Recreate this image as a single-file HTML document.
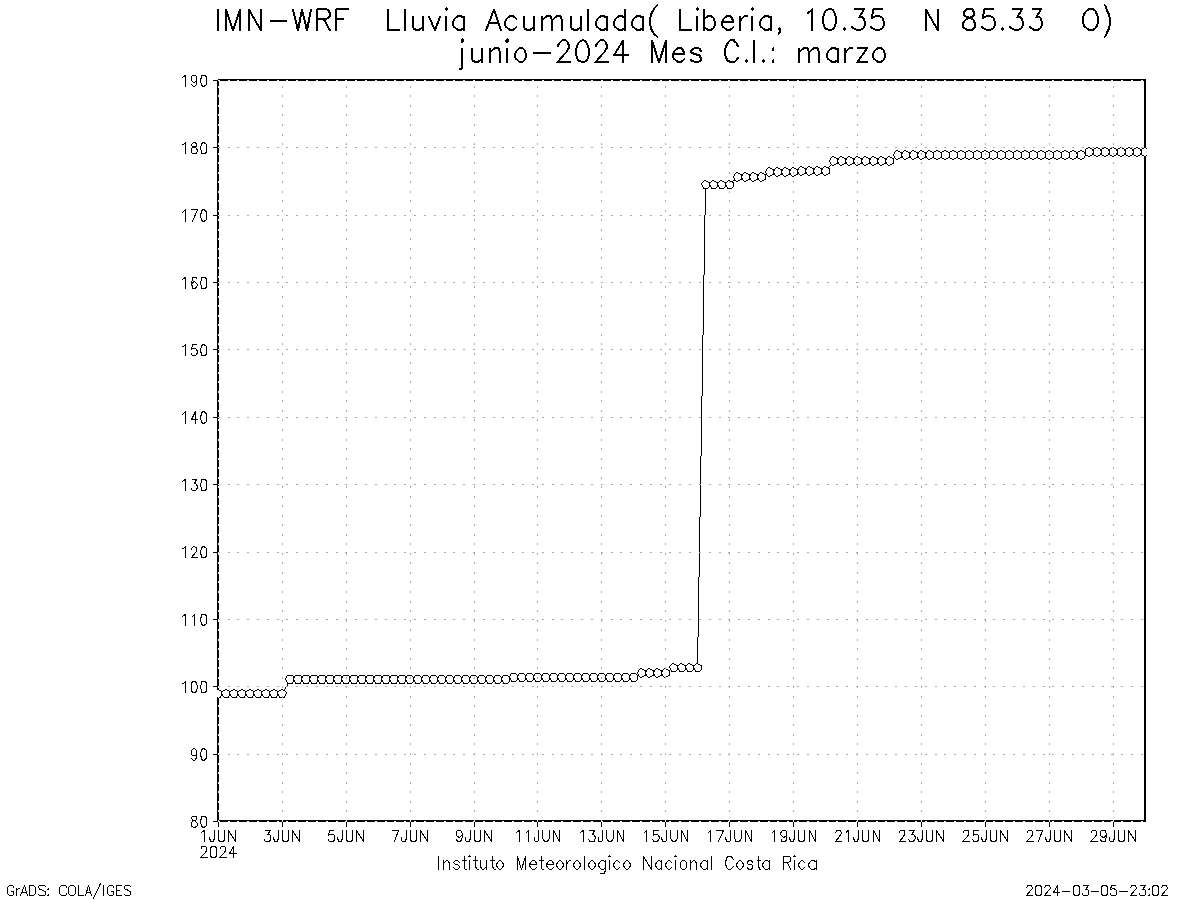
<!DOCTYPE html>
<html><head><meta charset="utf-8"><title>IMN-WRF Lluvia Acumulada Liberia</title>
<style>html,body{margin:0;padding:0;background:#fff;width:1200px;height:900px;overflow:hidden;font-family:"Liberation Sans",sans-serif}svg{display:block}</style>
</head><body>
<svg width="1200" height="900" viewBox="0 0 1200 900">
<rect width="1200" height="900" fill="#fff"/>
<path d="M217 80h2v742h-2zM218 79h928v2h-928zM1144 79h2v743h-2zM217 820h929v2h-929zM213 821h4v1h-4zM213 754h4v1h-4zM213 686h4v1h-4zM213 619h4v1h-4zM213 552h4v1h-4zM213 484h4v1h-4zM213 417h4v1h-4zM213 349h4v1h-4zM213 282h4v1h-4zM213 215h4v1h-4zM213 147h4v1h-4zM213 80h4v1h-4zM218 822h1v5h-1zM282 822h1v5h-1zM346 822h1v5h-1zM410 822h1v5h-1zM474 822h1v5h-1zM537 822h1v5h-1zM601 822h1v5h-1zM665 822h1v5h-1zM729 822h1v5h-1zM793 822h1v5h-1zM857 822h1v5h-1zM921 822h1v5h-1zM985 822h1v5h-1zM1049 822h1v5h-1zM1113 822h1v5h-1z" fill="#000" shape-rendering="crispEdges"/>
<path d="M1144 148h2v1h-2zM1144 149h3v1h-3zM1144 150h3v1h-3zM1144 151h3v1h-3zM1144 152h3v1h-3zM1144 153h3v1h-3zM1144 154h3v1h-3zM1144 155h2v1h-2zM217 690h2v1h-2zM217 691h2v1h-2zM217 692h2v1h-2zM217 693h2v1h-2zM217 694h2v1h-2zM217 695h2v1h-2zM217 696h2v1h-2z" fill="#fff" shape-rendering="crispEdges"/>
<path d="M1088 147h2v1h-2zM1096 147h2v1h-2zM1104 147h2v1h-2zM1112 147h2v1h-2zM1120 147h2v1h-2zM1128 147h2v1h-2zM1136 147h2v1h-2zM1144 147h2v1h-2zM1086 148h2v1h-2zM1090 148h2v1h-2zM1094 148h2v1h-2zM1098 148h2v1h-2zM1102 148h2v1h-2zM1106 148h2v1h-2zM1110 148h2v1h-2zM1114 148h2v1h-2zM1118 148h2v1h-2zM1122 148h2v1h-2zM1126 148h2v1h-2zM1130 148h2v1h-2zM1134 148h2v1h-2zM1138 148h2v1h-2zM1142 148h2v1h-2zM1146 148h1v1h-1zM1085 149h1v1h-1zM1092 149h2v1h-2zM1100 149h2v1h-2zM1108 149h2v1h-2zM1116 149h2v1h-2zM1124 149h2v1h-2zM1132 149h2v1h-2zM1140 149h2v1h-2zM896 150h2v1h-2zM904 150h2v1h-2zM912 150h2v1h-2zM920 150h2v1h-2zM928 150h2v1h-2zM936 150h2v1h-2zM944 150h2v1h-2zM952 150h2v1h-2zM960 150h2v1h-2zM968 150h2v1h-2zM976 150h2v1h-2zM984 150h2v1h-2zM992 150h2v1h-2zM1000 150h2v1h-2zM1008 150h2v1h-2zM1016 150h2v1h-2zM1024 150h2v1h-2zM1032 150h2v1h-2zM1040 150h2v1h-2zM1048 150h2v1h-2zM1056 150h2v1h-2zM1064 150h2v1h-2zM1072 150h2v1h-2zM1080 150h2v1h-2zM1085 150h1v1h-1zM1092 150h2v1h-2zM1100 150h2v1h-2zM1108 150h2v1h-2zM1116 150h2v1h-2zM1124 150h2v1h-2zM1132 150h2v1h-2zM1140 150h2v1h-2zM895 151h1v1h-1zM898 151h2v1h-2zM903 151h1v1h-1zM906 151h2v1h-2zM911 151h1v1h-1zM914 151h2v1h-2zM919 151h1v1h-1zM922 151h2v1h-2zM927 151h1v1h-1zM930 151h2v1h-2zM934 151h2v1h-2zM938 151h2v1h-2zM942 151h2v1h-2zM946 151h2v1h-2zM950 151h2v1h-2zM954 151h2v1h-2zM958 151h2v1h-2zM962 151h2v1h-2zM966 151h2v1h-2zM970 151h2v1h-2zM974 151h2v1h-2zM978 151h2v1h-2zM982 151h2v1h-2zM986 151h2v1h-2zM990 151h2v1h-2zM994 151h2v1h-2zM998 151h2v1h-2zM1002 151h2v1h-2zM1006 151h2v1h-2zM1010 151h2v1h-2zM1014 151h2v1h-2zM1018 151h2v1h-2zM1022 151h2v1h-2zM1026 151h2v1h-2zM1030 151h2v1h-2zM1034 151h2v1h-2zM1038 151h2v1h-2zM1042 151h2v1h-2zM1046 151h2v1h-2zM1050 151h2v1h-2zM1054 151h2v1h-2zM1058 151h2v1h-2zM1062 151h2v1h-2zM1066 151h2v1h-2zM1070 151h2v1h-2zM1074 151h2v1h-2zM1078 151h2v1h-2zM1082 151h2v1h-2zM1085 151h1v1h-1zM1093 151h1v1h-1zM1101 151h1v1h-1zM1109 151h1v1h-1zM1117 151h1v1h-1zM1125 151h1v1h-1zM1133 151h1v1h-1zM1141 151h1v1h-1zM894 152h1v1h-1zM900 152h3v1h-3zM908 152h3v1h-3zM916 152h3v1h-3zM924 152h3v1h-3zM932 152h2v1h-2zM940 152h2v1h-2zM948 152h2v1h-2zM956 152h2v1h-2zM964 152h2v1h-2zM972 152h2v1h-2zM980 152h2v1h-2zM988 152h2v1h-2zM996 152h2v1h-2zM1004 152h2v1h-2zM1012 152h2v1h-2zM1020 152h2v1h-2zM1028 152h2v1h-2zM1036 152h2v1h-2zM1044 152h2v1h-2zM1052 152h2v1h-2zM1060 152h2v1h-2zM1068 152h2v1h-2zM1076 152h2v1h-2zM1084 152h2v1h-2zM1093 152h1v1h-1zM1101 152h1v1h-1zM1109 152h1v1h-1zM1117 152h1v1h-1zM1125 152h1v1h-1zM1133 152h1v1h-1zM1141 152h1v1h-1zM894 153h1v1h-1zM901 153h2v1h-2zM909 153h2v1h-2zM917 153h2v1h-2zM925 153h2v1h-2zM933 153h1v1h-1zM941 153h1v1h-1zM949 153h1v1h-1zM957 153h1v1h-1zM965 153h1v1h-1zM973 153h1v1h-1zM981 153h1v1h-1zM989 153h1v1h-1zM997 153h1v1h-1zM1005 153h1v1h-1zM1013 153h1v1h-1zM1021 153h1v1h-1zM1029 153h1v1h-1zM1037 153h1v1h-1zM1045 153h1v1h-1zM1053 153h1v1h-1zM1061 153h1v1h-1zM1069 153h1v1h-1zM1076 153h2v1h-2zM1084 153h2v1h-2zM1092 153h2v1h-2zM1100 153h2v1h-2zM1108 153h2v1h-2zM1116 153h2v1h-2zM1124 153h2v1h-2zM1132 153h2v1h-2zM1140 153h2v1h-2zM893 154h1v1h-1zM901 154h1v1h-1zM909 154h1v1h-1zM917 154h1v1h-1zM925 154h1v1h-1zM933 154h1v1h-1zM941 154h1v1h-1zM949 154h1v1h-1zM957 154h1v1h-1zM965 154h1v1h-1zM973 154h1v1h-1zM981 154h1v1h-1zM989 154h1v1h-1zM997 154h1v1h-1zM1005 154h1v1h-1zM1013 154h1v1h-1zM1021 154h1v1h-1zM1029 154h1v1h-1zM1037 154h1v1h-1zM1045 154h1v1h-1zM1053 154h1v1h-1zM1061 154h1v1h-1zM1069 154h1v1h-1zM1077 154h1v1h-1zM1085 154h1v1h-1zM1092 154h2v1h-2zM1100 154h2v1h-2zM1108 154h2v1h-2zM1116 154h2v1h-2zM1124 154h2v1h-2zM1132 154h2v1h-2zM1140 154h2v1h-2zM893 155h1v1h-1zM901 155h1v1h-1zM909 155h1v1h-1zM917 155h1v1h-1zM925 155h1v1h-1zM933 155h1v1h-1zM941 155h1v1h-1zM949 155h1v1h-1zM957 155h1v1h-1zM965 155h1v1h-1zM973 155h1v1h-1zM981 155h1v1h-1zM989 155h1v1h-1zM997 155h1v1h-1zM1005 155h1v1h-1zM1013 155h1v1h-1zM1021 155h1v1h-1zM1029 155h1v1h-1zM1037 155h1v1h-1zM1045 155h1v1h-1zM1053 155h1v1h-1zM1061 155h1v1h-1zM1069 155h1v1h-1zM1077 155h1v1h-1zM1085 155h3v1h-3zM1090 155h2v1h-2zM1094 155h2v1h-2zM1098 155h2v1h-2zM1102 155h2v1h-2zM1106 155h2v1h-2zM1110 155h2v1h-2zM1114 155h2v1h-2zM1118 155h2v1h-2zM1122 155h2v1h-2zM1126 155h2v1h-2zM1130 155h2v1h-2zM1134 155h2v1h-2zM1138 155h2v1h-2zM1142 155h2v1h-2zM1146 155h1v1h-1zM832 156h2v1h-2zM840 156h2v1h-2zM848 156h2v1h-2zM856 156h2v1h-2zM864 156h2v1h-2zM872 156h2v1h-2zM880 156h2v1h-2zM888 156h2v1h-2zM894 156h1v1h-1zM901 156h2v1h-2zM909 156h2v1h-2zM917 156h2v1h-2zM925 156h2v1h-2zM933 156h1v1h-1zM941 156h1v1h-1zM949 156h1v1h-1zM957 156h1v1h-1zM965 156h1v1h-1zM973 156h1v1h-1zM981 156h1v1h-1zM989 156h1v1h-1zM997 156h1v1h-1zM1005 156h1v1h-1zM1013 156h1v1h-1zM1021 156h1v1h-1zM1029 156h1v1h-1zM1037 156h1v1h-1zM1045 156h1v1h-1zM1053 156h1v1h-1zM1061 156h1v1h-1zM1069 156h1v1h-1zM1076 156h2v1h-2zM1084 156h1v1h-1zM1088 156h2v1h-2zM1096 156h2v1h-2zM1104 156h2v1h-2zM1112 156h2v1h-2zM1120 156h2v1h-2zM1128 156h2v1h-2zM1136 156h2v1h-2zM1144 156h2v1h-2zM831 157h1v1h-1zM834 157h2v1h-2zM839 157h1v1h-1zM842 157h2v1h-2zM847 157h1v1h-1zM850 157h2v1h-2zM855 157h1v1h-1zM858 157h2v1h-2zM863 157h1v1h-1zM866 157h2v1h-2zM871 157h1v1h-1zM874 157h2v1h-2zM879 157h1v1h-1zM882 157h2v1h-2zM887 157h1v1h-1zM890 157h2v1h-2zM894 157h1v1h-1zM900 157h3v1h-3zM908 157h3v1h-3zM916 157h3v1h-3zM924 157h3v1h-3zM932 157h2v1h-2zM940 157h2v1h-2zM948 157h2v1h-2zM956 157h2v1h-2zM964 157h2v1h-2zM972 157h2v1h-2zM980 157h2v1h-2zM988 157h2v1h-2zM996 157h2v1h-2zM1004 157h2v1h-2zM1012 157h2v1h-2zM1020 157h2v1h-2zM1028 157h2v1h-2zM1036 157h2v1h-2zM1044 157h2v1h-2zM1052 157h2v1h-2zM1060 157h2v1h-2zM1068 157h2v1h-2zM1076 157h2v1h-2zM1084 157h1v1h-1zM830 158h1v1h-1zM836 158h3v1h-3zM844 158h3v1h-3zM852 158h3v1h-3zM860 158h3v1h-3zM868 158h3v1h-3zM876 158h3v1h-3zM884 158h3v1h-3zM892 158h2v1h-2zM895 158h1v1h-1zM898 158h2v1h-2zM903 158h1v1h-1zM906 158h2v1h-2zM911 158h1v1h-1zM914 158h2v1h-2zM919 158h1v1h-1zM922 158h2v1h-2zM927 158h1v1h-1zM930 158h2v1h-2zM934 158h2v1h-2zM938 158h2v1h-2zM942 158h2v1h-2zM946 158h2v1h-2zM950 158h2v1h-2zM954 158h2v1h-2zM958 158h2v1h-2zM962 158h2v1h-2zM966 158h2v1h-2zM970 158h2v1h-2zM974 158h2v1h-2zM978 158h2v1h-2zM982 158h2v1h-2zM986 158h2v1h-2zM990 158h2v1h-2zM994 158h2v1h-2zM998 158h2v1h-2zM1002 158h2v1h-2zM1006 158h2v1h-2zM1010 158h2v1h-2zM1014 158h2v1h-2zM1018 158h2v1h-2zM1022 158h2v1h-2zM1026 158h2v1h-2zM1030 158h2v1h-2zM1034 158h2v1h-2zM1038 158h2v1h-2zM1042 158h2v1h-2zM1046 158h2v1h-2zM1050 158h2v1h-2zM1054 158h2v1h-2zM1058 158h2v1h-2zM1062 158h2v1h-2zM1066 158h2v1h-2zM1070 158h2v1h-2zM1074 158h2v1h-2zM1078 158h2v1h-2zM1082 158h2v1h-2zM830 159h1v1h-1zM837 159h2v1h-2zM845 159h2v1h-2zM853 159h2v1h-2zM861 159h2v1h-2zM869 159h2v1h-2zM877 159h2v1h-2zM885 159h2v1h-2zM893 159h1v1h-1zM896 159h2v1h-2zM904 159h2v1h-2zM912 159h2v1h-2zM920 159h2v1h-2zM928 159h2v1h-2zM936 159h2v1h-2zM944 159h2v1h-2zM952 159h2v1h-2zM960 159h2v1h-2zM968 159h2v1h-2zM976 159h2v1h-2zM984 159h2v1h-2zM992 159h2v1h-2zM1000 159h2v1h-2zM1008 159h2v1h-2zM1016 159h2v1h-2zM1024 159h2v1h-2zM1032 159h2v1h-2zM1040 159h2v1h-2zM1048 159h2v1h-2zM1056 159h2v1h-2zM1064 159h2v1h-2zM1072 159h2v1h-2zM1080 159h2v1h-2zM829 160h1v1h-1zM837 160h1v1h-1zM845 160h1v1h-1zM853 160h1v1h-1zM861 160h1v1h-1zM869 160h1v1h-1zM877 160h1v1h-1zM885 160h1v1h-1zM893 160h1v1h-1zM829 161h1v1h-1zM837 161h1v1h-1zM845 161h1v1h-1zM853 161h1v1h-1zM861 161h1v1h-1zM869 161h1v1h-1zM877 161h1v1h-1zM885 161h1v1h-1zM893 161h1v1h-1zM830 162h1v1h-1zM837 162h2v1h-2zM845 162h2v1h-2zM853 162h2v1h-2zM861 162h2v1h-2zM869 162h2v1h-2zM877 162h2v1h-2zM885 162h2v1h-2zM893 162h1v1h-1zM830 163h1v1h-1zM836 163h3v1h-3zM844 163h3v1h-3zM852 163h3v1h-3zM860 163h3v1h-3zM868 163h3v1h-3zM876 163h3v1h-3zM884 163h3v1h-3zM892 163h2v1h-2zM831 164h1v1h-1zM834 164h2v1h-2zM839 164h1v1h-1zM842 164h2v1h-2zM847 164h1v1h-1zM850 164h2v1h-2zM855 164h1v1h-1zM858 164h2v1h-2zM863 164h1v1h-1zM866 164h2v1h-2zM871 164h1v1h-1zM874 164h2v1h-2zM879 164h1v1h-1zM882 164h2v1h-2zM887 164h1v1h-1zM890 164h2v1h-2zM830 165h1v1h-1zM832 165h2v1h-2zM840 165h2v1h-2zM848 165h2v1h-2zM856 165h2v1h-2zM864 165h2v1h-2zM872 165h2v1h-2zM880 165h2v1h-2zM888 165h2v1h-2zM800 166h2v1h-2zM808 166h2v1h-2zM816 166h2v1h-2zM824 166h2v1h-2zM829 166h1v1h-1zM768 167h2v1h-2zM776 167h2v1h-2zM784 167h2v1h-2zM792 167h2v1h-2zM799 167h1v1h-1zM802 167h2v1h-2zM807 167h1v1h-1zM810 167h2v1h-2zM815 167h1v1h-1zM818 167h2v1h-2zM823 167h1v1h-1zM826 167h3v1h-3zM767 168h1v1h-1zM770 168h2v1h-2zM775 168h1v1h-1zM778 168h2v1h-2zM783 168h1v1h-1zM786 168h2v1h-2zM791 168h1v1h-1zM794 168h2v1h-2zM798 168h1v1h-1zM804 168h3v1h-3zM812 168h3v1h-3zM820 168h3v1h-3zM828 168h2v1h-2zM766 169h1v1h-1zM772 169h3v1h-3zM780 169h3v1h-3zM788 169h3v1h-3zM796 169h3v1h-3zM805 169h2v1h-2zM813 169h2v1h-2zM821 169h2v1h-2zM829 169h1v1h-1zM766 170h1v1h-1zM773 170h2v1h-2zM781 170h2v1h-2zM789 170h2v1h-2zM797 170h1v1h-1zM805 170h1v1h-1zM813 170h1v1h-1zM821 170h1v1h-1zM829 170h1v1h-1zM765 171h1v1h-1zM773 171h1v1h-1zM781 171h1v1h-1zM789 171h1v1h-1zM797 171h1v1h-1zM805 171h1v1h-1zM813 171h1v1h-1zM821 171h1v1h-1zM829 171h1v1h-1zM736 172h2v1h-2zM744 172h2v1h-2zM752 172h2v1h-2zM760 172h2v1h-2zM765 172h1v1h-1zM773 172h1v1h-1zM781 172h1v1h-1zM789 172h1v1h-1zM797 172h2v1h-2zM805 172h2v1h-2zM813 172h2v1h-2zM821 172h2v1h-2zM829 172h1v1h-1zM735 173h1v1h-1zM738 173h2v1h-2zM743 173h1v1h-1zM746 173h2v1h-2zM751 173h1v1h-1zM754 173h2v1h-2zM759 173h1v1h-1zM762 173h2v1h-2zM766 173h1v1h-1zM773 173h2v1h-2zM781 173h2v1h-2zM789 173h2v1h-2zM797 173h2v1h-2zM804 173h3v1h-3zM812 173h3v1h-3zM820 173h3v1h-3zM828 173h2v1h-2zM734 174h1v1h-1zM740 174h3v1h-3zM748 174h3v1h-3zM756 174h3v1h-3zM764 174h3v1h-3zM772 174h3v1h-3zM780 174h3v1h-3zM788 174h3v1h-3zM796 174h2v1h-2zM799 174h1v1h-1zM802 174h2v1h-2zM807 174h1v1h-1zM810 174h2v1h-2zM815 174h1v1h-1zM818 174h2v1h-2zM823 174h1v1h-1zM826 174h2v1h-2zM734 175h1v1h-1zM741 175h2v1h-2zM749 175h2v1h-2zM757 175h2v1h-2zM765 175h1v1h-1zM767 175h1v1h-1zM770 175h2v1h-2zM775 175h1v1h-1zM778 175h2v1h-2zM783 175h1v1h-1zM786 175h2v1h-2zM791 175h1v1h-1zM794 175h2v1h-2zM800 175h2v1h-2zM808 175h2v1h-2zM816 175h2v1h-2zM824 175h2v1h-2zM733 176h1v1h-1zM741 176h1v1h-1zM749 176h1v1h-1zM757 176h1v1h-1zM765 176h1v1h-1zM768 176h2v1h-2zM776 176h2v1h-2zM784 176h2v1h-2zM792 176h2v1h-2zM733 177h1v1h-1zM741 177h1v1h-1zM749 177h1v1h-1zM757 177h1v1h-1zM765 177h1v1h-1zM734 178h1v1h-1zM741 178h2v1h-2zM749 178h2v1h-2zM757 178h2v1h-2zM765 178h1v1h-1zM734 179h1v1h-1zM740 179h3v1h-3zM748 179h3v1h-3zM756 179h3v1h-3zM764 179h2v1h-2zM704 180h2v1h-2zM712 180h2v1h-2zM720 180h2v1h-2zM728 180h2v1h-2zM733 180h3v1h-3zM738 180h2v1h-2zM743 180h1v1h-1zM746 180h2v1h-2zM751 180h1v1h-1zM754 180h2v1h-2zM759 180h1v1h-1zM762 180h2v1h-2zM703 181h1v1h-1zM706 181h2v1h-2zM711 181h1v1h-1zM714 181h2v1h-2zM719 181h1v1h-1zM722 181h2v1h-2zM727 181h1v1h-1zM730 181h3v1h-3zM736 181h2v1h-2zM744 181h2v1h-2zM752 181h2v1h-2zM760 181h2v1h-2zM702 182h1v1h-1zM708 182h3v1h-3zM716 182h3v1h-3zM724 182h3v1h-3zM732 182h2v1h-2zM701 183h1v1h-1zM709 183h1v1h-1zM717 183h1v1h-1zM725 183h1v1h-1zM733 183h1v1h-1zM701 184h1v1h-1zM709 184h1v1h-1zM717 184h1v1h-1zM725 184h1v1h-1zM733 184h1v1h-1zM702 185h1v1h-1zM709 185h2v1h-2zM717 185h2v1h-2zM725 185h2v1h-2zM733 185h1v1h-1zM702 186h1v1h-1zM709 186h2v1h-2zM717 186h2v1h-2zM725 186h2v1h-2zM733 186h1v1h-1zM703 187h1v1h-1zM708 187h1v1h-1zM711 187h1v1h-1zM716 187h1v1h-1zM719 187h1v1h-1zM724 187h1v1h-1zM727 187h1v1h-1zM732 187h1v1h-1zM703 188h5v1h-5zM711 188h5v1h-5zM719 188h5v1h-5zM727 188h5v1h-5zM705 189h1v1h-1zM705 190h1v1h-1zM705 191h1v1h-1zM705 192h1v1h-1zM705 193h1v1h-1zM705 194h1v1h-1zM705 195h1v1h-1zM705 196h1v1h-1zM705 197h1v1h-1zM705 198h1v1h-1zM705 199h1v1h-1zM705 200h1v1h-1zM705 201h1v1h-1zM705 202h1v1h-1zM705 203h1v1h-1zM705 204h1v1h-1zM705 205h1v1h-1zM705 206h1v1h-1zM705 207h1v1h-1zM705 208h1v1h-1zM705 209h1v1h-1zM705 210h1v1h-1zM705 211h1v1h-1zM705 212h1v1h-1zM705 213h1v1h-1zM705 214h1v1h-1zM704 215h1v1h-1zM704 216h1v1h-1zM704 217h1v1h-1zM704 218h1v1h-1zM704 219h1v1h-1zM704 220h1v1h-1zM704 221h1v1h-1zM704 222h1v1h-1zM704 223h1v1h-1zM704 224h1v1h-1zM704 225h1v1h-1zM704 226h1v1h-1zM704 227h1v1h-1zM704 228h1v1h-1zM704 229h1v1h-1zM704 230h1v1h-1zM704 231h1v1h-1zM704 232h1v1h-1zM704 233h1v1h-1zM704 234h1v1h-1zM704 235h1v1h-1zM704 236h1v1h-1zM704 237h1v1h-1zM704 238h1v1h-1zM704 239h1v1h-1zM704 240h1v1h-1zM704 241h1v1h-1zM704 242h1v1h-1zM704 243h1v1h-1zM704 244h1v1h-1zM704 245h1v1h-1zM704 246h1v1h-1zM704 247h1v1h-1zM704 248h1v1h-1zM704 249h1v1h-1zM704 250h1v1h-1zM704 251h1v1h-1zM704 252h1v1h-1zM704 253h1v1h-1zM704 254h1v1h-1zM704 255h1v1h-1zM704 256h1v1h-1zM704 257h1v1h-1zM704 258h1v1h-1zM704 259h1v1h-1zM704 260h1v1h-1zM704 261h1v1h-1zM704 262h1v1h-1zM704 263h1v1h-1zM704 264h1v1h-1zM704 265h1v1h-1zM704 266h1v1h-1zM704 267h1v1h-1zM704 268h1v1h-1zM704 269h1v1h-1zM704 270h1v1h-1zM704 271h1v1h-1zM704 272h1v1h-1zM704 273h1v1h-1zM704 274h1v1h-1zM703 275h1v1h-1zM703 276h1v1h-1zM703 277h1v1h-1zM703 278h1v1h-1zM703 279h1v1h-1zM703 280h1v1h-1zM703 281h1v1h-1zM703 282h1v1h-1zM703 283h1v1h-1zM703 284h1v1h-1zM703 285h1v1h-1zM703 286h1v1h-1zM703 287h1v1h-1zM703 288h1v1h-1zM703 289h1v1h-1zM703 290h1v1h-1zM703 291h1v1h-1zM703 292h1v1h-1zM703 293h1v1h-1zM703 294h1v1h-1zM703 295h1v1h-1zM703 296h1v1h-1zM703 297h1v1h-1zM703 298h1v1h-1zM703 299h1v1h-1zM703 300h1v1h-1zM703 301h1v1h-1zM703 302h1v1h-1zM703 303h1v1h-1zM703 304h1v1h-1zM703 305h1v1h-1zM703 306h1v1h-1zM703 307h1v1h-1zM703 308h1v1h-1zM703 309h1v1h-1zM703 310h1v1h-1zM703 311h1v1h-1zM703 312h1v1h-1zM703 313h1v1h-1zM703 314h1v1h-1zM703 315h1v1h-1zM703 316h1v1h-1zM703 317h1v1h-1zM703 318h1v1h-1zM703 319h1v1h-1zM703 320h1v1h-1zM703 321h1v1h-1zM703 322h1v1h-1zM703 323h1v1h-1zM703 324h1v1h-1zM703 325h1v1h-1zM703 326h1v1h-1zM703 327h1v1h-1zM703 328h1v1h-1zM703 329h1v1h-1zM703 330h1v1h-1zM703 331h1v1h-1zM703 332h1v1h-1zM703 333h1v1h-1zM703 334h1v1h-1zM702 335h1v1h-1zM702 336h1v1h-1zM702 337h1v1h-1zM702 338h1v1h-1zM702 339h1v1h-1zM702 340h1v1h-1zM702 341h1v1h-1zM702 342h1v1h-1zM702 343h1v1h-1zM702 344h1v1h-1zM702 345h1v1h-1zM702 346h1v1h-1zM702 347h1v1h-1zM702 348h1v1h-1zM702 349h1v1h-1zM702 350h1v1h-1zM702 351h1v1h-1zM702 352h1v1h-1zM702 353h1v1h-1zM702 354h1v1h-1zM702 355h1v1h-1zM702 356h1v1h-1zM702 357h1v1h-1zM702 358h1v1h-1zM702 359h1v1h-1zM702 360h1v1h-1zM702 361h1v1h-1zM702 362h1v1h-1zM702 363h1v1h-1zM702 364h1v1h-1zM702 365h1v1h-1zM702 366h1v1h-1zM702 367h1v1h-1zM702 368h1v1h-1zM702 369h1v1h-1zM702 370h1v1h-1zM702 371h1v1h-1zM702 372h1v1h-1zM702 373h1v1h-1zM702 374h1v1h-1zM702 375h1v1h-1zM702 376h1v1h-1zM702 377h1v1h-1zM702 378h1v1h-1zM702 379h1v1h-1zM702 380h1v1h-1zM702 381h1v1h-1zM702 382h1v1h-1zM702 383h1v1h-1zM702 384h1v1h-1zM702 385h1v1h-1zM702 386h1v1h-1zM702 387h1v1h-1zM702 388h1v1h-1zM702 389h1v1h-1zM702 390h1v1h-1zM702 391h1v1h-1zM702 392h1v1h-1zM702 393h1v1h-1zM702 394h1v1h-1zM702 395h1v1h-1zM701 396h1v1h-1zM701 397h1v1h-1zM701 398h1v1h-1zM701 399h1v1h-1zM701 400h1v1h-1zM701 401h1v1h-1zM701 402h1v1h-1zM701 403h1v1h-1zM701 404h1v1h-1zM701 405h1v1h-1zM701 406h1v1h-1zM701 407h1v1h-1zM701 408h1v1h-1zM701 409h1v1h-1zM701 410h1v1h-1zM701 411h1v1h-1zM701 412h1v1h-1zM701 413h1v1h-1zM701 414h1v1h-1zM701 415h1v1h-1zM701 416h1v1h-1zM701 417h1v1h-1zM701 418h1v1h-1zM701 419h1v1h-1zM701 420h1v1h-1zM701 421h1v1h-1zM701 422h1v1h-1zM701 423h1v1h-1zM701 424h1v1h-1zM701 425h1v1h-1zM701 426h1v1h-1zM701 427h1v1h-1zM701 428h1v1h-1zM701 429h1v1h-1zM701 430h1v1h-1zM701 431h1v1h-1zM701 432h1v1h-1zM701 433h1v1h-1zM701 434h1v1h-1zM701 435h1v1h-1zM701 436h1v1h-1zM701 437h1v1h-1zM701 438h1v1h-1zM701 439h1v1h-1zM701 440h1v1h-1zM701 441h1v1h-1zM701 442h1v1h-1zM701 443h1v1h-1zM701 444h1v1h-1zM701 445h1v1h-1zM701 446h1v1h-1zM701 447h1v1h-1zM701 448h1v1h-1zM701 449h1v1h-1zM701 450h1v1h-1zM701 451h1v1h-1zM701 452h1v1h-1zM701 453h1v1h-1zM701 454h1v1h-1zM701 455h1v1h-1zM700 456h1v1h-1zM700 457h1v1h-1zM700 458h1v1h-1zM700 459h1v1h-1zM700 460h1v1h-1zM700 461h1v1h-1zM700 462h1v1h-1zM700 463h1v1h-1zM700 464h1v1h-1zM700 465h1v1h-1zM700 466h1v1h-1zM700 467h1v1h-1zM700 468h1v1h-1zM700 469h1v1h-1zM700 470h1v1h-1zM700 471h1v1h-1zM700 472h1v1h-1zM700 473h1v1h-1zM700 474h1v1h-1zM700 475h1v1h-1zM700 476h1v1h-1zM700 477h1v1h-1zM700 478h1v1h-1zM700 479h1v1h-1zM700 480h1v1h-1zM700 481h1v1h-1zM700 482h1v1h-1zM700 483h1v1h-1zM700 484h1v1h-1zM700 485h1v1h-1zM700 486h1v1h-1zM700 487h1v1h-1zM700 488h1v1h-1zM700 489h1v1h-1zM700 490h1v1h-1zM700 491h1v1h-1zM700 492h1v1h-1zM700 493h1v1h-1zM700 494h1v1h-1zM700 495h1v1h-1zM700 496h1v1h-1zM700 497h1v1h-1zM700 498h1v1h-1zM700 499h1v1h-1zM700 500h1v1h-1zM700 501h1v1h-1zM700 502h1v1h-1zM700 503h1v1h-1zM700 504h1v1h-1zM700 505h1v1h-1zM700 506h1v1h-1zM700 507h1v1h-1zM700 508h1v1h-1zM700 509h1v1h-1zM700 510h1v1h-1zM700 511h1v1h-1zM700 512h1v1h-1zM700 513h1v1h-1zM700 514h1v1h-1zM700 515h1v1h-1zM700 516h1v1h-1zM699 517h1v1h-1zM699 518h1v1h-1zM699 519h1v1h-1zM699 520h1v1h-1zM699 521h1v1h-1zM699 522h1v1h-1zM699 523h1v1h-1zM699 524h1v1h-1zM699 525h1v1h-1zM699 526h1v1h-1zM699 527h1v1h-1zM699 528h1v1h-1zM699 529h1v1h-1zM699 530h1v1h-1zM699 531h1v1h-1zM699 532h1v1h-1zM699 533h1v1h-1zM699 534h1v1h-1zM699 535h1v1h-1zM699 536h1v1h-1zM699 537h1v1h-1zM699 538h1v1h-1zM699 539h1v1h-1zM699 540h1v1h-1zM699 541h1v1h-1zM699 542h1v1h-1zM699 543h1v1h-1zM699 544h1v1h-1zM699 545h1v1h-1zM699 546h1v1h-1zM699 547h1v1h-1zM699 548h1v1h-1zM699 549h1v1h-1zM699 550h1v1h-1zM699 551h1v1h-1zM699 552h1v1h-1zM699 553h1v1h-1zM699 554h1v1h-1zM699 555h1v1h-1zM699 556h1v1h-1zM699 557h1v1h-1zM699 558h1v1h-1zM699 559h1v1h-1zM699 560h1v1h-1zM699 561h1v1h-1zM699 562h1v1h-1zM699 563h1v1h-1zM699 564h1v1h-1zM699 565h1v1h-1zM699 566h1v1h-1zM699 567h1v1h-1zM699 568h1v1h-1zM699 569h1v1h-1zM699 570h1v1h-1zM699 571h1v1h-1zM699 572h1v1h-1zM699 573h1v1h-1zM699 574h1v1h-1zM699 575h1v1h-1zM699 576h1v1h-1zM698 577h1v1h-1zM698 578h1v1h-1zM698 579h1v1h-1zM698 580h1v1h-1zM698 581h1v1h-1zM698 582h1v1h-1zM698 583h1v1h-1zM698 584h1v1h-1zM698 585h1v1h-1zM698 586h1v1h-1zM698 587h1v1h-1zM698 588h1v1h-1zM698 589h1v1h-1zM698 590h1v1h-1zM698 591h1v1h-1zM698 592h1v1h-1zM698 593h1v1h-1zM698 594h1v1h-1zM698 595h1v1h-1zM698 596h1v1h-1zM698 597h1v1h-1zM698 598h1v1h-1zM698 599h1v1h-1zM698 600h1v1h-1zM698 601h1v1h-1zM698 602h1v1h-1zM698 603h1v1h-1zM698 604h1v1h-1zM698 605h1v1h-1zM698 606h1v1h-1zM698 607h1v1h-1zM698 608h1v1h-1zM698 609h1v1h-1zM698 610h1v1h-1zM698 611h1v1h-1zM698 612h1v1h-1zM698 613h1v1h-1zM698 614h1v1h-1zM698 615h1v1h-1zM698 616h1v1h-1zM698 617h1v1h-1zM698 618h1v1h-1zM698 619h1v1h-1zM698 620h1v1h-1zM698 621h1v1h-1zM698 622h1v1h-1zM698 623h1v1h-1zM698 624h1v1h-1zM698 625h1v1h-1zM698 626h1v1h-1zM698 627h1v1h-1zM698 628h1v1h-1zM698 629h1v1h-1zM698 630h1v1h-1zM698 631h1v1h-1zM698 632h1v1h-1zM698 633h1v1h-1zM698 634h1v1h-1zM698 635h1v1h-1zM698 636h1v1h-1zM697 637h1v1h-1zM697 638h1v1h-1zM697 639h1v1h-1zM697 640h1v1h-1zM697 641h1v1h-1zM697 642h1v1h-1zM697 643h1v1h-1zM697 644h1v1h-1zM697 645h1v1h-1zM697 646h1v1h-1zM697 647h1v1h-1zM697 648h1v1h-1zM697 649h1v1h-1zM697 650h1v1h-1zM697 651h1v1h-1zM697 652h1v1h-1zM697 653h1v1h-1zM697 654h1v1h-1zM697 655h1v1h-1zM697 656h1v1h-1zM697 657h1v1h-1zM697 658h1v1h-1zM697 659h1v1h-1zM697 660h1v1h-1zM697 661h1v1h-1zM697 662h1v1h-1zM672 663h2v1h-2zM680 663h2v1h-2zM688 663h2v1h-2zM696 663h2v1h-2zM671 664h1v1h-1zM674 664h2v1h-2zM679 664h1v1h-1zM682 664h2v1h-2zM687 664h1v1h-1zM690 664h2v1h-2zM695 664h1v1h-1zM698 664h2v1h-2zM670 665h1v1h-1zM676 665h3v1h-3zM684 665h3v1h-3zM692 665h3v1h-3zM700 665h2v1h-2zM669 666h1v1h-1zM677 666h1v1h-1zM685 666h1v1h-1zM693 666h1v1h-1zM701 666h1v1h-1zM669 667h1v1h-1zM677 667h1v1h-1zM685 667h1v1h-1zM693 667h1v1h-1zM701 667h1v1h-1zM640 668h2v1h-2zM648 668h2v1h-2zM656 668h2v1h-2zM664 668h2v1h-2zM670 668h1v1h-1zM677 668h2v1h-2zM685 668h2v1h-2zM693 668h2v1h-2zM701 668h1v1h-1zM639 669h1v1h-1zM642 669h2v1h-2zM647 669h1v1h-1zM650 669h2v1h-2zM655 669h1v1h-1zM658 669h2v1h-2zM663 669h1v1h-1zM666 669h2v1h-2zM670 669h1v1h-1zM677 669h2v1h-2zM685 669h2v1h-2zM693 669h2v1h-2zM701 669h1v1h-1zM638 670h1v1h-1zM644 670h3v1h-3zM652 670h3v1h-3zM660 670h3v1h-3zM668 670h2v1h-2zM671 670h1v1h-1zM676 670h1v1h-1zM679 670h1v1h-1zM684 670h1v1h-1zM687 670h1v1h-1zM692 670h1v1h-1zM695 670h1v1h-1zM700 670h1v1h-1zM638 671h1v1h-1zM645 671h2v1h-2zM653 671h2v1h-2zM661 671h2v1h-2zM669 671h1v1h-1zM671 671h5v1h-5zM679 671h5v1h-5zM687 671h5v1h-5zM695 671h5v1h-5zM637 672h1v1h-1zM645 672h1v1h-1zM653 672h1v1h-1zM661 672h1v1h-1zM669 672h1v1h-1zM511 673h5v1h-5zM519 673h5v1h-5zM527 673h5v1h-5zM535 673h5v1h-5zM543 673h5v1h-5zM551 673h5v1h-5zM559 673h5v1h-5zM567 673h5v1h-5zM575 673h5v1h-5zM583 673h5v1h-5zM591 673h5v1h-5zM599 673h5v1h-5zM607 673h5v1h-5zM615 673h5v1h-5zM623 673h5v1h-5zM631 673h5v1h-5zM637 673h1v1h-1zM645 673h1v1h-1zM653 673h1v1h-1zM661 673h1v1h-1zM669 673h1v1h-1zM510 674h1v1h-1zM516 674h1v1h-1zM518 674h1v1h-1zM524 674h1v1h-1zM526 674h1v1h-1zM532 674h1v1h-1zM534 674h1v1h-1zM540 674h1v1h-1zM542 674h1v1h-1zM548 674h1v1h-1zM550 674h1v1h-1zM556 674h1v1h-1zM558 674h1v1h-1zM564 674h1v1h-1zM566 674h1v1h-1zM572 674h1v1h-1zM574 674h1v1h-1zM580 674h1v1h-1zM582 674h1v1h-1zM588 674h1v1h-1zM590 674h1v1h-1zM596 674h1v1h-1zM598 674h1v1h-1zM604 674h1v1h-1zM606 674h1v1h-1zM612 674h1v1h-1zM614 674h1v1h-1zM620 674h1v1h-1zM622 674h1v1h-1zM628 674h1v1h-1zM630 674h1v1h-1zM636 674h1v1h-1zM638 674h1v1h-1zM645 674h2v1h-2zM653 674h2v1h-2zM661 674h2v1h-2zM669 674h1v1h-1zM287 675h6v1h-6zM295 675h6v1h-6zM303 675h6v1h-6zM311 675h6v1h-6zM319 675h6v1h-6zM327 675h6v1h-6zM335 675h6v1h-6zM343 675h6v1h-6zM351 675h6v1h-6zM359 675h6v1h-6zM367 675h6v1h-6zM375 675h6v1h-6zM383 675h6v1h-6zM391 675h6v1h-6zM399 675h6v1h-6zM407 675h5v1h-5zM415 675h5v1h-5zM423 675h5v1h-5zM431 675h5v1h-5zM439 675h5v1h-5zM447 675h5v1h-5zM455 675h5v1h-5zM463 675h5v1h-5zM471 675h5v1h-5zM479 675h5v1h-5zM487 675h5v1h-5zM495 675h5v1h-5zM503 675h5v1h-5zM510 675h1v1h-1zM517 675h2v1h-2zM525 675h2v1h-2zM533 675h2v1h-2zM541 675h2v1h-2zM549 675h2v1h-2zM557 675h2v1h-2zM565 675h2v1h-2zM573 675h2v1h-2zM581 675h2v1h-2zM589 675h2v1h-2zM597 675h2v1h-2zM605 675h2v1h-2zM613 675h2v1h-2zM621 675h2v1h-2zM629 675h2v1h-2zM637 675h2v1h-2zM644 675h3v1h-3zM652 675h3v1h-3zM660 675h3v1h-3zM668 675h2v1h-2zM286 676h1v1h-1zM293 676h2v1h-2zM301 676h2v1h-2zM309 676h2v1h-2zM317 676h2v1h-2zM325 676h2v1h-2zM333 676h2v1h-2zM341 676h2v1h-2zM349 676h2v1h-2zM357 676h2v1h-2zM365 676h2v1h-2zM373 676h2v1h-2zM381 676h2v1h-2zM389 676h2v1h-2zM397 676h2v1h-2zM405 676h2v1h-2zM412 676h1v1h-1zM414 676h1v1h-1zM420 676h1v1h-1zM422 676h1v1h-1zM428 676h1v1h-1zM430 676h1v1h-1zM436 676h1v1h-1zM438 676h1v1h-1zM444 676h1v1h-1zM446 676h1v1h-1zM452 676h1v1h-1zM454 676h1v1h-1zM460 676h1v1h-1zM462 676h1v1h-1zM468 676h1v1h-1zM470 676h1v1h-1zM476 676h1v1h-1zM478 676h1v1h-1zM484 676h1v1h-1zM486 676h1v1h-1zM492 676h1v1h-1zM494 676h1v1h-1zM500 676h1v1h-1zM502 676h1v1h-1zM508 676h2v1h-2zM517 676h1v1h-1zM525 676h1v1h-1zM533 676h1v1h-1zM541 676h1v1h-1zM549 676h1v1h-1zM557 676h1v1h-1zM565 676h1v1h-1zM573 676h1v1h-1zM581 676h1v1h-1zM589 676h1v1h-1zM597 676h1v1h-1zM605 676h1v1h-1zM613 676h1v1h-1zM621 676h1v1h-1zM629 676h1v1h-1zM637 676h1v1h-1zM639 676h1v1h-1zM642 676h2v1h-2zM647 676h1v1h-1zM650 676h2v1h-2zM655 676h1v1h-1zM658 676h2v1h-2zM663 676h1v1h-1zM666 676h2v1h-2zM286 677h1v1h-1zM293 677h2v1h-2zM301 677h2v1h-2zM309 677h2v1h-2zM317 677h2v1h-2zM325 677h2v1h-2zM333 677h2v1h-2zM341 677h2v1h-2zM349 677h2v1h-2zM357 677h2v1h-2zM365 677h2v1h-2zM373 677h2v1h-2zM381 677h2v1h-2zM389 677h2v1h-2zM397 677h2v1h-2zM405 677h2v1h-2zM413 677h2v1h-2zM421 677h2v1h-2zM429 677h2v1h-2zM437 677h2v1h-2zM445 677h2v1h-2zM453 677h2v1h-2zM461 677h2v1h-2zM469 677h2v1h-2zM477 677h2v1h-2zM485 677h2v1h-2zM493 677h2v1h-2zM501 677h2v1h-2zM509 677h1v1h-1zM517 677h1v1h-1zM525 677h1v1h-1zM533 677h1v1h-1zM541 677h1v1h-1zM549 677h1v1h-1zM557 677h1v1h-1zM565 677h1v1h-1zM573 677h1v1h-1zM581 677h1v1h-1zM589 677h1v1h-1zM597 677h1v1h-1zM605 677h1v1h-1zM613 677h1v1h-1zM621 677h1v1h-1zM629 677h1v1h-1zM637 677h1v1h-1zM640 677h2v1h-2zM648 677h2v1h-2zM656 677h2v1h-2zM664 677h2v1h-2zM285 678h1v1h-1zM293 678h1v1h-1zM301 678h1v1h-1zM309 678h1v1h-1zM317 678h1v1h-1zM325 678h1v1h-1zM333 678h1v1h-1zM341 678h1v1h-1zM349 678h1v1h-1zM357 678h1v1h-1zM365 678h1v1h-1zM373 678h1v1h-1zM381 678h1v1h-1zM389 678h1v1h-1zM397 678h1v1h-1zM405 678h1v1h-1zM413 678h1v1h-1zM421 678h1v1h-1zM429 678h1v1h-1zM437 678h1v1h-1zM445 678h1v1h-1zM453 678h1v1h-1zM461 678h1v1h-1zM469 678h1v1h-1zM477 678h1v1h-1zM485 678h1v1h-1zM493 678h1v1h-1zM501 678h1v1h-1zM509 678h2v1h-2zM517 678h2v1h-2zM525 678h2v1h-2zM533 678h2v1h-2zM541 678h2v1h-2zM549 678h2v1h-2zM557 678h2v1h-2zM565 678h2v1h-2zM573 678h2v1h-2zM581 678h2v1h-2zM589 678h2v1h-2zM597 678h2v1h-2zM605 678h2v1h-2zM613 678h2v1h-2zM621 678h2v1h-2zM629 678h2v1h-2zM637 678h1v1h-1zM285 679h1v1h-1zM293 679h1v1h-1zM301 679h1v1h-1zM309 679h1v1h-1zM317 679h1v1h-1zM325 679h1v1h-1zM333 679h1v1h-1zM341 679h1v1h-1zM349 679h1v1h-1zM357 679h1v1h-1zM365 679h1v1h-1zM373 679h1v1h-1zM381 679h1v1h-1zM389 679h1v1h-1zM397 679h1v1h-1zM405 679h1v1h-1zM413 679h1v1h-1zM421 679h1v1h-1zM429 679h1v1h-1zM437 679h1v1h-1zM445 679h1v1h-1zM453 679h1v1h-1zM461 679h1v1h-1zM469 679h1v1h-1zM477 679h1v1h-1zM485 679h1v1h-1zM493 679h1v1h-1zM501 679h1v1h-1zM509 679h2v1h-2zM517 679h2v1h-2zM525 679h2v1h-2zM533 679h2v1h-2zM541 679h2v1h-2zM549 679h2v1h-2zM557 679h2v1h-2zM565 679h2v1h-2zM573 679h2v1h-2zM581 679h2v1h-2zM589 679h2v1h-2zM597 679h2v1h-2zM605 679h2v1h-2zM613 679h2v1h-2zM621 679h2v1h-2zM629 679h2v1h-2zM637 679h1v1h-1zM286 680h1v1h-1zM293 680h2v1h-2zM301 680h2v1h-2zM309 680h2v1h-2zM317 680h2v1h-2zM325 680h2v1h-2zM333 680h2v1h-2zM341 680h2v1h-2zM349 680h2v1h-2zM357 680h2v1h-2zM365 680h2v1h-2zM373 680h2v1h-2zM381 680h2v1h-2zM389 680h2v1h-2zM397 680h2v1h-2zM405 680h2v1h-2zM413 680h2v1h-2zM421 680h2v1h-2zM429 680h2v1h-2zM437 680h2v1h-2zM445 680h2v1h-2zM453 680h2v1h-2zM461 680h2v1h-2zM469 680h2v1h-2zM477 680h2v1h-2zM485 680h2v1h-2zM493 680h2v1h-2zM501 680h2v1h-2zM509 680h1v1h-1zM511 680h1v1h-1zM516 680h1v1h-1zM519 680h1v1h-1zM524 680h1v1h-1zM527 680h1v1h-1zM532 680h1v1h-1zM535 680h1v1h-1zM540 680h1v1h-1zM543 680h1v1h-1zM548 680h1v1h-1zM551 680h1v1h-1zM556 680h1v1h-1zM559 680h1v1h-1zM564 680h1v1h-1zM567 680h1v1h-1zM572 680h1v1h-1zM575 680h1v1h-1zM580 680h1v1h-1zM583 680h1v1h-1zM588 680h1v1h-1zM591 680h1v1h-1zM596 680h1v1h-1zM599 680h1v1h-1zM604 680h1v1h-1zM607 680h1v1h-1zM612 680h1v1h-1zM615 680h1v1h-1zM620 680h1v1h-1zM623 680h1v1h-1zM628 680h1v1h-1zM631 680h1v1h-1zM636 680h1v1h-1zM286 681h1v1h-1zM293 681h2v1h-2zM301 681h2v1h-2zM309 681h2v1h-2zM317 681h2v1h-2zM325 681h2v1h-2zM333 681h2v1h-2zM341 681h2v1h-2zM349 681h2v1h-2zM357 681h2v1h-2zM365 681h2v1h-2zM373 681h2v1h-2zM381 681h2v1h-2zM389 681h2v1h-2zM397 681h2v1h-2zM405 681h2v1h-2zM413 681h2v1h-2zM421 681h2v1h-2zM429 681h2v1h-2zM437 681h2v1h-2zM445 681h2v1h-2zM453 681h2v1h-2zM461 681h2v1h-2zM469 681h2v1h-2zM477 681h2v1h-2zM485 681h2v1h-2zM493 681h2v1h-2zM501 681h2v1h-2zM509 681h1v1h-1zM511 681h5v1h-5zM519 681h5v1h-5zM527 681h5v1h-5zM535 681h5v1h-5zM543 681h5v1h-5zM551 681h5v1h-5zM559 681h5v1h-5zM567 681h5v1h-5zM575 681h5v1h-5zM583 681h5v1h-5zM591 681h5v1h-5zM599 681h5v1h-5zM607 681h5v1h-5zM615 681h5v1h-5zM623 681h5v1h-5zM631 681h5v1h-5zM287 682h1v1h-1zM292 682h1v1h-1zM295 682h1v1h-1zM300 682h1v1h-1zM303 682h1v1h-1zM308 682h1v1h-1zM311 682h1v1h-1zM316 682h1v1h-1zM319 682h1v1h-1zM324 682h1v1h-1zM327 682h1v1h-1zM332 682h1v1h-1zM335 682h1v1h-1zM340 682h1v1h-1zM343 682h1v1h-1zM348 682h1v1h-1zM351 682h1v1h-1zM356 682h1v1h-1zM359 682h1v1h-1zM364 682h1v1h-1zM367 682h1v1h-1zM372 682h1v1h-1zM375 682h1v1h-1zM380 682h1v1h-1zM383 682h1v1h-1zM388 682h1v1h-1zM391 682h1v1h-1zM396 682h1v1h-1zM399 682h1v1h-1zM404 682h1v1h-1zM407 682h1v1h-1zM412 682h1v1h-1zM415 682h1v1h-1zM420 682h1v1h-1zM423 682h1v1h-1zM428 682h1v1h-1zM431 682h1v1h-1zM436 682h1v1h-1zM439 682h1v1h-1zM444 682h1v1h-1zM447 682h1v1h-1zM452 682h1v1h-1zM455 682h1v1h-1zM460 682h1v1h-1zM463 682h1v1h-1zM468 682h1v1h-1zM471 682h1v1h-1zM476 682h1v1h-1zM479 682h1v1h-1zM484 682h1v1h-1zM487 682h1v1h-1zM492 682h1v1h-1zM495 682h1v1h-1zM500 682h1v1h-1zM503 682h1v1h-1zM508 682h1v1h-1zM287 683h6v1h-6zM295 683h6v1h-6zM303 683h6v1h-6zM311 683h6v1h-6zM319 683h6v1h-6zM327 683h6v1h-6zM335 683h6v1h-6zM343 683h6v1h-6zM351 683h6v1h-6zM359 683h6v1h-6zM367 683h6v1h-6zM375 683h6v1h-6zM383 683h6v1h-6zM391 683h6v1h-6zM399 683h6v1h-6zM407 683h5v1h-5zM415 683h5v1h-5zM423 683h5v1h-5zM431 683h5v1h-5zM439 683h5v1h-5zM447 683h5v1h-5zM455 683h5v1h-5zM463 683h5v1h-5zM471 683h5v1h-5zM479 683h5v1h-5zM487 683h5v1h-5zM495 683h5v1h-5zM503 683h5v1h-5zM287 684h1v1h-1zM287 685h1v1h-1zM286 686h1v1h-1zM285 687h1v1h-1zM285 688h1v1h-1zM217 689h2v1h-2zM225 689h2v1h-2zM233 689h2v1h-2zM241 689h2v1h-2zM249 689h2v1h-2zM257 689h2v1h-2zM265 689h2v1h-2zM273 689h2v1h-2zM281 689h2v1h-2zM284 689h1v1h-1zM219 690h2v1h-2zM223 690h2v1h-2zM227 690h2v1h-2zM231 690h2v1h-2zM235 690h2v1h-2zM239 690h2v1h-2zM243 690h2v1h-2zM247 690h2v1h-2zM251 690h2v1h-2zM255 690h2v1h-2zM259 690h2v1h-2zM263 690h2v1h-2zM267 690h2v1h-2zM271 690h2v1h-2zM275 690h2v1h-2zM279 690h2v1h-2zM283 690h2v1h-2zM221 691h2v1h-2zM229 691h2v1h-2zM237 691h2v1h-2zM245 691h2v1h-2zM253 691h2v1h-2zM261 691h2v1h-2zM269 691h2v1h-2zM277 691h2v1h-2zM285 691h1v1h-1zM221 692h1v1h-1zM229 692h1v1h-1zM237 692h1v1h-1zM245 692h1v1h-1zM253 692h1v1h-1zM261 692h1v1h-1zM269 692h1v1h-1zM277 692h1v1h-1zM286 692h1v1h-1zM221 693h1v1h-1zM229 693h1v1h-1zM237 693h1v1h-1zM245 693h1v1h-1zM253 693h1v1h-1zM261 693h1v1h-1zM269 693h1v1h-1zM277 693h1v1h-1zM286 693h1v1h-1zM221 694h2v1h-2zM229 694h2v1h-2zM237 694h2v1h-2zM245 694h2v1h-2zM253 694h2v1h-2zM261 694h2v1h-2zM269 694h2v1h-2zM277 694h2v1h-2zM285 694h1v1h-1zM221 695h2v1h-2zM229 695h2v1h-2zM237 695h2v1h-2zM245 695h2v1h-2zM253 695h2v1h-2zM261 695h2v1h-2zM269 695h2v1h-2zM277 695h2v1h-2zM285 695h1v1h-1zM220 696h1v1h-1zM223 696h1v1h-1zM228 696h1v1h-1zM231 696h1v1h-1zM236 696h1v1h-1zM239 696h1v1h-1zM244 696h1v1h-1zM247 696h1v1h-1zM252 696h1v1h-1zM255 696h1v1h-1zM260 696h1v1h-1zM263 696h1v1h-1zM268 696h1v1h-1zM271 696h1v1h-1zM276 696h1v1h-1zM279 696h1v1h-1zM284 696h1v1h-1zM217 697h4v1h-4zM224 697h5v1h-5zM232 697h5v1h-5zM240 697h5v1h-5zM248 697h5v1h-5zM256 697h5v1h-5zM264 697h5v1h-5zM271 697h6v1h-6zM279 697h6v1h-6z" fill="#000" shape-rendering="crispEdges"/>
<path d="M282 86h1v1h-1zM346 86h1v1h-1zM410 86h1v1h-1zM474 86h1v1h-1zM537 86h1v1h-1zM601 86h1v1h-1zM665 86h1v1h-1zM729 86h1v1h-1zM793 86h1v1h-1zM857 86h1v1h-1zM921 86h1v1h-1zM985 86h1v1h-1zM1049 86h1v1h-1zM1113 86h1v1h-1zM282 87h1v1h-1zM346 87h1v1h-1zM410 87h1v1h-1zM474 87h1v1h-1zM537 87h1v1h-1zM601 87h1v1h-1zM665 87h1v1h-1zM729 87h1v1h-1zM793 87h1v1h-1zM857 87h1v1h-1zM921 87h1v1h-1zM985 87h1v1h-1zM1049 87h1v1h-1zM1113 87h1v1h-1zM282 95h1v1h-1zM346 95h1v1h-1zM410 95h1v1h-1zM474 95h1v1h-1zM537 95h1v1h-1zM601 95h1v1h-1zM665 95h1v1h-1zM729 95h1v1h-1zM793 95h1v1h-1zM857 95h1v1h-1zM921 95h1v1h-1zM985 95h1v1h-1zM1049 95h1v1h-1zM1113 95h1v1h-1zM282 96h1v1h-1zM346 96h1v1h-1zM410 96h1v1h-1zM474 96h1v1h-1zM537 96h1v1h-1zM601 96h1v1h-1zM665 96h1v1h-1zM729 96h1v1h-1zM793 96h1v1h-1zM857 96h1v1h-1zM921 96h1v1h-1zM985 96h1v1h-1zM1049 96h1v1h-1zM1113 96h1v1h-1zM282 105h1v1h-1zM346 105h1v1h-1zM410 105h1v1h-1zM474 105h1v1h-1zM537 105h1v1h-1zM601 105h1v1h-1zM665 105h1v1h-1zM729 105h1v1h-1zM793 105h1v1h-1zM857 105h1v1h-1zM921 105h1v1h-1zM985 105h1v1h-1zM1049 105h1v1h-1zM1113 105h1v1h-1zM282 106h1v1h-1zM346 106h1v1h-1zM410 106h1v1h-1zM474 106h1v1h-1zM537 106h1v1h-1zM601 106h1v1h-1zM665 106h1v1h-1zM729 106h1v1h-1zM793 106h1v1h-1zM857 106h1v1h-1zM921 106h1v1h-1zM985 106h1v1h-1zM1049 106h1v1h-1zM1113 106h1v1h-1zM282 114h1v1h-1zM346 114h1v1h-1zM410 114h1v1h-1zM474 114h1v1h-1zM537 114h1v1h-1zM601 114h1v1h-1zM665 114h1v1h-1zM729 114h1v1h-1zM793 114h1v1h-1zM857 114h1v1h-1zM921 114h1v1h-1zM985 114h1v1h-1zM1049 114h1v1h-1zM1113 114h1v1h-1zM282 115h1v1h-1zM346 115h1v1h-1zM410 115h1v1h-1zM474 115h1v1h-1zM537 115h1v1h-1zM601 115h1v1h-1zM665 115h1v1h-1zM729 115h1v1h-1zM793 115h1v1h-1zM857 115h1v1h-1zM921 115h1v1h-1zM985 115h1v1h-1zM1049 115h1v1h-1zM1113 115h1v1h-1zM282 124h1v1h-1zM346 124h1v1h-1zM410 124h1v1h-1zM474 124h1v1h-1zM537 124h1v1h-1zM601 124h1v1h-1zM665 124h1v1h-1zM729 124h1v1h-1zM793 124h1v1h-1zM857 124h1v1h-1zM921 124h1v1h-1zM985 124h1v1h-1zM1049 124h1v1h-1zM1113 124h1v1h-1zM282 125h1v1h-1zM346 125h1v1h-1zM410 125h1v1h-1zM474 125h1v1h-1zM537 125h1v1h-1zM601 125h1v1h-1zM665 125h1v1h-1zM729 125h1v1h-1zM793 125h1v1h-1zM857 125h1v1h-1zM921 125h1v1h-1zM985 125h1v1h-1zM1049 125h1v1h-1zM1113 125h1v1h-1zM282 134h1v1h-1zM346 134h1v1h-1zM410 134h1v1h-1zM474 134h1v1h-1zM537 134h1v1h-1zM601 134h1v1h-1zM665 134h1v1h-1zM729 134h1v1h-1zM793 134h1v1h-1zM857 134h1v1h-1zM921 134h1v1h-1zM985 134h1v1h-1zM1049 134h1v1h-1zM1113 134h1v1h-1zM282 135h1v1h-1zM346 135h1v1h-1zM410 135h1v1h-1zM474 135h1v1h-1zM537 135h1v1h-1zM601 135h1v1h-1zM665 135h1v1h-1zM729 135h1v1h-1zM793 135h1v1h-1zM857 135h1v1h-1zM921 135h1v1h-1zM985 135h1v1h-1zM1049 135h1v1h-1zM1113 135h1v1h-1zM282 143h1v1h-1zM346 143h1v1h-1zM410 143h1v1h-1zM474 143h1v1h-1zM537 143h1v1h-1zM601 143h1v1h-1zM665 143h1v1h-1zM729 143h1v1h-1zM793 143h1v1h-1zM857 143h1v1h-1zM921 143h1v1h-1zM985 143h1v1h-1zM1049 143h1v1h-1zM1113 143h1v1h-1zM282 144h1v1h-1zM346 144h1v1h-1zM410 144h1v1h-1zM474 144h1v1h-1zM537 144h1v1h-1zM601 144h1v1h-1zM665 144h1v1h-1zM729 144h1v1h-1zM793 144h1v1h-1zM857 144h1v1h-1zM921 144h1v1h-1zM985 144h1v1h-1zM1049 144h1v1h-1zM1113 144h1v1h-1zM219 147h1v1h-1zM228 147h2v1h-2zM237 147h2v1h-2zM247 147h2v1h-2zM257 147h2v1h-2zM267 147h2v1h-2zM277 147h2v1h-2zM286 147h2v1h-2zM296 147h2v1h-2zM306 147h2v1h-2zM316 147h2v1h-2zM326 147h2v1h-2zM336 147h2v1h-2zM345 147h2v1h-2zM355 147h2v1h-2zM365 147h2v1h-2zM375 147h2v1h-2zM385 147h2v1h-2zM394 147h2v1h-2zM404 147h2v1h-2zM414 147h2v1h-2zM424 147h2v1h-2zM434 147h2v1h-2zM444 147h2v1h-2zM453 147h2v1h-2zM463 147h2v1h-2zM473 147h2v1h-2zM483 147h2v1h-2zM493 147h2v1h-2zM502 147h2v1h-2zM512 147h2v1h-2zM522 147h2v1h-2zM532 147h2v1h-2zM542 147h2v1h-2zM552 147h2v1h-2zM561 147h2v1h-2zM571 147h2v1h-2zM581 147h2v1h-2zM591 147h2v1h-2zM601 147h2v1h-2zM611 147h2v1h-2zM620 147h2v1h-2zM630 147h2v1h-2zM640 147h2v1h-2zM650 147h2v1h-2zM660 147h2v1h-2zM669 147h2v1h-2zM679 147h2v1h-2zM689 147h2v1h-2zM699 147h2v1h-2zM709 147h2v1h-2zM719 147h2v1h-2zM728 147h2v1h-2zM738 147h2v1h-2zM748 147h2v1h-2zM758 147h2v1h-2zM768 147h2v1h-2zM777 147h2v1h-2zM787 147h2v1h-2zM797 147h2v1h-2zM807 147h2v1h-2zM817 147h2v1h-2zM827 147h2v1h-2zM836 147h2v1h-2zM846 147h2v1h-2zM856 147h2v1h-2zM866 147h2v1h-2zM876 147h2v1h-2zM885 147h2v1h-2zM895 147h2v1h-2zM905 147h2v1h-2zM915 147h2v1h-2zM925 147h2v1h-2zM935 147h2v1h-2zM944 147h2v1h-2zM954 147h2v1h-2zM964 147h2v1h-2zM974 147h2v1h-2zM984 147h2v1h-2zM993 147h2v1h-2zM1003 147h2v1h-2zM1013 147h2v1h-2zM1023 147h2v1h-2zM1033 147h2v1h-2zM1043 147h2v1h-2zM1052 147h2v1h-2zM1062 147h2v1h-2zM1072 147h2v1h-2zM1082 147h2v1h-2zM1092 147h2v1h-2zM1102 147h2v1h-2zM1111 147h2v1h-2zM1121 147h2v1h-2zM1131 147h2v1h-2zM1141 147h2v1h-2zM282 153h1v1h-1zM346 153h1v1h-1zM410 153h1v1h-1zM474 153h1v1h-1zM537 153h1v1h-1zM601 153h1v1h-1zM665 153h1v1h-1zM729 153h1v1h-1zM793 153h1v1h-1zM857 153h1v1h-1zM921 153h1v1h-1zM985 153h1v1h-1zM1049 153h1v1h-1zM1113 153h1v1h-1zM282 154h1v1h-1zM346 154h1v1h-1zM410 154h1v1h-1zM474 154h1v1h-1zM537 154h1v1h-1zM601 154h1v1h-1zM665 154h1v1h-1zM729 154h1v1h-1zM793 154h1v1h-1zM857 154h1v1h-1zM921 154h1v1h-1zM985 154h1v1h-1zM1049 154h1v1h-1zM1113 154h1v1h-1zM282 162h1v1h-1zM346 162h1v1h-1zM410 162h1v1h-1zM474 162h1v1h-1zM537 162h1v1h-1zM601 162h1v1h-1zM665 162h1v1h-1zM729 162h1v1h-1zM793 162h1v1h-1zM857 162h1v1h-1zM921 162h1v1h-1zM985 162h1v1h-1zM1049 162h1v1h-1zM1113 162h1v1h-1zM282 163h1v1h-1zM346 163h1v1h-1zM410 163h1v1h-1zM474 163h1v1h-1zM537 163h1v1h-1zM601 163h1v1h-1zM665 163h1v1h-1zM729 163h1v1h-1zM793 163h1v1h-1zM857 163h1v1h-1zM921 163h1v1h-1zM985 163h1v1h-1zM1049 163h1v1h-1zM1113 163h1v1h-1zM282 172h1v1h-1zM346 172h1v1h-1zM410 172h1v1h-1zM474 172h1v1h-1zM537 172h1v1h-1zM601 172h1v1h-1zM665 172h1v1h-1zM729 172h1v1h-1zM793 172h1v1h-1zM857 172h1v1h-1zM921 172h1v1h-1zM985 172h1v1h-1zM1049 172h1v1h-1zM1113 172h1v1h-1zM282 173h1v1h-1zM346 173h1v1h-1zM410 173h1v1h-1zM474 173h1v1h-1zM537 173h1v1h-1zM601 173h1v1h-1zM665 173h1v1h-1zM729 173h1v1h-1zM793 173h1v1h-1zM857 173h1v1h-1zM921 173h1v1h-1zM985 173h1v1h-1zM1049 173h1v1h-1zM1113 173h1v1h-1zM282 181h1v1h-1zM346 181h1v1h-1zM410 181h1v1h-1zM474 181h1v1h-1zM537 181h1v1h-1zM601 181h1v1h-1zM665 181h1v1h-1zM729 181h1v1h-1zM793 181h1v1h-1zM857 181h1v1h-1zM921 181h1v1h-1zM985 181h1v1h-1zM1049 181h1v1h-1zM1113 181h1v1h-1zM282 182h1v1h-1zM346 182h1v1h-1zM410 182h1v1h-1zM474 182h1v1h-1zM537 182h1v1h-1zM601 182h1v1h-1zM665 182h1v1h-1zM729 182h1v1h-1zM793 182h1v1h-1zM857 182h1v1h-1zM921 182h1v1h-1zM985 182h1v1h-1zM1049 182h1v1h-1zM1113 182h1v1h-1zM282 191h1v1h-1zM346 191h1v1h-1zM410 191h1v1h-1zM474 191h1v1h-1zM537 191h1v1h-1zM601 191h1v1h-1zM665 191h1v1h-1zM729 191h1v1h-1zM793 191h1v1h-1zM857 191h1v1h-1zM921 191h1v1h-1zM985 191h1v1h-1zM1049 191h1v1h-1zM1113 191h1v1h-1zM282 192h1v1h-1zM346 192h1v1h-1zM410 192h1v1h-1zM474 192h1v1h-1zM537 192h1v1h-1zM601 192h1v1h-1zM665 192h1v1h-1zM729 192h1v1h-1zM793 192h1v1h-1zM857 192h1v1h-1zM921 192h1v1h-1zM985 192h1v1h-1zM1049 192h1v1h-1zM1113 192h1v1h-1zM282 200h1v1h-1zM346 200h1v1h-1zM410 200h1v1h-1zM474 200h1v1h-1zM537 200h1v1h-1zM601 200h1v1h-1zM665 200h1v1h-1zM729 200h1v1h-1zM793 200h1v1h-1zM857 200h1v1h-1zM921 200h1v1h-1zM985 200h1v1h-1zM1049 200h1v1h-1zM1113 200h1v1h-1zM282 201h1v1h-1zM346 201h1v1h-1zM410 201h1v1h-1zM474 201h1v1h-1zM537 201h1v1h-1zM601 201h1v1h-1zM665 201h1v1h-1zM729 201h1v1h-1zM793 201h1v1h-1zM857 201h1v1h-1zM921 201h1v1h-1zM985 201h1v1h-1zM1049 201h1v1h-1zM1113 201h1v1h-1zM282 210h1v1h-1zM346 210h1v1h-1zM410 210h1v1h-1zM474 210h1v1h-1zM537 210h1v1h-1zM601 210h1v1h-1zM665 210h1v1h-1zM729 210h1v1h-1zM793 210h1v1h-1zM857 210h1v1h-1zM921 210h1v1h-1zM985 210h1v1h-1zM1049 210h1v1h-1zM1113 210h1v1h-1zM282 211h1v1h-1zM346 211h1v1h-1zM410 211h1v1h-1zM474 211h1v1h-1zM537 211h1v1h-1zM601 211h1v1h-1zM665 211h1v1h-1zM729 211h1v1h-1zM793 211h1v1h-1zM857 211h1v1h-1zM921 211h1v1h-1zM985 211h1v1h-1zM1049 211h1v1h-1zM1113 211h1v1h-1zM219 215h1v1h-1zM228 215h2v1h-2zM237 215h2v1h-2zM247 215h2v1h-2zM257 215h2v1h-2zM267 215h2v1h-2zM277 215h2v1h-2zM286 215h2v1h-2zM296 215h2v1h-2zM306 215h2v1h-2zM316 215h2v1h-2zM326 215h2v1h-2zM336 215h2v1h-2zM345 215h2v1h-2zM355 215h2v1h-2zM365 215h2v1h-2zM375 215h2v1h-2zM385 215h2v1h-2zM394 215h2v1h-2zM404 215h2v1h-2zM414 215h2v1h-2zM424 215h2v1h-2zM434 215h2v1h-2zM444 215h2v1h-2zM453 215h2v1h-2zM463 215h2v1h-2zM473 215h2v1h-2zM483 215h2v1h-2zM493 215h2v1h-2zM502 215h2v1h-2zM512 215h2v1h-2zM522 215h2v1h-2zM532 215h2v1h-2zM542 215h2v1h-2zM552 215h2v1h-2zM561 215h2v1h-2zM571 215h2v1h-2zM581 215h2v1h-2zM591 215h2v1h-2zM601 215h2v1h-2zM611 215h2v1h-2zM620 215h2v1h-2zM630 215h2v1h-2zM640 215h2v1h-2zM650 215h2v1h-2zM660 215h2v1h-2zM669 215h2v1h-2zM679 215h2v1h-2zM689 215h2v1h-2zM699 215h2v1h-2zM709 215h2v1h-2zM719 215h2v1h-2zM728 215h2v1h-2zM738 215h2v1h-2zM748 215h2v1h-2zM758 215h2v1h-2zM768 215h2v1h-2zM777 215h2v1h-2zM787 215h2v1h-2zM797 215h2v1h-2zM807 215h2v1h-2zM817 215h2v1h-2zM827 215h2v1h-2zM836 215h2v1h-2zM846 215h2v1h-2zM856 215h2v1h-2zM866 215h2v1h-2zM876 215h2v1h-2zM885 215h2v1h-2zM895 215h2v1h-2zM905 215h2v1h-2zM915 215h2v1h-2zM925 215h2v1h-2zM935 215h2v1h-2zM944 215h2v1h-2zM954 215h2v1h-2zM964 215h2v1h-2zM974 215h2v1h-2zM984 215h2v1h-2zM993 215h2v1h-2zM1003 215h2v1h-2zM1013 215h2v1h-2zM1023 215h2v1h-2zM1033 215h2v1h-2zM1043 215h2v1h-2zM1052 215h2v1h-2zM1062 215h2v1h-2zM1072 215h2v1h-2zM1082 215h2v1h-2zM1092 215h2v1h-2zM1102 215h2v1h-2zM1111 215h2v1h-2zM1121 215h2v1h-2zM1131 215h2v1h-2zM1141 215h2v1h-2zM282 219h1v1h-1zM346 219h1v1h-1zM410 219h1v1h-1zM474 219h1v1h-1zM537 219h1v1h-1zM601 219h1v1h-1zM665 219h1v1h-1zM729 219h1v1h-1zM793 219h1v1h-1zM857 219h1v1h-1zM921 219h1v1h-1zM985 219h1v1h-1zM1049 219h1v1h-1zM1113 219h1v1h-1zM282 220h1v1h-1zM346 220h1v1h-1zM410 220h1v1h-1zM474 220h1v1h-1zM537 220h1v1h-1zM601 220h1v1h-1zM665 220h1v1h-1zM729 220h1v1h-1zM793 220h1v1h-1zM857 220h1v1h-1zM921 220h1v1h-1zM985 220h1v1h-1zM1049 220h1v1h-1zM1113 220h1v1h-1zM282 229h1v1h-1zM346 229h1v1h-1zM410 229h1v1h-1zM474 229h1v1h-1zM537 229h1v1h-1zM601 229h1v1h-1zM665 229h1v1h-1zM729 229h1v1h-1zM793 229h1v1h-1zM857 229h1v1h-1zM921 229h1v1h-1zM985 229h1v1h-1zM1049 229h1v1h-1zM1113 229h1v1h-1zM282 230h1v1h-1zM346 230h1v1h-1zM410 230h1v1h-1zM474 230h1v1h-1zM537 230h1v1h-1zM601 230h1v1h-1zM665 230h1v1h-1zM729 230h1v1h-1zM793 230h1v1h-1zM857 230h1v1h-1zM921 230h1v1h-1zM985 230h1v1h-1zM1049 230h1v1h-1zM1113 230h1v1h-1zM282 238h1v1h-1zM346 238h1v1h-1zM410 238h1v1h-1zM474 238h1v1h-1zM537 238h1v1h-1zM601 238h1v1h-1zM665 238h1v1h-1zM729 238h1v1h-1zM793 238h1v1h-1zM857 238h1v1h-1zM921 238h1v1h-1zM985 238h1v1h-1zM1049 238h1v1h-1zM1113 238h1v1h-1zM282 239h1v1h-1zM346 239h1v1h-1zM410 239h1v1h-1zM474 239h1v1h-1zM537 239h1v1h-1zM601 239h1v1h-1zM665 239h1v1h-1zM729 239h1v1h-1zM793 239h1v1h-1zM857 239h1v1h-1zM921 239h1v1h-1zM985 239h1v1h-1zM1049 239h1v1h-1zM1113 239h1v1h-1zM282 248h1v1h-1zM346 248h1v1h-1zM410 248h1v1h-1zM474 248h1v1h-1zM537 248h1v1h-1zM601 248h1v1h-1zM665 248h1v1h-1zM729 248h1v1h-1zM793 248h1v1h-1zM857 248h1v1h-1zM921 248h1v1h-1zM985 248h1v1h-1zM1049 248h1v1h-1zM1113 248h1v1h-1zM282 249h1v1h-1zM346 249h1v1h-1zM410 249h1v1h-1zM474 249h1v1h-1zM537 249h1v1h-1zM601 249h1v1h-1zM665 249h1v1h-1zM729 249h1v1h-1zM793 249h1v1h-1zM857 249h1v1h-1zM921 249h1v1h-1zM985 249h1v1h-1zM1049 249h1v1h-1zM1113 249h1v1h-1zM282 257h1v1h-1zM346 257h1v1h-1zM410 257h1v1h-1zM474 257h1v1h-1zM537 257h1v1h-1zM601 257h1v1h-1zM665 257h1v1h-1zM729 257h1v1h-1zM793 257h1v1h-1zM857 257h1v1h-1zM921 257h1v1h-1zM985 257h1v1h-1zM1049 257h1v1h-1zM1113 257h1v1h-1zM282 258h1v1h-1zM346 258h1v1h-1zM410 258h1v1h-1zM474 258h1v1h-1zM537 258h1v1h-1zM601 258h1v1h-1zM665 258h1v1h-1zM729 258h1v1h-1zM793 258h1v1h-1zM857 258h1v1h-1zM921 258h1v1h-1zM985 258h1v1h-1zM1049 258h1v1h-1zM1113 258h1v1h-1zM282 267h1v1h-1zM346 267h1v1h-1zM410 267h1v1h-1zM474 267h1v1h-1zM537 267h1v1h-1zM601 267h1v1h-1zM665 267h1v1h-1zM729 267h1v1h-1zM793 267h1v1h-1zM857 267h1v1h-1zM921 267h1v1h-1zM985 267h1v1h-1zM1049 267h1v1h-1zM1113 267h1v1h-1zM282 268h1v1h-1zM346 268h1v1h-1zM410 268h1v1h-1zM474 268h1v1h-1zM537 268h1v1h-1zM601 268h1v1h-1zM665 268h1v1h-1zM729 268h1v1h-1zM793 268h1v1h-1zM857 268h1v1h-1zM921 268h1v1h-1zM985 268h1v1h-1zM1049 268h1v1h-1zM1113 268h1v1h-1zM282 276h1v1h-1zM346 276h1v1h-1zM410 276h1v1h-1zM474 276h1v1h-1zM537 276h1v1h-1zM601 276h1v1h-1zM665 276h1v1h-1zM729 276h1v1h-1zM793 276h1v1h-1zM857 276h1v1h-1zM921 276h1v1h-1zM985 276h1v1h-1zM1049 276h1v1h-1zM1113 276h1v1h-1zM282 277h1v1h-1zM346 277h1v1h-1zM410 277h1v1h-1zM474 277h1v1h-1zM537 277h1v1h-1zM601 277h1v1h-1zM665 277h1v1h-1zM729 277h1v1h-1zM793 277h1v1h-1zM857 277h1v1h-1zM921 277h1v1h-1zM985 277h1v1h-1zM1049 277h1v1h-1zM1113 277h1v1h-1zM219 282h1v1h-1zM228 282h2v1h-2zM237 282h2v1h-2zM247 282h2v1h-2zM257 282h2v1h-2zM267 282h2v1h-2zM277 282h2v1h-2zM286 282h2v1h-2zM296 282h2v1h-2zM306 282h2v1h-2zM316 282h2v1h-2zM326 282h2v1h-2zM336 282h2v1h-2zM345 282h2v1h-2zM355 282h2v1h-2zM365 282h2v1h-2zM375 282h2v1h-2zM385 282h2v1h-2zM394 282h2v1h-2zM404 282h2v1h-2zM414 282h2v1h-2zM424 282h2v1h-2zM434 282h2v1h-2zM444 282h2v1h-2zM453 282h2v1h-2zM463 282h2v1h-2zM473 282h2v1h-2zM483 282h2v1h-2zM493 282h2v1h-2zM502 282h2v1h-2zM512 282h2v1h-2zM522 282h2v1h-2zM532 282h2v1h-2zM542 282h2v1h-2zM552 282h2v1h-2zM561 282h2v1h-2zM571 282h2v1h-2zM581 282h2v1h-2zM591 282h2v1h-2zM601 282h2v1h-2zM611 282h2v1h-2zM620 282h2v1h-2zM630 282h2v1h-2zM640 282h2v1h-2zM650 282h2v1h-2zM660 282h2v1h-2zM669 282h2v1h-2zM679 282h2v1h-2zM689 282h2v1h-2zM699 282h2v1h-2zM709 282h2v1h-2zM719 282h2v1h-2zM728 282h2v1h-2zM738 282h2v1h-2zM748 282h2v1h-2zM758 282h2v1h-2zM768 282h2v1h-2zM777 282h2v1h-2zM787 282h2v1h-2zM797 282h2v1h-2zM807 282h2v1h-2zM817 282h2v1h-2zM827 282h2v1h-2zM836 282h2v1h-2zM846 282h2v1h-2zM856 282h2v1h-2zM866 282h2v1h-2zM876 282h2v1h-2zM885 282h2v1h-2zM895 282h2v1h-2zM905 282h2v1h-2zM915 282h2v1h-2zM925 282h2v1h-2zM935 282h2v1h-2zM944 282h2v1h-2zM954 282h2v1h-2zM964 282h2v1h-2zM974 282h2v1h-2zM984 282h2v1h-2zM993 282h2v1h-2zM1003 282h2v1h-2zM1013 282h2v1h-2zM1023 282h2v1h-2zM1033 282h2v1h-2zM1043 282h2v1h-2zM1052 282h2v1h-2zM1062 282h2v1h-2zM1072 282h2v1h-2zM1082 282h2v1h-2zM1092 282h2v1h-2zM1102 282h2v1h-2zM1111 282h2v1h-2zM1121 282h2v1h-2zM1131 282h2v1h-2zM1141 282h2v1h-2zM282 286h1v1h-1zM346 286h1v1h-1zM410 286h1v1h-1zM474 286h1v1h-1zM537 286h1v1h-1zM601 286h1v1h-1zM665 286h1v1h-1zM729 286h1v1h-1zM793 286h1v1h-1zM857 286h1v1h-1zM921 286h1v1h-1zM985 286h1v1h-1zM1049 286h1v1h-1zM1113 286h1v1h-1zM282 287h1v1h-1zM346 287h1v1h-1zM410 287h1v1h-1zM474 287h1v1h-1zM537 287h1v1h-1zM601 287h1v1h-1zM665 287h1v1h-1zM729 287h1v1h-1zM793 287h1v1h-1zM857 287h1v1h-1zM921 287h1v1h-1zM985 287h1v1h-1zM1049 287h1v1h-1zM1113 287h1v1h-1zM282 296h1v1h-1zM346 296h1v1h-1zM410 296h1v1h-1zM474 296h1v1h-1zM537 296h1v1h-1zM601 296h1v1h-1zM665 296h1v1h-1zM729 296h1v1h-1zM793 296h1v1h-1zM857 296h1v1h-1zM921 296h1v1h-1zM985 296h1v1h-1zM1049 296h1v1h-1zM1113 296h1v1h-1zM282 297h1v1h-1zM346 297h1v1h-1zM410 297h1v1h-1zM474 297h1v1h-1zM537 297h1v1h-1zM601 297h1v1h-1zM665 297h1v1h-1zM729 297h1v1h-1zM793 297h1v1h-1zM857 297h1v1h-1zM921 297h1v1h-1zM985 297h1v1h-1zM1049 297h1v1h-1zM1113 297h1v1h-1zM282 305h1v1h-1zM346 305h1v1h-1zM410 305h1v1h-1zM474 305h1v1h-1zM537 305h1v1h-1zM601 305h1v1h-1zM665 305h1v1h-1zM729 305h1v1h-1zM793 305h1v1h-1zM857 305h1v1h-1zM921 305h1v1h-1zM985 305h1v1h-1zM1049 305h1v1h-1zM1113 305h1v1h-1zM282 306h1v1h-1zM346 306h1v1h-1zM410 306h1v1h-1zM474 306h1v1h-1zM537 306h1v1h-1zM601 306h1v1h-1zM665 306h1v1h-1zM729 306h1v1h-1zM793 306h1v1h-1zM857 306h1v1h-1zM921 306h1v1h-1zM985 306h1v1h-1zM1049 306h1v1h-1zM1113 306h1v1h-1zM282 315h1v1h-1zM346 315h1v1h-1zM410 315h1v1h-1zM474 315h1v1h-1zM537 315h1v1h-1zM601 315h1v1h-1zM665 315h1v1h-1zM729 315h1v1h-1zM793 315h1v1h-1zM857 315h1v1h-1zM921 315h1v1h-1zM985 315h1v1h-1zM1049 315h1v1h-1zM1113 315h1v1h-1zM282 316h1v1h-1zM346 316h1v1h-1zM410 316h1v1h-1zM474 316h1v1h-1zM537 316h1v1h-1zM601 316h1v1h-1zM665 316h1v1h-1zM729 316h1v1h-1zM793 316h1v1h-1zM857 316h1v1h-1zM921 316h1v1h-1zM985 316h1v1h-1zM1049 316h1v1h-1zM1113 316h1v1h-1zM282 324h1v1h-1zM346 324h1v1h-1zM410 324h1v1h-1zM474 324h1v1h-1zM537 324h1v1h-1zM601 324h1v1h-1zM665 324h1v1h-1zM729 324h1v1h-1zM793 324h1v1h-1zM857 324h1v1h-1zM921 324h1v1h-1zM985 324h1v1h-1zM1049 324h1v1h-1zM1113 324h1v1h-1zM282 325h1v1h-1zM346 325h1v1h-1zM410 325h1v1h-1zM474 325h1v1h-1zM537 325h1v1h-1zM601 325h1v1h-1zM665 325h1v1h-1zM729 325h1v1h-1zM793 325h1v1h-1zM857 325h1v1h-1zM921 325h1v1h-1zM985 325h1v1h-1zM1049 325h1v1h-1zM1113 325h1v1h-1zM282 334h1v1h-1zM346 334h1v1h-1zM410 334h1v1h-1zM474 334h1v1h-1zM537 334h1v1h-1zM601 334h1v1h-1zM665 334h1v1h-1zM729 334h1v1h-1zM793 334h1v1h-1zM857 334h1v1h-1zM921 334h1v1h-1zM985 334h1v1h-1zM1049 334h1v1h-1zM1113 334h1v1h-1zM282 335h1v1h-1zM346 335h1v1h-1zM410 335h1v1h-1zM474 335h1v1h-1zM537 335h1v1h-1zM601 335h1v1h-1zM665 335h1v1h-1zM729 335h1v1h-1zM793 335h1v1h-1zM857 335h1v1h-1zM921 335h1v1h-1zM985 335h1v1h-1zM1049 335h1v1h-1zM1113 335h1v1h-1zM282 343h1v1h-1zM346 343h1v1h-1zM410 343h1v1h-1zM474 343h1v1h-1zM537 343h1v1h-1zM601 343h1v1h-1zM665 343h1v1h-1zM729 343h1v1h-1zM793 343h1v1h-1zM857 343h1v1h-1zM921 343h1v1h-1zM985 343h1v1h-1zM1049 343h1v1h-1zM1113 343h1v1h-1zM282 344h1v1h-1zM346 344h1v1h-1zM410 344h1v1h-1zM474 344h1v1h-1zM537 344h1v1h-1zM601 344h1v1h-1zM665 344h1v1h-1zM729 344h1v1h-1zM793 344h1v1h-1zM857 344h1v1h-1zM921 344h1v1h-1zM985 344h1v1h-1zM1049 344h1v1h-1zM1113 344h1v1h-1zM219 349h1v1h-1zM228 349h2v1h-2zM237 349h2v1h-2zM247 349h2v1h-2zM257 349h2v1h-2zM267 349h2v1h-2zM277 349h2v1h-2zM286 349h2v1h-2zM296 349h2v1h-2zM306 349h2v1h-2zM316 349h2v1h-2zM326 349h2v1h-2zM336 349h2v1h-2zM345 349h2v1h-2zM355 349h2v1h-2zM365 349h2v1h-2zM375 349h2v1h-2zM385 349h2v1h-2zM394 349h2v1h-2zM404 349h2v1h-2zM414 349h2v1h-2zM424 349h2v1h-2zM434 349h2v1h-2zM444 349h2v1h-2zM453 349h2v1h-2zM463 349h2v1h-2zM473 349h2v1h-2zM483 349h2v1h-2zM493 349h2v1h-2zM502 349h2v1h-2zM512 349h2v1h-2zM522 349h2v1h-2zM532 349h2v1h-2zM542 349h2v1h-2zM552 349h2v1h-2zM561 349h2v1h-2zM571 349h2v1h-2zM581 349h2v1h-2zM591 349h2v1h-2zM601 349h2v1h-2zM611 349h2v1h-2zM620 349h2v1h-2zM630 349h2v1h-2zM640 349h2v1h-2zM650 349h2v1h-2zM660 349h2v1h-2zM669 349h2v1h-2zM679 349h2v1h-2zM689 349h2v1h-2zM699 349h2v1h-2zM709 349h2v1h-2zM719 349h2v1h-2zM728 349h2v1h-2zM738 349h2v1h-2zM748 349h2v1h-2zM758 349h2v1h-2zM768 349h2v1h-2zM777 349h2v1h-2zM787 349h2v1h-2zM797 349h2v1h-2zM807 349h2v1h-2zM817 349h2v1h-2zM827 349h2v1h-2zM836 349h2v1h-2zM846 349h2v1h-2zM856 349h2v1h-2zM866 349h2v1h-2zM876 349h2v1h-2zM885 349h2v1h-2zM895 349h2v1h-2zM905 349h2v1h-2zM915 349h2v1h-2zM925 349h2v1h-2zM935 349h2v1h-2zM944 349h2v1h-2zM954 349h2v1h-2zM964 349h2v1h-2zM974 349h2v1h-2zM984 349h2v1h-2zM993 349h2v1h-2zM1003 349h2v1h-2zM1013 349h2v1h-2zM1023 349h2v1h-2zM1033 349h2v1h-2zM1043 349h2v1h-2zM1052 349h2v1h-2zM1062 349h2v1h-2zM1072 349h2v1h-2zM1082 349h2v1h-2zM1092 349h2v1h-2zM1102 349h2v1h-2zM1111 349h2v1h-2zM1121 349h2v1h-2zM1131 349h2v1h-2zM1141 349h2v1h-2zM282 353h1v1h-1zM346 353h1v1h-1zM410 353h1v1h-1zM474 353h1v1h-1zM537 353h1v1h-1zM601 353h1v1h-1zM665 353h1v1h-1zM729 353h1v1h-1zM793 353h1v1h-1zM857 353h1v1h-1zM921 353h1v1h-1zM985 353h1v1h-1zM1049 353h1v1h-1zM1113 353h1v1h-1zM282 354h1v1h-1zM346 354h1v1h-1zM410 354h1v1h-1zM474 354h1v1h-1zM537 354h1v1h-1zM601 354h1v1h-1zM665 354h1v1h-1zM729 354h1v1h-1zM793 354h1v1h-1zM857 354h1v1h-1zM921 354h1v1h-1zM985 354h1v1h-1zM1049 354h1v1h-1zM1113 354h1v1h-1zM282 362h1v1h-1zM346 362h1v1h-1zM410 362h1v1h-1zM474 362h1v1h-1zM537 362h1v1h-1zM601 362h1v1h-1zM665 362h1v1h-1zM729 362h1v1h-1zM793 362h1v1h-1zM857 362h1v1h-1zM921 362h1v1h-1zM985 362h1v1h-1zM1049 362h1v1h-1zM1113 362h1v1h-1zM282 363h1v1h-1zM346 363h1v1h-1zM410 363h1v1h-1zM474 363h1v1h-1zM537 363h1v1h-1zM601 363h1v1h-1zM665 363h1v1h-1zM729 363h1v1h-1zM793 363h1v1h-1zM857 363h1v1h-1zM921 363h1v1h-1zM985 363h1v1h-1zM1049 363h1v1h-1zM1113 363h1v1h-1zM282 372h1v1h-1zM346 372h1v1h-1zM410 372h1v1h-1zM474 372h1v1h-1zM537 372h1v1h-1zM601 372h1v1h-1zM665 372h1v1h-1zM729 372h1v1h-1zM793 372h1v1h-1zM857 372h1v1h-1zM921 372h1v1h-1zM985 372h1v1h-1zM1049 372h1v1h-1zM1113 372h1v1h-1zM282 373h1v1h-1zM346 373h1v1h-1zM410 373h1v1h-1zM474 373h1v1h-1zM537 373h1v1h-1zM601 373h1v1h-1zM665 373h1v1h-1zM729 373h1v1h-1zM793 373h1v1h-1zM857 373h1v1h-1zM921 373h1v1h-1zM985 373h1v1h-1zM1049 373h1v1h-1zM1113 373h1v1h-1zM282 381h1v1h-1zM346 381h1v1h-1zM410 381h1v1h-1zM474 381h1v1h-1zM537 381h1v1h-1zM601 381h1v1h-1zM665 381h1v1h-1zM729 381h1v1h-1zM793 381h1v1h-1zM857 381h1v1h-1zM921 381h1v1h-1zM985 381h1v1h-1zM1049 381h1v1h-1zM1113 381h1v1h-1zM282 382h1v1h-1zM346 382h1v1h-1zM410 382h1v1h-1zM474 382h1v1h-1zM537 382h1v1h-1zM601 382h1v1h-1zM665 382h1v1h-1zM729 382h1v1h-1zM793 382h1v1h-1zM857 382h1v1h-1zM921 382h1v1h-1zM985 382h1v1h-1zM1049 382h1v1h-1zM1113 382h1v1h-1zM282 391h1v1h-1zM346 391h1v1h-1zM410 391h1v1h-1zM474 391h1v1h-1zM537 391h1v1h-1zM601 391h1v1h-1zM665 391h1v1h-1zM729 391h1v1h-1zM793 391h1v1h-1zM857 391h1v1h-1zM921 391h1v1h-1zM985 391h1v1h-1zM1049 391h1v1h-1zM1113 391h1v1h-1zM282 392h1v1h-1zM346 392h1v1h-1zM410 392h1v1h-1zM474 392h1v1h-1zM537 392h1v1h-1zM601 392h1v1h-1zM665 392h1v1h-1zM729 392h1v1h-1zM793 392h1v1h-1zM857 392h1v1h-1zM921 392h1v1h-1zM985 392h1v1h-1zM1049 392h1v1h-1zM1113 392h1v1h-1zM282 400h1v1h-1zM346 400h1v1h-1zM410 400h1v1h-1zM474 400h1v1h-1zM537 400h1v1h-1zM601 400h1v1h-1zM665 400h1v1h-1zM729 400h1v1h-1zM793 400h1v1h-1zM857 400h1v1h-1zM921 400h1v1h-1zM985 400h1v1h-1zM1049 400h1v1h-1zM1113 400h1v1h-1zM282 401h1v1h-1zM346 401h1v1h-1zM410 401h1v1h-1zM474 401h1v1h-1zM537 401h1v1h-1zM601 401h1v1h-1zM665 401h1v1h-1zM729 401h1v1h-1zM793 401h1v1h-1zM857 401h1v1h-1zM921 401h1v1h-1zM985 401h1v1h-1zM1049 401h1v1h-1zM1113 401h1v1h-1zM282 410h1v1h-1zM346 410h1v1h-1zM410 410h1v1h-1zM474 410h1v1h-1zM537 410h1v1h-1zM601 410h1v1h-1zM665 410h1v1h-1zM729 410h1v1h-1zM793 410h1v1h-1zM857 410h1v1h-1zM921 410h1v1h-1zM985 410h1v1h-1zM1049 410h1v1h-1zM1113 410h1v1h-1zM282 411h1v1h-1zM346 411h1v1h-1zM410 411h1v1h-1zM474 411h1v1h-1zM537 411h1v1h-1zM601 411h1v1h-1zM665 411h1v1h-1zM729 411h1v1h-1zM793 411h1v1h-1zM857 411h1v1h-1zM921 411h1v1h-1zM985 411h1v1h-1zM1049 411h1v1h-1zM1113 411h1v1h-1zM219 417h1v1h-1zM228 417h2v1h-2zM237 417h2v1h-2zM247 417h2v1h-2zM257 417h2v1h-2zM267 417h2v1h-2zM277 417h2v1h-2zM286 417h2v1h-2zM296 417h2v1h-2zM306 417h2v1h-2zM316 417h2v1h-2zM326 417h2v1h-2zM336 417h2v1h-2zM345 417h2v1h-2zM355 417h2v1h-2zM365 417h2v1h-2zM375 417h2v1h-2zM385 417h2v1h-2zM394 417h2v1h-2zM404 417h2v1h-2zM414 417h2v1h-2zM424 417h2v1h-2zM434 417h2v1h-2zM444 417h2v1h-2zM453 417h2v1h-2zM463 417h2v1h-2zM473 417h2v1h-2zM483 417h2v1h-2zM493 417h2v1h-2zM502 417h2v1h-2zM512 417h2v1h-2zM522 417h2v1h-2zM532 417h2v1h-2zM542 417h2v1h-2zM552 417h2v1h-2zM561 417h2v1h-2zM571 417h2v1h-2zM581 417h2v1h-2zM591 417h2v1h-2zM601 417h2v1h-2zM611 417h2v1h-2zM620 417h2v1h-2zM630 417h2v1h-2zM640 417h2v1h-2zM650 417h2v1h-2zM660 417h2v1h-2zM669 417h2v1h-2zM679 417h2v1h-2zM689 417h2v1h-2zM699 417h2v1h-2zM709 417h2v1h-2zM719 417h2v1h-2zM728 417h2v1h-2zM738 417h2v1h-2zM748 417h2v1h-2zM758 417h2v1h-2zM768 417h2v1h-2zM777 417h2v1h-2zM787 417h2v1h-2zM797 417h2v1h-2zM807 417h2v1h-2zM817 417h2v1h-2zM827 417h2v1h-2zM836 417h2v1h-2zM846 417h2v1h-2zM856 417h2v1h-2zM866 417h2v1h-2zM876 417h2v1h-2zM885 417h2v1h-2zM895 417h2v1h-2zM905 417h2v1h-2zM915 417h2v1h-2zM925 417h2v1h-2zM935 417h2v1h-2zM944 417h2v1h-2zM954 417h2v1h-2zM964 417h2v1h-2zM974 417h2v1h-2zM984 417h2v1h-2zM993 417h2v1h-2zM1003 417h2v1h-2zM1013 417h2v1h-2zM1023 417h2v1h-2zM1033 417h2v1h-2zM1043 417h2v1h-2zM1052 417h2v1h-2zM1062 417h2v1h-2zM1072 417h2v1h-2zM1082 417h2v1h-2zM1092 417h2v1h-2zM1102 417h2v1h-2zM1111 417h2v1h-2zM1121 417h2v1h-2zM1131 417h2v1h-2zM1141 417h2v1h-2zM282 419h1v1h-1zM346 419h1v1h-1zM410 419h1v1h-1zM474 419h1v1h-1zM537 419h1v1h-1zM601 419h1v1h-1zM665 419h1v1h-1zM729 419h1v1h-1zM793 419h1v1h-1zM857 419h1v1h-1zM921 419h1v1h-1zM985 419h1v1h-1zM1049 419h1v1h-1zM1113 419h1v1h-1zM282 420h1v1h-1zM346 420h1v1h-1zM410 420h1v1h-1zM474 420h1v1h-1zM537 420h1v1h-1zM601 420h1v1h-1zM665 420h1v1h-1zM729 420h1v1h-1zM793 420h1v1h-1zM857 420h1v1h-1zM921 420h1v1h-1zM985 420h1v1h-1zM1049 420h1v1h-1zM1113 420h1v1h-1zM282 429h1v1h-1zM346 429h1v1h-1zM410 429h1v1h-1zM474 429h1v1h-1zM537 429h1v1h-1zM601 429h1v1h-1zM665 429h1v1h-1zM729 429h1v1h-1zM793 429h1v1h-1zM857 429h1v1h-1zM921 429h1v1h-1zM985 429h1v1h-1zM1049 429h1v1h-1zM1113 429h1v1h-1zM282 430h1v1h-1zM346 430h1v1h-1zM410 430h1v1h-1zM474 430h1v1h-1zM537 430h1v1h-1zM601 430h1v1h-1zM665 430h1v1h-1zM729 430h1v1h-1zM793 430h1v1h-1zM857 430h1v1h-1zM921 430h1v1h-1zM985 430h1v1h-1zM1049 430h1v1h-1zM1113 430h1v1h-1zM282 439h1v1h-1zM346 439h1v1h-1zM410 439h1v1h-1zM474 439h1v1h-1zM537 439h1v1h-1zM601 439h1v1h-1zM665 439h1v1h-1zM729 439h1v1h-1zM793 439h1v1h-1zM857 439h1v1h-1zM921 439h1v1h-1zM985 439h1v1h-1zM1049 439h1v1h-1zM1113 439h1v1h-1zM282 440h1v1h-1zM346 440h1v1h-1zM410 440h1v1h-1zM474 440h1v1h-1zM537 440h1v1h-1zM601 440h1v1h-1zM665 440h1v1h-1zM729 440h1v1h-1zM793 440h1v1h-1zM857 440h1v1h-1zM921 440h1v1h-1zM985 440h1v1h-1zM1049 440h1v1h-1zM1113 440h1v1h-1zM282 448h1v1h-1zM346 448h1v1h-1zM410 448h1v1h-1zM474 448h1v1h-1zM537 448h1v1h-1zM601 448h1v1h-1zM665 448h1v1h-1zM729 448h1v1h-1zM793 448h1v1h-1zM857 448h1v1h-1zM921 448h1v1h-1zM985 448h1v1h-1zM1049 448h1v1h-1zM1113 448h1v1h-1zM282 449h1v1h-1zM346 449h1v1h-1zM410 449h1v1h-1zM474 449h1v1h-1zM537 449h1v1h-1zM601 449h1v1h-1zM665 449h1v1h-1zM729 449h1v1h-1zM793 449h1v1h-1zM857 449h1v1h-1zM921 449h1v1h-1zM985 449h1v1h-1zM1049 449h1v1h-1zM1113 449h1v1h-1zM282 458h1v1h-1zM346 458h1v1h-1zM410 458h1v1h-1zM474 458h1v1h-1zM537 458h1v1h-1zM601 458h1v1h-1zM665 458h1v1h-1zM729 458h1v1h-1zM793 458h1v1h-1zM857 458h1v1h-1zM921 458h1v1h-1zM985 458h1v1h-1zM1049 458h1v1h-1zM1113 458h1v1h-1zM282 459h1v1h-1zM346 459h1v1h-1zM410 459h1v1h-1zM474 459h1v1h-1zM537 459h1v1h-1zM601 459h1v1h-1zM665 459h1v1h-1zM729 459h1v1h-1zM793 459h1v1h-1zM857 459h1v1h-1zM921 459h1v1h-1zM985 459h1v1h-1zM1049 459h1v1h-1zM1113 459h1v1h-1zM282 467h1v1h-1zM346 467h1v1h-1zM410 467h1v1h-1zM474 467h1v1h-1zM537 467h1v1h-1zM601 467h1v1h-1zM665 467h1v1h-1zM729 467h1v1h-1zM793 467h1v1h-1zM857 467h1v1h-1zM921 467h1v1h-1zM985 467h1v1h-1zM1049 467h1v1h-1zM1113 467h1v1h-1zM282 468h1v1h-1zM346 468h1v1h-1zM410 468h1v1h-1zM474 468h1v1h-1zM537 468h1v1h-1zM601 468h1v1h-1zM665 468h1v1h-1zM729 468h1v1h-1zM793 468h1v1h-1zM857 468h1v1h-1zM921 468h1v1h-1zM985 468h1v1h-1zM1049 468h1v1h-1zM1113 468h1v1h-1zM282 477h1v1h-1zM346 477h1v1h-1zM410 477h1v1h-1zM474 477h1v1h-1zM537 477h1v1h-1zM601 477h1v1h-1zM665 477h1v1h-1zM729 477h1v1h-1zM793 477h1v1h-1zM857 477h1v1h-1zM921 477h1v1h-1zM985 477h1v1h-1zM1049 477h1v1h-1zM1113 477h1v1h-1zM282 478h1v1h-1zM346 478h1v1h-1zM410 478h1v1h-1zM474 478h1v1h-1zM537 478h1v1h-1zM601 478h1v1h-1zM665 478h1v1h-1zM729 478h1v1h-1zM793 478h1v1h-1zM857 478h1v1h-1zM921 478h1v1h-1zM985 478h1v1h-1zM1049 478h1v1h-1zM1113 478h1v1h-1zM219 484h1v1h-1zM228 484h2v1h-2zM237 484h2v1h-2zM247 484h2v1h-2zM257 484h2v1h-2zM267 484h2v1h-2zM277 484h2v1h-2zM286 484h2v1h-2zM296 484h2v1h-2zM306 484h2v1h-2zM316 484h2v1h-2zM326 484h2v1h-2zM336 484h2v1h-2zM345 484h2v1h-2zM355 484h2v1h-2zM365 484h2v1h-2zM375 484h2v1h-2zM385 484h2v1h-2zM394 484h2v1h-2zM404 484h2v1h-2zM414 484h2v1h-2zM424 484h2v1h-2zM434 484h2v1h-2zM444 484h2v1h-2zM453 484h2v1h-2zM463 484h2v1h-2zM473 484h2v1h-2zM483 484h2v1h-2zM493 484h2v1h-2zM502 484h2v1h-2zM512 484h2v1h-2zM522 484h2v1h-2zM532 484h2v1h-2zM542 484h2v1h-2zM552 484h2v1h-2zM561 484h2v1h-2zM571 484h2v1h-2zM581 484h2v1h-2zM591 484h2v1h-2zM601 484h2v1h-2zM611 484h2v1h-2zM620 484h2v1h-2zM630 484h2v1h-2zM640 484h2v1h-2zM650 484h2v1h-2zM660 484h2v1h-2zM669 484h2v1h-2zM679 484h2v1h-2zM689 484h2v1h-2zM699 484h2v1h-2zM709 484h2v1h-2zM719 484h2v1h-2zM728 484h2v1h-2zM738 484h2v1h-2zM748 484h2v1h-2zM758 484h2v1h-2zM768 484h2v1h-2zM777 484h2v1h-2zM787 484h2v1h-2zM797 484h2v1h-2zM807 484h2v1h-2zM817 484h2v1h-2zM827 484h2v1h-2zM836 484h2v1h-2zM846 484h2v1h-2zM856 484h2v1h-2zM866 484h2v1h-2zM876 484h2v1h-2zM885 484h2v1h-2zM895 484h2v1h-2zM905 484h2v1h-2zM915 484h2v1h-2zM925 484h2v1h-2zM935 484h2v1h-2zM944 484h2v1h-2zM954 484h2v1h-2zM964 484h2v1h-2zM974 484h2v1h-2zM984 484h2v1h-2zM993 484h2v1h-2zM1003 484h2v1h-2zM1013 484h2v1h-2zM1023 484h2v1h-2zM1033 484h2v1h-2zM1043 484h2v1h-2zM1052 484h2v1h-2zM1062 484h2v1h-2zM1072 484h2v1h-2zM1082 484h2v1h-2zM1092 484h2v1h-2zM1102 484h2v1h-2zM1111 484h2v1h-2zM1121 484h2v1h-2zM1131 484h2v1h-2zM1141 484h2v1h-2zM282 486h1v1h-1zM346 486h1v1h-1zM410 486h1v1h-1zM474 486h1v1h-1zM537 486h1v1h-1zM601 486h1v1h-1zM665 486h1v1h-1zM729 486h1v1h-1zM793 486h1v1h-1zM857 486h1v1h-1zM921 486h1v1h-1zM985 486h1v1h-1zM1049 486h1v1h-1zM1113 486h1v1h-1zM282 487h1v1h-1zM346 487h1v1h-1zM410 487h1v1h-1zM474 487h1v1h-1zM537 487h1v1h-1zM601 487h1v1h-1zM665 487h1v1h-1zM729 487h1v1h-1zM793 487h1v1h-1zM857 487h1v1h-1zM921 487h1v1h-1zM985 487h1v1h-1zM1049 487h1v1h-1zM1113 487h1v1h-1zM282 496h1v1h-1zM346 496h1v1h-1zM410 496h1v1h-1zM474 496h1v1h-1zM537 496h1v1h-1zM601 496h1v1h-1zM665 496h1v1h-1zM729 496h1v1h-1zM793 496h1v1h-1zM857 496h1v1h-1zM921 496h1v1h-1zM985 496h1v1h-1zM1049 496h1v1h-1zM1113 496h1v1h-1zM282 497h1v1h-1zM346 497h1v1h-1zM410 497h1v1h-1zM474 497h1v1h-1zM537 497h1v1h-1zM601 497h1v1h-1zM665 497h1v1h-1zM729 497h1v1h-1zM793 497h1v1h-1zM857 497h1v1h-1zM921 497h1v1h-1zM985 497h1v1h-1zM1049 497h1v1h-1zM1113 497h1v1h-1zM282 505h1v1h-1zM346 505h1v1h-1zM410 505h1v1h-1zM474 505h1v1h-1zM537 505h1v1h-1zM601 505h1v1h-1zM665 505h1v1h-1zM729 505h1v1h-1zM793 505h1v1h-1zM857 505h1v1h-1zM921 505h1v1h-1zM985 505h1v1h-1zM1049 505h1v1h-1zM1113 505h1v1h-1zM282 506h1v1h-1zM346 506h1v1h-1zM410 506h1v1h-1zM474 506h1v1h-1zM537 506h1v1h-1zM601 506h1v1h-1zM665 506h1v1h-1zM729 506h1v1h-1zM793 506h1v1h-1zM857 506h1v1h-1zM921 506h1v1h-1zM985 506h1v1h-1zM1049 506h1v1h-1zM1113 506h1v1h-1zM282 515h1v1h-1zM346 515h1v1h-1zM410 515h1v1h-1zM474 515h1v1h-1zM537 515h1v1h-1zM601 515h1v1h-1zM665 515h1v1h-1zM729 515h1v1h-1zM793 515h1v1h-1zM857 515h1v1h-1zM921 515h1v1h-1zM985 515h1v1h-1zM1049 515h1v1h-1zM1113 515h1v1h-1zM282 516h1v1h-1zM346 516h1v1h-1zM410 516h1v1h-1zM474 516h1v1h-1zM537 516h1v1h-1zM601 516h1v1h-1zM665 516h1v1h-1zM729 516h1v1h-1zM793 516h1v1h-1zM857 516h1v1h-1zM921 516h1v1h-1zM985 516h1v1h-1zM1049 516h1v1h-1zM1113 516h1v1h-1zM282 524h1v1h-1zM346 524h1v1h-1zM410 524h1v1h-1zM474 524h1v1h-1zM537 524h1v1h-1zM601 524h1v1h-1zM665 524h1v1h-1zM729 524h1v1h-1zM793 524h1v1h-1zM857 524h1v1h-1zM921 524h1v1h-1zM985 524h1v1h-1zM1049 524h1v1h-1zM1113 524h1v1h-1zM282 525h1v1h-1zM346 525h1v1h-1zM410 525h1v1h-1zM474 525h1v1h-1zM537 525h1v1h-1zM601 525h1v1h-1zM665 525h1v1h-1zM729 525h1v1h-1zM793 525h1v1h-1zM857 525h1v1h-1zM921 525h1v1h-1zM985 525h1v1h-1zM1049 525h1v1h-1zM1113 525h1v1h-1zM282 534h1v1h-1zM346 534h1v1h-1zM410 534h1v1h-1zM474 534h1v1h-1zM537 534h1v1h-1zM601 534h1v1h-1zM665 534h1v1h-1zM729 534h1v1h-1zM793 534h1v1h-1zM857 534h1v1h-1zM921 534h1v1h-1zM985 534h1v1h-1zM1049 534h1v1h-1zM1113 534h1v1h-1zM282 535h1v1h-1zM346 535h1v1h-1zM410 535h1v1h-1zM474 535h1v1h-1zM537 535h1v1h-1zM601 535h1v1h-1zM665 535h1v1h-1zM729 535h1v1h-1zM793 535h1v1h-1zM857 535h1v1h-1zM921 535h1v1h-1zM985 535h1v1h-1zM1049 535h1v1h-1zM1113 535h1v1h-1zM282 543h1v1h-1zM346 543h1v1h-1zM410 543h1v1h-1zM474 543h1v1h-1zM537 543h1v1h-1zM601 543h1v1h-1zM665 543h1v1h-1zM729 543h1v1h-1zM793 543h1v1h-1zM857 543h1v1h-1zM921 543h1v1h-1zM985 543h1v1h-1zM1049 543h1v1h-1zM1113 543h1v1h-1zM282 544h1v1h-1zM346 544h1v1h-1zM410 544h1v1h-1zM474 544h1v1h-1zM537 544h1v1h-1zM601 544h1v1h-1zM665 544h1v1h-1zM729 544h1v1h-1zM793 544h1v1h-1zM857 544h1v1h-1zM921 544h1v1h-1zM985 544h1v1h-1zM1049 544h1v1h-1zM1113 544h1v1h-1zM219 552h1v1h-1zM228 552h2v1h-2zM237 552h2v1h-2zM247 552h2v1h-2zM257 552h2v1h-2zM267 552h2v1h-2zM277 552h2v1h-2zM286 552h2v1h-2zM296 552h2v1h-2zM306 552h2v1h-2zM316 552h2v1h-2zM326 552h2v1h-2zM336 552h2v1h-2zM345 552h2v1h-2zM355 552h2v1h-2zM365 552h2v1h-2zM375 552h2v1h-2zM385 552h2v1h-2zM394 552h2v1h-2zM404 552h2v1h-2zM414 552h2v1h-2zM424 552h2v1h-2zM434 552h2v1h-2zM444 552h2v1h-2zM453 552h2v1h-2zM463 552h2v1h-2zM473 552h2v1h-2zM483 552h2v1h-2zM493 552h2v1h-2zM502 552h2v1h-2zM512 552h2v1h-2zM522 552h2v1h-2zM532 552h2v1h-2zM542 552h2v1h-2zM552 552h2v1h-2zM561 552h2v1h-2zM571 552h2v1h-2zM581 552h2v1h-2zM591 552h2v1h-2zM601 552h2v1h-2zM611 552h2v1h-2zM620 552h2v1h-2zM630 552h2v1h-2zM640 552h2v1h-2zM650 552h2v1h-2zM660 552h2v1h-2zM669 552h2v1h-2zM679 552h2v1h-2zM689 552h2v1h-2zM699 552h2v1h-2zM709 552h2v1h-2zM719 552h2v1h-2zM728 552h2v1h-2zM738 552h2v1h-2zM748 552h2v1h-2zM758 552h2v1h-2zM768 552h2v1h-2zM777 552h2v1h-2zM787 552h2v1h-2zM797 552h2v1h-2zM807 552h2v1h-2zM817 552h2v1h-2zM827 552h2v1h-2zM836 552h2v1h-2zM846 552h2v1h-2zM856 552h2v1h-2zM866 552h2v1h-2zM876 552h2v1h-2zM885 552h2v1h-2zM895 552h2v1h-2zM905 552h2v1h-2zM915 552h2v1h-2zM925 552h2v1h-2zM935 552h2v1h-2zM944 552h2v1h-2zM954 552h2v1h-2zM964 552h2v1h-2zM974 552h2v1h-2zM984 552h2v1h-2zM993 552h2v1h-2zM1003 552h2v1h-2zM1013 552h2v1h-2zM1023 552h2v1h-2zM1033 552h2v1h-2zM1043 552h2v1h-2zM1052 552h2v1h-2zM1062 552h2v1h-2zM1072 552h2v1h-2zM1082 552h2v1h-2zM1092 552h2v1h-2zM1102 552h2v1h-2zM1111 552h2v1h-2zM1121 552h2v1h-2zM1131 552h2v1h-2zM1141 552h2v1h-2zM282 553h1v1h-1zM346 553h1v1h-1zM410 553h1v1h-1zM474 553h1v1h-1zM537 553h1v1h-1zM601 553h1v1h-1zM665 553h1v1h-1zM729 553h1v1h-1zM793 553h1v1h-1zM857 553h1v1h-1zM921 553h1v1h-1zM985 553h1v1h-1zM1049 553h1v1h-1zM1113 553h1v1h-1zM282 554h1v1h-1zM346 554h1v1h-1zM410 554h1v1h-1zM474 554h1v1h-1zM537 554h1v1h-1zM601 554h1v1h-1zM665 554h1v1h-1zM729 554h1v1h-1zM793 554h1v1h-1zM857 554h1v1h-1zM921 554h1v1h-1zM985 554h1v1h-1zM1049 554h1v1h-1zM1113 554h1v1h-1zM282 562h1v1h-1zM346 562h1v1h-1zM410 562h1v1h-1zM474 562h1v1h-1zM537 562h1v1h-1zM601 562h1v1h-1zM665 562h1v1h-1zM729 562h1v1h-1zM793 562h1v1h-1zM857 562h1v1h-1zM921 562h1v1h-1zM985 562h1v1h-1zM1049 562h1v1h-1zM1113 562h1v1h-1zM282 563h1v1h-1zM346 563h1v1h-1zM410 563h1v1h-1zM474 563h1v1h-1zM537 563h1v1h-1zM601 563h1v1h-1zM665 563h1v1h-1zM729 563h1v1h-1zM793 563h1v1h-1zM857 563h1v1h-1zM921 563h1v1h-1zM985 563h1v1h-1zM1049 563h1v1h-1zM1113 563h1v1h-1zM282 572h1v1h-1zM346 572h1v1h-1zM410 572h1v1h-1zM474 572h1v1h-1zM537 572h1v1h-1zM601 572h1v1h-1zM665 572h1v1h-1zM729 572h1v1h-1zM793 572h1v1h-1zM857 572h1v1h-1zM921 572h1v1h-1zM985 572h1v1h-1zM1049 572h1v1h-1zM1113 572h1v1h-1zM282 573h1v1h-1zM346 573h1v1h-1zM410 573h1v1h-1zM474 573h1v1h-1zM537 573h1v1h-1zM601 573h1v1h-1zM665 573h1v1h-1zM729 573h1v1h-1zM793 573h1v1h-1zM857 573h1v1h-1zM921 573h1v1h-1zM985 573h1v1h-1zM1049 573h1v1h-1zM1113 573h1v1h-1zM282 581h1v1h-1zM346 581h1v1h-1zM410 581h1v1h-1zM474 581h1v1h-1zM537 581h1v1h-1zM601 581h1v1h-1zM665 581h1v1h-1zM729 581h1v1h-1zM793 581h1v1h-1zM857 581h1v1h-1zM921 581h1v1h-1zM985 581h1v1h-1zM1049 581h1v1h-1zM1113 581h1v1h-1zM282 582h1v1h-1zM346 582h1v1h-1zM410 582h1v1h-1zM474 582h1v1h-1zM537 582h1v1h-1zM601 582h1v1h-1zM665 582h1v1h-1zM729 582h1v1h-1zM793 582h1v1h-1zM857 582h1v1h-1zM921 582h1v1h-1zM985 582h1v1h-1zM1049 582h1v1h-1zM1113 582h1v1h-1zM282 591h1v1h-1zM346 591h1v1h-1zM410 591h1v1h-1zM474 591h1v1h-1zM537 591h1v1h-1zM601 591h1v1h-1zM665 591h1v1h-1zM729 591h1v1h-1zM793 591h1v1h-1zM857 591h1v1h-1zM921 591h1v1h-1zM985 591h1v1h-1zM1049 591h1v1h-1zM1113 591h1v1h-1zM282 592h1v1h-1zM346 592h1v1h-1zM410 592h1v1h-1zM474 592h1v1h-1zM537 592h1v1h-1zM601 592h1v1h-1zM665 592h1v1h-1zM729 592h1v1h-1zM793 592h1v1h-1zM857 592h1v1h-1zM921 592h1v1h-1zM985 592h1v1h-1zM1049 592h1v1h-1zM1113 592h1v1h-1zM282 601h1v1h-1zM346 601h1v1h-1zM410 601h1v1h-1zM474 601h1v1h-1zM537 601h1v1h-1zM601 601h1v1h-1zM665 601h1v1h-1zM729 601h1v1h-1zM793 601h1v1h-1zM857 601h1v1h-1zM921 601h1v1h-1zM985 601h1v1h-1zM1049 601h1v1h-1zM1113 601h1v1h-1zM282 602h1v1h-1zM346 602h1v1h-1zM410 602h1v1h-1zM474 602h1v1h-1zM537 602h1v1h-1zM601 602h1v1h-1zM665 602h1v1h-1zM729 602h1v1h-1zM793 602h1v1h-1zM857 602h1v1h-1zM921 602h1v1h-1zM985 602h1v1h-1zM1049 602h1v1h-1zM1113 602h1v1h-1zM282 610h1v1h-1zM346 610h1v1h-1zM410 610h1v1h-1zM474 610h1v1h-1zM537 610h1v1h-1zM601 610h1v1h-1zM665 610h1v1h-1zM729 610h1v1h-1zM793 610h1v1h-1zM857 610h1v1h-1zM921 610h1v1h-1zM985 610h1v1h-1zM1049 610h1v1h-1zM1113 610h1v1h-1zM282 611h1v1h-1zM346 611h1v1h-1zM410 611h1v1h-1zM474 611h1v1h-1zM537 611h1v1h-1zM601 611h1v1h-1zM665 611h1v1h-1zM729 611h1v1h-1zM793 611h1v1h-1zM857 611h1v1h-1zM921 611h1v1h-1zM985 611h1v1h-1zM1049 611h1v1h-1zM1113 611h1v1h-1zM219 619h1v1h-1zM228 619h2v1h-2zM237 619h2v1h-2zM247 619h2v1h-2zM257 619h2v1h-2zM267 619h2v1h-2zM277 619h2v1h-2zM286 619h2v1h-2zM296 619h2v1h-2zM306 619h2v1h-2zM316 619h2v1h-2zM326 619h2v1h-2zM336 619h2v1h-2zM345 619h2v1h-2zM355 619h2v1h-2zM365 619h2v1h-2zM375 619h2v1h-2zM385 619h2v1h-2zM394 619h2v1h-2zM404 619h2v1h-2zM414 619h2v1h-2zM424 619h2v1h-2zM434 619h2v1h-2zM444 619h2v1h-2zM453 619h2v1h-2zM463 619h2v1h-2zM473 619h2v1h-2zM483 619h2v1h-2zM493 619h2v1h-2zM502 619h2v1h-2zM512 619h2v1h-2zM522 619h2v1h-2zM532 619h2v1h-2zM542 619h2v1h-2zM552 619h2v1h-2zM561 619h2v1h-2zM571 619h2v1h-2zM581 619h2v1h-2zM591 619h2v1h-2zM601 619h2v1h-2zM611 619h2v1h-2zM620 619h2v1h-2zM630 619h2v1h-2zM640 619h2v1h-2zM650 619h2v1h-2zM660 619h2v1h-2zM669 619h2v1h-2zM679 619h2v1h-2zM689 619h2v1h-2zM699 619h2v1h-2zM709 619h2v1h-2zM719 619h2v1h-2zM728 619h2v1h-2zM738 619h2v1h-2zM748 619h2v1h-2zM758 619h2v1h-2zM768 619h2v1h-2zM777 619h2v1h-2zM787 619h2v1h-2zM797 619h2v1h-2zM807 619h2v1h-2zM817 619h2v1h-2zM827 619h2v1h-2zM836 619h2v1h-2zM846 619h2v1h-2zM856 619h2v1h-2zM866 619h2v1h-2zM876 619h2v1h-2zM885 619h2v1h-2zM895 619h2v1h-2zM905 619h2v1h-2zM915 619h2v1h-2zM925 619h2v1h-2zM935 619h2v1h-2zM944 619h2v1h-2zM954 619h2v1h-2zM964 619h2v1h-2zM974 619h2v1h-2zM984 619h2v1h-2zM993 619h2v1h-2zM1003 619h2v1h-2zM1013 619h2v1h-2zM1023 619h2v1h-2zM1033 619h2v1h-2zM1043 619h2v1h-2zM1052 619h2v1h-2zM1062 619h2v1h-2zM1072 619h2v1h-2zM1082 619h2v1h-2zM1092 619h2v1h-2zM1102 619h2v1h-2zM1111 619h2v1h-2zM1121 619h2v1h-2zM1131 619h2v1h-2zM1141 619h2v1h-2zM282 620h1v1h-1zM346 620h1v1h-1zM410 620h1v1h-1zM474 620h1v1h-1zM537 620h1v1h-1zM601 620h1v1h-1zM665 620h1v1h-1zM729 620h1v1h-1zM793 620h1v1h-1zM857 620h1v1h-1zM921 620h1v1h-1zM985 620h1v1h-1zM1049 620h1v1h-1zM1113 620h1v1h-1zM282 621h1v1h-1zM346 621h1v1h-1zM410 621h1v1h-1zM474 621h1v1h-1zM537 621h1v1h-1zM601 621h1v1h-1zM665 621h1v1h-1zM729 621h1v1h-1zM793 621h1v1h-1zM857 621h1v1h-1zM921 621h1v1h-1zM985 621h1v1h-1zM1049 621h1v1h-1zM1113 621h1v1h-1zM282 629h1v1h-1zM346 629h1v1h-1zM410 629h1v1h-1zM474 629h1v1h-1zM537 629h1v1h-1zM601 629h1v1h-1zM665 629h1v1h-1zM729 629h1v1h-1zM793 629h1v1h-1zM857 629h1v1h-1zM921 629h1v1h-1zM985 629h1v1h-1zM1049 629h1v1h-1zM1113 629h1v1h-1zM282 630h1v1h-1zM346 630h1v1h-1zM410 630h1v1h-1zM474 630h1v1h-1zM537 630h1v1h-1zM601 630h1v1h-1zM665 630h1v1h-1zM729 630h1v1h-1zM793 630h1v1h-1zM857 630h1v1h-1zM921 630h1v1h-1zM985 630h1v1h-1zM1049 630h1v1h-1zM1113 630h1v1h-1zM282 639h1v1h-1zM346 639h1v1h-1zM410 639h1v1h-1zM474 639h1v1h-1zM537 639h1v1h-1zM601 639h1v1h-1zM665 639h1v1h-1zM729 639h1v1h-1zM793 639h1v1h-1zM857 639h1v1h-1zM921 639h1v1h-1zM985 639h1v1h-1zM1049 639h1v1h-1zM1113 639h1v1h-1zM282 640h1v1h-1zM346 640h1v1h-1zM410 640h1v1h-1zM474 640h1v1h-1zM537 640h1v1h-1zM601 640h1v1h-1zM665 640h1v1h-1zM729 640h1v1h-1zM793 640h1v1h-1zM857 640h1v1h-1zM921 640h1v1h-1zM985 640h1v1h-1zM1049 640h1v1h-1zM1113 640h1v1h-1zM282 648h1v1h-1zM346 648h1v1h-1zM410 648h1v1h-1zM474 648h1v1h-1zM537 648h1v1h-1zM601 648h1v1h-1zM665 648h1v1h-1zM729 648h1v1h-1zM793 648h1v1h-1zM857 648h1v1h-1zM921 648h1v1h-1zM985 648h1v1h-1zM1049 648h1v1h-1zM1113 648h1v1h-1zM282 649h1v1h-1zM346 649h1v1h-1zM410 649h1v1h-1zM474 649h1v1h-1zM537 649h1v1h-1zM601 649h1v1h-1zM665 649h1v1h-1zM729 649h1v1h-1zM793 649h1v1h-1zM857 649h1v1h-1zM921 649h1v1h-1zM985 649h1v1h-1zM1049 649h1v1h-1zM1113 649h1v1h-1zM282 658h1v1h-1zM346 658h1v1h-1zM410 658h1v1h-1zM474 658h1v1h-1zM537 658h1v1h-1zM601 658h1v1h-1zM665 658h1v1h-1zM729 658h1v1h-1zM793 658h1v1h-1zM857 658h1v1h-1zM921 658h1v1h-1zM985 658h1v1h-1zM1049 658h1v1h-1zM1113 658h1v1h-1zM282 659h1v1h-1zM346 659h1v1h-1zM410 659h1v1h-1zM474 659h1v1h-1zM537 659h1v1h-1zM601 659h1v1h-1zM665 659h1v1h-1zM729 659h1v1h-1zM793 659h1v1h-1zM857 659h1v1h-1zM921 659h1v1h-1zM985 659h1v1h-1zM1049 659h1v1h-1zM1113 659h1v1h-1zM282 667h1v1h-1zM346 667h1v1h-1zM410 667h1v1h-1zM474 667h1v1h-1zM537 667h1v1h-1zM601 667h1v1h-1zM665 667h1v1h-1zM729 667h1v1h-1zM793 667h1v1h-1zM857 667h1v1h-1zM921 667h1v1h-1zM985 667h1v1h-1zM1049 667h1v1h-1zM1113 667h1v1h-1zM282 668h1v1h-1zM346 668h1v1h-1zM410 668h1v1h-1zM474 668h1v1h-1zM537 668h1v1h-1zM601 668h1v1h-1zM665 668h1v1h-1zM729 668h1v1h-1zM793 668h1v1h-1zM857 668h1v1h-1zM921 668h1v1h-1zM985 668h1v1h-1zM1049 668h1v1h-1zM1113 668h1v1h-1zM282 677h1v1h-1zM346 677h1v1h-1zM410 677h1v1h-1zM474 677h1v1h-1zM537 677h1v1h-1zM601 677h1v1h-1zM665 677h1v1h-1zM729 677h1v1h-1zM793 677h1v1h-1zM857 677h1v1h-1zM921 677h1v1h-1zM985 677h1v1h-1zM1049 677h1v1h-1zM1113 677h1v1h-1zM282 678h1v1h-1zM346 678h1v1h-1zM410 678h1v1h-1zM474 678h1v1h-1zM537 678h1v1h-1zM601 678h1v1h-1zM665 678h1v1h-1zM729 678h1v1h-1zM793 678h1v1h-1zM857 678h1v1h-1zM921 678h1v1h-1zM985 678h1v1h-1zM1049 678h1v1h-1zM1113 678h1v1h-1zM219 686h1v1h-1zM228 686h2v1h-2zM237 686h2v1h-2zM247 686h2v1h-2zM257 686h2v1h-2zM267 686h2v1h-2zM277 686h2v1h-2zM282 686h1v1h-1zM286 686h2v1h-2zM296 686h2v1h-2zM306 686h2v1h-2zM316 686h2v1h-2zM326 686h2v1h-2zM336 686h2v1h-2zM345 686h2v1h-2zM355 686h2v1h-2zM365 686h2v1h-2zM375 686h2v1h-2zM385 686h2v1h-2zM394 686h2v1h-2zM404 686h2v1h-2zM410 686h1v1h-1zM414 686h2v1h-2zM424 686h2v1h-2zM434 686h2v1h-2zM444 686h2v1h-2zM453 686h2v1h-2zM463 686h2v1h-2zM473 686h2v1h-2zM483 686h2v1h-2zM493 686h2v1h-2zM502 686h2v1h-2zM512 686h2v1h-2zM522 686h2v1h-2zM532 686h2v1h-2zM537 686h1v1h-1zM542 686h2v1h-2zM552 686h2v1h-2zM561 686h2v1h-2zM571 686h2v1h-2zM581 686h2v1h-2zM591 686h2v1h-2zM601 686h2v1h-2zM611 686h2v1h-2zM620 686h2v1h-2zM630 686h2v1h-2zM640 686h2v1h-2zM650 686h2v1h-2zM660 686h2v1h-2zM665 686h1v1h-1zM669 686h2v1h-2zM679 686h2v1h-2zM689 686h2v1h-2zM699 686h2v1h-2zM709 686h2v1h-2zM719 686h2v1h-2zM728 686h2v1h-2zM738 686h2v1h-2zM748 686h2v1h-2zM758 686h2v1h-2zM768 686h2v1h-2zM777 686h2v1h-2zM787 686h2v1h-2zM793 686h1v1h-1zM797 686h2v1h-2zM807 686h2v1h-2zM817 686h2v1h-2zM827 686h2v1h-2zM836 686h2v1h-2zM846 686h2v1h-2zM856 686h2v1h-2zM866 686h2v1h-2zM876 686h2v1h-2zM885 686h2v1h-2zM895 686h2v1h-2zM905 686h2v1h-2zM915 686h2v1h-2zM921 686h1v1h-1zM925 686h2v1h-2zM935 686h2v1h-2zM944 686h2v1h-2zM954 686h2v1h-2zM964 686h2v1h-2zM974 686h2v1h-2zM984 686h2v1h-2zM993 686h2v1h-2zM1003 686h2v1h-2zM1013 686h2v1h-2zM1023 686h2v1h-2zM1033 686h2v1h-2zM1043 686h2v1h-2zM1049 686h1v1h-1zM1052 686h2v1h-2zM1062 686h2v1h-2zM1072 686h2v1h-2zM1082 686h2v1h-2zM1092 686h2v1h-2zM1102 686h2v1h-2zM1111 686h3v1h-3zM1121 686h2v1h-2zM1131 686h2v1h-2zM1141 686h2v1h-2zM282 687h1v1h-1zM346 687h1v1h-1zM410 687h1v1h-1zM474 687h1v1h-1zM537 687h1v1h-1zM601 687h1v1h-1zM665 687h1v1h-1zM729 687h1v1h-1zM793 687h1v1h-1zM857 687h1v1h-1zM921 687h1v1h-1zM985 687h1v1h-1zM1049 687h1v1h-1zM1113 687h1v1h-1zM282 696h1v1h-1zM346 696h1v1h-1zM410 696h1v1h-1zM474 696h1v1h-1zM537 696h1v1h-1zM601 696h1v1h-1zM665 696h1v1h-1zM729 696h1v1h-1zM793 696h1v1h-1zM857 696h1v1h-1zM921 696h1v1h-1zM985 696h1v1h-1zM1049 696h1v1h-1zM1113 696h1v1h-1zM282 697h1v1h-1zM346 697h1v1h-1zM410 697h1v1h-1zM474 697h1v1h-1zM537 697h1v1h-1zM601 697h1v1h-1zM665 697h1v1h-1zM729 697h1v1h-1zM793 697h1v1h-1zM857 697h1v1h-1zM921 697h1v1h-1zM985 697h1v1h-1zM1049 697h1v1h-1zM1113 697h1v1h-1zM282 705h1v1h-1zM346 705h1v1h-1zM410 705h1v1h-1zM474 705h1v1h-1zM537 705h1v1h-1zM601 705h1v1h-1zM665 705h1v1h-1zM729 705h1v1h-1zM793 705h1v1h-1zM857 705h1v1h-1zM921 705h1v1h-1zM985 705h1v1h-1zM1049 705h1v1h-1zM1113 705h1v1h-1zM282 706h1v1h-1zM346 706h1v1h-1zM410 706h1v1h-1zM474 706h1v1h-1zM537 706h1v1h-1zM601 706h1v1h-1zM665 706h1v1h-1zM729 706h1v1h-1zM793 706h1v1h-1zM857 706h1v1h-1zM921 706h1v1h-1zM985 706h1v1h-1zM1049 706h1v1h-1zM1113 706h1v1h-1zM282 715h1v1h-1zM346 715h1v1h-1zM410 715h1v1h-1zM474 715h1v1h-1zM537 715h1v1h-1zM601 715h1v1h-1zM665 715h1v1h-1zM729 715h1v1h-1zM793 715h1v1h-1zM857 715h1v1h-1zM921 715h1v1h-1zM985 715h1v1h-1zM1049 715h1v1h-1zM1113 715h1v1h-1zM282 716h1v1h-1zM346 716h1v1h-1zM410 716h1v1h-1zM474 716h1v1h-1zM537 716h1v1h-1zM601 716h1v1h-1zM665 716h1v1h-1zM729 716h1v1h-1zM793 716h1v1h-1zM857 716h1v1h-1zM921 716h1v1h-1zM985 716h1v1h-1zM1049 716h1v1h-1zM1113 716h1v1h-1zM282 724h1v1h-1zM346 724h1v1h-1zM410 724h1v1h-1zM474 724h1v1h-1zM537 724h1v1h-1zM601 724h1v1h-1zM665 724h1v1h-1zM729 724h1v1h-1zM793 724h1v1h-1zM857 724h1v1h-1zM921 724h1v1h-1zM985 724h1v1h-1zM1049 724h1v1h-1zM1113 724h1v1h-1zM282 725h1v1h-1zM346 725h1v1h-1zM410 725h1v1h-1zM474 725h1v1h-1zM537 725h1v1h-1zM601 725h1v1h-1zM665 725h1v1h-1zM729 725h1v1h-1zM793 725h1v1h-1zM857 725h1v1h-1zM921 725h1v1h-1zM985 725h1v1h-1zM1049 725h1v1h-1zM1113 725h1v1h-1zM282 734h1v1h-1zM346 734h1v1h-1zM410 734h1v1h-1zM474 734h1v1h-1zM537 734h1v1h-1zM601 734h1v1h-1zM665 734h1v1h-1zM729 734h1v1h-1zM793 734h1v1h-1zM857 734h1v1h-1zM921 734h1v1h-1zM985 734h1v1h-1zM1049 734h1v1h-1zM1113 734h1v1h-1zM282 735h1v1h-1zM346 735h1v1h-1zM410 735h1v1h-1zM474 735h1v1h-1zM537 735h1v1h-1zM601 735h1v1h-1zM665 735h1v1h-1zM729 735h1v1h-1zM793 735h1v1h-1zM857 735h1v1h-1zM921 735h1v1h-1zM985 735h1v1h-1zM1049 735h1v1h-1zM1113 735h1v1h-1zM282 743h1v1h-1zM346 743h1v1h-1zM410 743h1v1h-1zM474 743h1v1h-1zM537 743h1v1h-1zM601 743h1v1h-1zM665 743h1v1h-1zM729 743h1v1h-1zM793 743h1v1h-1zM857 743h1v1h-1zM921 743h1v1h-1zM985 743h1v1h-1zM1049 743h1v1h-1zM1113 743h1v1h-1zM282 744h1v1h-1zM346 744h1v1h-1zM410 744h1v1h-1zM474 744h1v1h-1zM537 744h1v1h-1zM601 744h1v1h-1zM665 744h1v1h-1zM729 744h1v1h-1zM793 744h1v1h-1zM857 744h1v1h-1zM921 744h1v1h-1zM985 744h1v1h-1zM1049 744h1v1h-1zM1113 744h1v1h-1zM282 753h1v1h-1zM346 753h1v1h-1zM410 753h1v1h-1zM474 753h1v1h-1zM537 753h1v1h-1zM601 753h1v1h-1zM665 753h1v1h-1zM729 753h1v1h-1zM793 753h1v1h-1zM857 753h1v1h-1zM921 753h1v1h-1zM985 753h1v1h-1zM1049 753h1v1h-1zM1113 753h1v1h-1zM219 754h1v1h-1zM228 754h2v1h-2zM237 754h2v1h-2zM247 754h2v1h-2zM257 754h2v1h-2zM267 754h2v1h-2zM277 754h2v1h-2zM282 754h1v1h-1zM286 754h2v1h-2zM296 754h2v1h-2zM306 754h2v1h-2zM316 754h2v1h-2zM326 754h2v1h-2zM336 754h2v1h-2zM345 754h2v1h-2zM355 754h2v1h-2zM365 754h2v1h-2zM375 754h2v1h-2zM385 754h2v1h-2zM394 754h2v1h-2zM404 754h2v1h-2zM410 754h1v1h-1zM414 754h2v1h-2zM424 754h2v1h-2zM434 754h2v1h-2zM444 754h2v1h-2zM453 754h2v1h-2zM463 754h2v1h-2zM473 754h2v1h-2zM483 754h2v1h-2zM493 754h2v1h-2zM502 754h2v1h-2zM512 754h2v1h-2zM522 754h2v1h-2zM532 754h2v1h-2zM537 754h1v1h-1zM542 754h2v1h-2zM552 754h2v1h-2zM561 754h2v1h-2zM571 754h2v1h-2zM581 754h2v1h-2zM591 754h2v1h-2zM601 754h2v1h-2zM611 754h2v1h-2zM620 754h2v1h-2zM630 754h2v1h-2zM640 754h2v1h-2zM650 754h2v1h-2zM660 754h2v1h-2zM665 754h1v1h-1zM669 754h2v1h-2zM679 754h2v1h-2zM689 754h2v1h-2zM699 754h2v1h-2zM709 754h2v1h-2zM719 754h2v1h-2zM728 754h2v1h-2zM738 754h2v1h-2zM748 754h2v1h-2zM758 754h2v1h-2zM768 754h2v1h-2zM777 754h2v1h-2zM787 754h2v1h-2zM793 754h1v1h-1zM797 754h2v1h-2zM807 754h2v1h-2zM817 754h2v1h-2zM827 754h2v1h-2zM836 754h2v1h-2zM846 754h2v1h-2zM856 754h2v1h-2zM866 754h2v1h-2zM876 754h2v1h-2zM885 754h2v1h-2zM895 754h2v1h-2zM905 754h2v1h-2zM915 754h2v1h-2zM921 754h1v1h-1zM925 754h2v1h-2zM935 754h2v1h-2zM944 754h2v1h-2zM954 754h2v1h-2zM964 754h2v1h-2zM974 754h2v1h-2zM984 754h2v1h-2zM993 754h2v1h-2zM1003 754h2v1h-2zM1013 754h2v1h-2zM1023 754h2v1h-2zM1033 754h2v1h-2zM1043 754h2v1h-2zM1049 754h1v1h-1zM1052 754h2v1h-2zM1062 754h2v1h-2zM1072 754h2v1h-2zM1082 754h2v1h-2zM1092 754h2v1h-2zM1102 754h2v1h-2zM1111 754h3v1h-3zM1121 754h2v1h-2zM1131 754h2v1h-2zM1141 754h2v1h-2zM282 763h1v1h-1zM346 763h1v1h-1zM410 763h1v1h-1zM474 763h1v1h-1zM537 763h1v1h-1zM601 763h1v1h-1zM665 763h1v1h-1zM729 763h1v1h-1zM793 763h1v1h-1zM857 763h1v1h-1zM921 763h1v1h-1zM985 763h1v1h-1zM1049 763h1v1h-1zM1113 763h1v1h-1zM282 764h1v1h-1zM346 764h1v1h-1zM410 764h1v1h-1zM474 764h1v1h-1zM537 764h1v1h-1zM601 764h1v1h-1zM665 764h1v1h-1zM729 764h1v1h-1zM793 764h1v1h-1zM857 764h1v1h-1zM921 764h1v1h-1zM985 764h1v1h-1zM1049 764h1v1h-1zM1113 764h1v1h-1zM282 772h1v1h-1zM346 772h1v1h-1zM410 772h1v1h-1zM474 772h1v1h-1zM537 772h1v1h-1zM601 772h1v1h-1zM665 772h1v1h-1zM729 772h1v1h-1zM793 772h1v1h-1zM857 772h1v1h-1zM921 772h1v1h-1zM985 772h1v1h-1zM1049 772h1v1h-1zM1113 772h1v1h-1zM282 773h1v1h-1zM346 773h1v1h-1zM410 773h1v1h-1zM474 773h1v1h-1zM537 773h1v1h-1zM601 773h1v1h-1zM665 773h1v1h-1zM729 773h1v1h-1zM793 773h1v1h-1zM857 773h1v1h-1zM921 773h1v1h-1zM985 773h1v1h-1zM1049 773h1v1h-1zM1113 773h1v1h-1zM282 782h1v1h-1zM346 782h1v1h-1zM410 782h1v1h-1zM474 782h1v1h-1zM537 782h1v1h-1zM601 782h1v1h-1zM665 782h1v1h-1zM729 782h1v1h-1zM793 782h1v1h-1zM857 782h1v1h-1zM921 782h1v1h-1zM985 782h1v1h-1zM1049 782h1v1h-1zM1113 782h1v1h-1zM282 783h1v1h-1zM346 783h1v1h-1zM410 783h1v1h-1zM474 783h1v1h-1zM537 783h1v1h-1zM601 783h1v1h-1zM665 783h1v1h-1zM729 783h1v1h-1zM793 783h1v1h-1zM857 783h1v1h-1zM921 783h1v1h-1zM985 783h1v1h-1zM1049 783h1v1h-1zM1113 783h1v1h-1zM282 791h1v1h-1zM346 791h1v1h-1zM410 791h1v1h-1zM474 791h1v1h-1zM537 791h1v1h-1zM601 791h1v1h-1zM665 791h1v1h-1zM729 791h1v1h-1zM793 791h1v1h-1zM857 791h1v1h-1zM921 791h1v1h-1zM985 791h1v1h-1zM1049 791h1v1h-1zM1113 791h1v1h-1zM282 792h1v1h-1zM346 792h1v1h-1zM410 792h1v1h-1zM474 792h1v1h-1zM537 792h1v1h-1zM601 792h1v1h-1zM665 792h1v1h-1zM729 792h1v1h-1zM793 792h1v1h-1zM857 792h1v1h-1zM921 792h1v1h-1zM985 792h1v1h-1zM1049 792h1v1h-1zM1113 792h1v1h-1zM282 801h1v1h-1zM346 801h1v1h-1zM410 801h1v1h-1zM474 801h1v1h-1zM537 801h1v1h-1zM601 801h1v1h-1zM665 801h1v1h-1zM729 801h1v1h-1zM793 801h1v1h-1zM857 801h1v1h-1zM921 801h1v1h-1zM985 801h1v1h-1zM1049 801h1v1h-1zM1113 801h1v1h-1zM282 802h1v1h-1zM346 802h1v1h-1zM410 802h1v1h-1zM474 802h1v1h-1zM537 802h1v1h-1zM601 802h1v1h-1zM665 802h1v1h-1zM729 802h1v1h-1zM793 802h1v1h-1zM857 802h1v1h-1zM921 802h1v1h-1zM985 802h1v1h-1zM1049 802h1v1h-1zM1113 802h1v1h-1zM282 810h1v1h-1zM346 810h1v1h-1zM410 810h1v1h-1zM474 810h1v1h-1zM537 810h1v1h-1zM601 810h1v1h-1zM665 810h1v1h-1zM729 810h1v1h-1zM793 810h1v1h-1zM857 810h1v1h-1zM921 810h1v1h-1zM985 810h1v1h-1zM1049 810h1v1h-1zM1113 810h1v1h-1zM282 811h1v1h-1zM346 811h1v1h-1zM410 811h1v1h-1zM474 811h1v1h-1zM537 811h1v1h-1zM601 811h1v1h-1zM665 811h1v1h-1zM729 811h1v1h-1zM793 811h1v1h-1zM857 811h1v1h-1zM921 811h1v1h-1zM985 811h1v1h-1zM1049 811h1v1h-1zM1113 811h1v1h-1z" fill="#aaaaaa" shape-rendering="crispEdges"/>
<path d="M218 80h2v1h-2zM228 80h2v1h-2zM237 80h2v1h-2zM247 80h2v1h-2zM257 80h2v1h-2zM267 80h2v1h-2zM277 80h2v1h-2zM286 80h2v1h-2zM296 80h2v1h-2zM306 80h2v1h-2zM316 80h2v1h-2zM326 80h2v1h-2zM336 80h2v1h-2zM345 80h2v1h-2zM355 80h2v1h-2zM365 80h2v1h-2zM375 80h2v1h-2zM385 80h2v1h-2zM394 80h2v1h-2zM404 80h2v1h-2zM414 80h2v1h-2zM424 80h2v1h-2zM434 80h2v1h-2zM444 80h2v1h-2zM453 80h2v1h-2zM463 80h2v1h-2zM473 80h2v1h-2zM483 80h2v1h-2zM493 80h2v1h-2zM502 80h2v1h-2zM512 80h2v1h-2zM522 80h2v1h-2zM532 80h2v1h-2zM542 80h2v1h-2zM552 80h2v1h-2zM561 80h2v1h-2zM571 80h2v1h-2zM581 80h2v1h-2zM591 80h2v1h-2zM601 80h2v1h-2zM611 80h2v1h-2zM620 80h2v1h-2zM630 80h2v1h-2zM640 80h2v1h-2zM650 80h2v1h-2zM660 80h2v1h-2zM669 80h2v1h-2zM679 80h2v1h-2zM689 80h2v1h-2zM699 80h2v1h-2zM709 80h2v1h-2zM719 80h2v1h-2zM728 80h2v1h-2zM738 80h2v1h-2zM748 80h2v1h-2zM758 80h2v1h-2zM768 80h2v1h-2zM777 80h2v1h-2zM787 80h2v1h-2zM797 80h2v1h-2zM807 80h2v1h-2zM817 80h2v1h-2zM827 80h2v1h-2zM836 80h2v1h-2zM846 80h2v1h-2zM856 80h2v1h-2zM866 80h2v1h-2zM876 80h2v1h-2zM885 80h2v1h-2zM895 80h2v1h-2zM905 80h2v1h-2zM915 80h2v1h-2zM925 80h2v1h-2zM935 80h2v1h-2zM944 80h2v1h-2zM954 80h2v1h-2zM964 80h2v1h-2zM974 80h2v1h-2zM984 80h2v1h-2zM993 80h2v1h-2zM1003 80h2v1h-2zM1013 80h2v1h-2zM1023 80h2v1h-2zM1033 80h2v1h-2zM1043 80h2v1h-2zM1052 80h2v1h-2zM1062 80h2v1h-2zM1072 80h2v1h-2zM1082 80h2v1h-2zM1092 80h2v1h-2zM1102 80h2v1h-2zM1111 80h2v1h-2zM1121 80h2v1h-2zM1131 80h2v1h-2zM1141 80h2v1h-2zM218 86h1v1h-1zM218 87h1v1h-1zM218 95h1v1h-1zM218 96h1v1h-1zM218 105h1v1h-1zM218 106h1v1h-1zM218 114h1v1h-1zM218 115h1v1h-1zM218 124h1v1h-1zM218 125h1v1h-1zM218 134h1v1h-1zM218 135h1v1h-1zM218 143h1v1h-1zM218 144h1v1h-1zM218 147h1v1h-1zM218 153h1v1h-1zM218 154h1v1h-1zM218 162h1v1h-1zM218 163h1v1h-1zM218 172h1v1h-1zM218 173h1v1h-1zM218 181h1v1h-1zM218 182h1v1h-1zM218 191h1v1h-1zM218 192h1v1h-1zM218 200h1v1h-1zM218 201h1v1h-1zM218 210h1v1h-1zM218 211h1v1h-1zM218 215h1v1h-1zM218 219h1v1h-1zM218 220h1v1h-1zM218 229h1v1h-1zM218 230h1v1h-1zM218 238h1v1h-1zM218 239h1v1h-1zM218 248h1v1h-1zM218 249h1v1h-1zM218 257h1v1h-1zM218 258h1v1h-1zM218 267h1v1h-1zM218 268h1v1h-1zM218 276h1v1h-1zM218 277h1v1h-1zM218 282h1v1h-1zM218 286h1v1h-1zM218 287h1v1h-1zM218 296h1v1h-1zM218 297h1v1h-1zM218 305h1v1h-1zM218 306h1v1h-1zM218 315h1v1h-1zM218 316h1v1h-1zM218 324h1v1h-1zM218 325h1v1h-1zM218 334h1v1h-1zM218 335h1v1h-1zM218 343h1v1h-1zM218 344h1v1h-1zM218 349h1v1h-1zM218 353h1v1h-1zM218 354h1v1h-1zM218 362h1v1h-1zM218 363h1v1h-1zM218 372h1v1h-1zM218 373h1v1h-1zM218 381h1v1h-1zM218 382h1v1h-1zM218 391h1v1h-1zM218 392h1v1h-1zM218 400h1v1h-1zM218 401h1v1h-1zM218 410h1v1h-1zM218 411h1v1h-1zM218 417h1v1h-1zM218 419h1v1h-1zM218 420h1v1h-1zM218 429h1v1h-1zM218 430h1v1h-1zM218 439h1v1h-1zM218 440h1v1h-1zM218 448h1v1h-1zM218 449h1v1h-1zM218 458h1v1h-1zM218 459h1v1h-1zM218 467h1v1h-1zM218 468h1v1h-1zM218 477h1v1h-1zM218 478h1v1h-1zM218 484h1v1h-1zM218 486h1v1h-1zM218 487h1v1h-1zM218 496h1v1h-1zM218 497h1v1h-1zM218 505h1v1h-1zM218 506h1v1h-1zM218 515h1v1h-1zM218 516h1v1h-1zM218 524h1v1h-1zM218 525h1v1h-1zM218 534h1v1h-1zM218 535h1v1h-1zM218 543h1v1h-1zM218 544h1v1h-1zM218 552h1v1h-1zM218 553h1v1h-1zM218 554h1v1h-1zM218 562h1v1h-1zM218 563h1v1h-1zM218 572h1v1h-1zM218 573h1v1h-1zM218 581h1v1h-1zM218 582h1v1h-1zM218 591h1v1h-1zM218 592h1v1h-1zM218 601h1v1h-1zM218 602h1v1h-1zM218 610h1v1h-1zM218 611h1v1h-1zM218 619h1v1h-1zM218 620h1v1h-1zM218 621h1v1h-1zM218 629h1v1h-1zM218 630h1v1h-1zM218 639h1v1h-1zM218 640h1v1h-1zM218 648h1v1h-1zM218 649h1v1h-1zM218 658h1v1h-1zM218 659h1v1h-1zM218 667h1v1h-1zM218 668h1v1h-1zM218 677h1v1h-1zM218 678h1v1h-1zM218 686h1v1h-1zM218 687h1v1h-1zM218 696h1v1h-1zM218 697h1v1h-1zM218 705h1v1h-1zM218 706h1v1h-1zM218 715h1v1h-1zM218 716h1v1h-1zM218 724h1v1h-1zM218 725h1v1h-1zM218 734h1v1h-1zM218 735h1v1h-1zM218 743h1v1h-1zM218 744h1v1h-1zM218 753h1v1h-1zM218 754h1v1h-1zM218 763h1v1h-1zM218 764h1v1h-1zM218 772h1v1h-1zM218 773h1v1h-1zM218 782h1v1h-1zM218 783h1v1h-1zM218 791h1v1h-1zM218 792h1v1h-1zM218 801h1v1h-1zM218 802h1v1h-1zM218 810h1v1h-1zM218 811h1v1h-1zM218 820h1v1h-1zM282 820h1v1h-1zM346 820h1v1h-1zM410 820h1v1h-1zM474 820h1v1h-1zM537 820h1v1h-1zM601 820h1v1h-1zM665 820h1v1h-1zM729 820h1v1h-1zM793 820h1v1h-1zM857 820h1v1h-1zM921 820h1v1h-1zM985 820h1v1h-1zM1049 820h1v1h-1zM1113 820h1v1h-1zM218 821h2v1h-2zM228 821h2v1h-2zM237 821h2v1h-2zM247 821h2v1h-2zM257 821h2v1h-2zM267 821h2v1h-2zM277 821h2v1h-2zM282 821h1v1h-1zM286 821h2v1h-2zM296 821h2v1h-2zM306 821h2v1h-2zM316 821h2v1h-2zM326 821h2v1h-2zM336 821h2v1h-2zM345 821h2v1h-2zM355 821h2v1h-2zM365 821h2v1h-2zM375 821h2v1h-2zM385 821h2v1h-2zM394 821h2v1h-2zM404 821h2v1h-2zM410 821h1v1h-1zM414 821h2v1h-2zM424 821h2v1h-2zM434 821h2v1h-2zM444 821h2v1h-2zM453 821h2v1h-2zM463 821h2v1h-2zM473 821h2v1h-2zM483 821h2v1h-2zM493 821h2v1h-2zM502 821h2v1h-2zM512 821h2v1h-2zM522 821h2v1h-2zM532 821h2v1h-2zM537 821h1v1h-1zM542 821h2v1h-2zM552 821h2v1h-2zM561 821h2v1h-2zM571 821h2v1h-2zM581 821h2v1h-2zM591 821h2v1h-2zM601 821h2v1h-2zM611 821h2v1h-2zM620 821h2v1h-2zM630 821h2v1h-2zM640 821h2v1h-2zM650 821h2v1h-2zM660 821h2v1h-2zM665 821h1v1h-1zM669 821h2v1h-2zM679 821h2v1h-2zM689 821h2v1h-2zM699 821h2v1h-2zM709 821h2v1h-2zM719 821h2v1h-2zM728 821h2v1h-2zM738 821h2v1h-2zM748 821h2v1h-2zM758 821h2v1h-2zM768 821h2v1h-2zM777 821h2v1h-2zM787 821h2v1h-2zM793 821h1v1h-1zM797 821h2v1h-2zM807 821h2v1h-2zM817 821h2v1h-2zM827 821h2v1h-2zM836 821h2v1h-2zM846 821h2v1h-2zM856 821h2v1h-2zM866 821h2v1h-2zM876 821h2v1h-2zM885 821h2v1h-2zM895 821h2v1h-2zM905 821h2v1h-2zM915 821h2v1h-2zM921 821h1v1h-1zM925 821h2v1h-2zM935 821h2v1h-2zM944 821h2v1h-2zM954 821h2v1h-2zM964 821h2v1h-2zM974 821h2v1h-2zM984 821h2v1h-2zM993 821h2v1h-2zM1003 821h2v1h-2zM1013 821h2v1h-2zM1023 821h2v1h-2zM1033 821h2v1h-2zM1043 821h2v1h-2zM1049 821h1v1h-1zM1052 821h2v1h-2zM1062 821h2v1h-2zM1072 821h2v1h-2zM1082 821h2v1h-2zM1092 821h2v1h-2zM1102 821h2v1h-2zM1111 821h3v1h-3zM1121 821h2v1h-2zM1131 821h2v1h-2zM1141 821h2v1h-2z" fill="#f2f2f2" shape-rendering="crispEdges"/>
<path d="M218.5 9.5L218.5 30.5M217.5 9.5L217.5 30.5M226.5 9.5L226.5 30.5M225.5 9.5L225.5 30.5M226.5 9.5L233.5 30.5M225.5 9.5L232.5 30.5M240.5 9.5L233.5 30.5M239.5 9.5L232.5 30.5M240.5 9.5L240.5 30.5M239.5 9.5L239.5 30.5M249.5 9.5L249.5 30.5M248.5 9.5L248.5 30.5M249.5 9.5L261.5 30.5M248.5 9.5L260.5 30.5M261.5 9.5L261.5 30.5M260.5 9.5L260.5 30.5M270.5 21.5L286.5 21.5M270.5 20.5L286.5 20.5M293.5 9.5L298.5 30.5M292.5 9.5L297.5 30.5M302.5 9.5L298.5 30.5M301.5 9.5L297.5 30.5M302.5 9.5L307.5 30.5M301.5 9.5L306.5 30.5M311.5 9.5L307.5 30.5M310.5 9.5L306.5 30.5M317.5 9.5L317.5 30.5M316.5 9.5L316.5 30.5M317.5 9.5L325.5 9.5M317.5 8.5L325.5 8.5M325.5 9.5L328.5 10.5M325.5 8.5L328.5 9.5M328.5 10.5L329.5 11.5M328.5 9.5L329.5 10.5M329.5 11.5L330.5 13.5M328.5 11.5L329.5 13.5M330.5 13.5L330.5 15.5M329.5 13.5L329.5 15.5M330.5 15.5L329.5 17.5M329.5 15.5L328.5 17.5M329.5 17.5L328.5 18.5M329.5 16.5L328.5 17.5M328.5 18.5L325.5 19.5M328.5 17.5L325.5 18.5M325.5 19.5L317.5 19.5M325.5 18.5L317.5 18.5M324.5 19.5L330.5 30.5M323.5 19.5L329.5 30.5M336.5 9.5L336.5 30.5M335.5 9.5L335.5 30.5M336.5 9.5L348.5 9.5M336.5 8.5L348.5 8.5M336.5 19.5L343.5 19.5M336.5 18.5L343.5 18.5M388.5 9.5L388.5 30.5M387.5 9.5L387.5 30.5M388.5 30.5L399.5 30.5M388.5 29.5L399.5 29.5M405.5 9.5L405.5 30.5M404.5 9.5L404.5 30.5M413.5 16.5L413.5 26.5M412.5 16.5L412.5 26.5M413.5 26.5L414.5 29.5M412.5 26.5L413.5 29.5M414.5 29.5L416.5 30.5M414.5 28.5L416.5 29.5M416.5 30.5L418.5 30.5M416.5 29.5L418.5 29.5M418.5 30.5L420.5 29.5M418.5 29.5L420.5 28.5M420.5 29.5L423.5 26.5M420.5 28.5L423.5 25.5M423.5 16.5L423.5 30.5M422.5 16.5L422.5 30.5M429.5 16.5L435.5 30.5M428.5 16.5L434.5 30.5M440.5 16.5L435.5 30.5M439.5 16.5L434.5 30.5M445.5 9.5L446.5 10.5M445.5 8.5L446.5 9.5M446.5 10.5L447.5 9.5M446.5 9.5L447.5 8.5M447.5 9.5L446.5 8.5M447.5 8.5L446.5 7.5M446.5 8.5L445.5 9.5M446.5 7.5L445.5 8.5M446.5 16.5L446.5 30.5M445.5 16.5L445.5 30.5M464.5 16.5L464.5 30.5M463.5 16.5L463.5 30.5M464.5 19.5L462.5 17.5M464.5 18.5L462.5 16.5M462.5 17.5L460.5 16.5M462.5 16.5L460.5 15.5M460.5 16.5L458.5 16.5M460.5 15.5L458.5 15.5M458.5 16.5L456.5 17.5M458.5 15.5L456.5 16.5M456.5 17.5L454.5 19.5M456.5 16.5L454.5 18.5M454.5 19.5L453.5 22.5M453.5 19.5L452.5 22.5M453.5 22.5L453.5 24.5M452.5 22.5L452.5 24.5M453.5 24.5L454.5 27.5M452.5 24.5L453.5 27.5M454.5 27.5L456.5 29.5M454.5 26.5L456.5 28.5M456.5 29.5L458.5 30.5M456.5 28.5L458.5 29.5M458.5 30.5L460.5 30.5M458.5 29.5L460.5 29.5M460.5 30.5L462.5 29.5M460.5 29.5L462.5 28.5M462.5 29.5L464.5 27.5M462.5 28.5L464.5 26.5M494.5 9.5L486.5 30.5M493.5 9.5L485.5 30.5M494.5 9.5L501.5 30.5M493.5 9.5L500.5 30.5M489.5 23.5L498.5 23.5M489.5 22.5L498.5 22.5M516.5 19.5L514.5 17.5M516.5 18.5L514.5 16.5M514.5 17.5L512.5 16.5M514.5 16.5L512.5 15.5M512.5 16.5L510.5 16.5M512.5 15.5L510.5 15.5M510.5 16.5L508.5 17.5M510.5 15.5L508.5 16.5M508.5 17.5L506.5 19.5M508.5 16.5L506.5 18.5M506.5 19.5L505.5 22.5M505.5 19.5L504.5 22.5M505.5 22.5L505.5 24.5M504.5 22.5L504.5 24.5M505.5 24.5L506.5 27.5M504.5 24.5L505.5 27.5M506.5 27.5L508.5 29.5M506.5 26.5L508.5 28.5M508.5 29.5L510.5 30.5M508.5 28.5L510.5 29.5M510.5 30.5L512.5 30.5M510.5 29.5L512.5 29.5M512.5 30.5L514.5 29.5M512.5 29.5L514.5 28.5M514.5 29.5L516.5 27.5M514.5 28.5L516.5 26.5M524.5 16.5L524.5 26.5M523.5 16.5L523.5 26.5M524.5 26.5L525.5 29.5M523.5 26.5L524.5 29.5M525.5 29.5L527.5 30.5M525.5 28.5L527.5 29.5M527.5 30.5L529.5 30.5M527.5 29.5L529.5 29.5M529.5 30.5L531.5 29.5M529.5 29.5L531.5 28.5M531.5 29.5L534.5 26.5M531.5 28.5L534.5 25.5M534.5 16.5L534.5 30.5M533.5 16.5L533.5 30.5M542.5 16.5L542.5 30.5M541.5 16.5L541.5 30.5M542.5 20.5L545.5 17.5M542.5 19.5L545.5 16.5M545.5 17.5L547.5 16.5M545.5 16.5L547.5 15.5M547.5 16.5L549.5 16.5M547.5 15.5L549.5 15.5M549.5 16.5L551.5 17.5M549.5 15.5L551.5 16.5M551.5 17.5L552.5 20.5M550.5 17.5L551.5 20.5M552.5 20.5L552.5 30.5M551.5 20.5L551.5 30.5M552.5 20.5L555.5 17.5M552.5 19.5L555.5 16.5M555.5 17.5L557.5 16.5M555.5 16.5L557.5 15.5M557.5 16.5L559.5 16.5M557.5 15.5L559.5 15.5M559.5 16.5L561.5 17.5M559.5 15.5L561.5 16.5M561.5 17.5L562.5 20.5M560.5 17.5L561.5 20.5M562.5 20.5L562.5 30.5M561.5 20.5L561.5 30.5M571.5 16.5L571.5 26.5M570.5 16.5L570.5 26.5M571.5 26.5L572.5 29.5M570.5 26.5L571.5 29.5M572.5 29.5L574.5 30.5M572.5 28.5L574.5 29.5M574.5 30.5L576.5 30.5M574.5 29.5L576.5 29.5M576.5 30.5L578.5 29.5M576.5 29.5L578.5 28.5M578.5 29.5L581.5 26.5M578.5 28.5L581.5 25.5M581.5 16.5L581.5 30.5M580.5 16.5L580.5 30.5M588.5 9.5L588.5 30.5M587.5 9.5L587.5 30.5M607.5 16.5L607.5 30.5M606.5 16.5L606.5 30.5M607.5 19.5L605.5 17.5M607.5 18.5L605.5 16.5M605.5 17.5L603.5 16.5M605.5 16.5L603.5 15.5M603.5 16.5L601.5 16.5M603.5 15.5L601.5 15.5M601.5 16.5L599.5 17.5M601.5 15.5L599.5 16.5M599.5 17.5L597.5 19.5M599.5 16.5L597.5 18.5M597.5 19.5L596.5 22.5M596.5 19.5L595.5 22.5M596.5 22.5L596.5 24.5M595.5 22.5L595.5 24.5M596.5 24.5L597.5 27.5M595.5 24.5L596.5 27.5M597.5 27.5L599.5 29.5M597.5 26.5L599.5 28.5M599.5 29.5L601.5 30.5M599.5 28.5L601.5 29.5M601.5 30.5L603.5 30.5M601.5 29.5L603.5 29.5M603.5 30.5L605.5 29.5M603.5 29.5L605.5 28.5M605.5 29.5L607.5 27.5M605.5 28.5L607.5 26.5M625.5 9.5L625.5 30.5M624.5 9.5L624.5 30.5M625.5 19.5L623.5 17.5M625.5 18.5L623.5 16.5M623.5 17.5L621.5 16.5M623.5 16.5L621.5 15.5M621.5 16.5L619.5 16.5M621.5 15.5L619.5 15.5M619.5 16.5L617.5 17.5M619.5 15.5L617.5 16.5M617.5 17.5L615.5 19.5M617.5 16.5L615.5 18.5M615.5 19.5L614.5 22.5M614.5 19.5L613.5 22.5M614.5 22.5L614.5 24.5M613.5 22.5L613.5 24.5M614.5 24.5L615.5 27.5M613.5 24.5L614.5 27.5M615.5 27.5L617.5 29.5M615.5 26.5L617.5 28.5M617.5 29.5L619.5 30.5M617.5 28.5L619.5 29.5M619.5 30.5L621.5 30.5M619.5 29.5L621.5 29.5M621.5 30.5L623.5 29.5M621.5 29.5L623.5 28.5M623.5 29.5L625.5 27.5M623.5 28.5L625.5 26.5M643.5 16.5L643.5 30.5M642.5 16.5L642.5 30.5M643.5 19.5L641.5 17.5M643.5 18.5L641.5 16.5M641.5 17.5L639.5 16.5M641.5 16.5L639.5 15.5M639.5 16.5L637.5 16.5M639.5 15.5L637.5 15.5M637.5 16.5L635.5 17.5M637.5 15.5L635.5 16.5M635.5 17.5L633.5 19.5M635.5 16.5L633.5 18.5M633.5 19.5L632.5 22.5M632.5 19.5L631.5 22.5M632.5 22.5L632.5 24.5M631.5 22.5L631.5 24.5M632.5 24.5L633.5 27.5M631.5 24.5L632.5 27.5M633.5 27.5L635.5 29.5M633.5 26.5L635.5 28.5M635.5 29.5L637.5 30.5M635.5 28.5L637.5 29.5M637.5 30.5L639.5 30.5M637.5 29.5L639.5 29.5M639.5 30.5L641.5 29.5M639.5 29.5L641.5 28.5M641.5 29.5L643.5 27.5M641.5 28.5L643.5 26.5M657.5 5.5L655.5 7.5M657.5 4.5L655.5 6.5M655.5 7.5L653.5 10.5M654.5 7.5L652.5 10.5M653.5 10.5L651.5 14.5M652.5 10.5L650.5 14.5M651.5 14.5L650.5 19.5M650.5 14.5L649.5 19.5M650.5 19.5L650.5 23.5M649.5 19.5L649.5 23.5M650.5 23.5L651.5 28.5M649.5 23.5L650.5 28.5M651.5 28.5L653.5 32.5M650.5 28.5L652.5 32.5M653.5 32.5L655.5 35.5M652.5 32.5L654.5 35.5M655.5 35.5L657.5 37.5M655.5 34.5L657.5 36.5M680.5 9.5L680.5 30.5M679.5 9.5L679.5 30.5M680.5 30.5L691.5 30.5M680.5 29.5L691.5 29.5M696.5 9.5L697.5 10.5M696.5 8.5L697.5 9.5M697.5 10.5L698.5 9.5M697.5 9.5L698.5 8.5M698.5 9.5L697.5 8.5M698.5 8.5L697.5 7.5M697.5 8.5L696.5 9.5M697.5 7.5L696.5 8.5M697.5 16.5L697.5 30.5M696.5 16.5L696.5 30.5M704.5 9.5L704.5 30.5M703.5 9.5L703.5 30.5M704.5 19.5L706.5 17.5M704.5 18.5L706.5 16.5M706.5 17.5L708.5 16.5M706.5 16.5L708.5 15.5M708.5 16.5L710.5 16.5M708.5 15.5L710.5 15.5M710.5 16.5L712.5 17.5M710.5 15.5L712.5 16.5M712.5 17.5L714.5 19.5M712.5 16.5L714.5 18.5M714.5 19.5L715.5 22.5M713.5 19.5L714.5 22.5M715.5 22.5L715.5 24.5M714.5 22.5L714.5 24.5M715.5 24.5L714.5 27.5M714.5 24.5L713.5 27.5M714.5 27.5L712.5 29.5M714.5 26.5L712.5 28.5M712.5 29.5L710.5 30.5M712.5 28.5L710.5 29.5M710.5 30.5L708.5 30.5M710.5 29.5L708.5 29.5M708.5 30.5L706.5 29.5M708.5 29.5L706.5 28.5M706.5 29.5L704.5 27.5M706.5 28.5L704.5 26.5M722.5 22.5L733.5 22.5M722.5 21.5L733.5 21.5M733.5 22.5L733.5 20.5M732.5 22.5L732.5 20.5M733.5 20.5L732.5 18.5M732.5 20.5L731.5 18.5M732.5 18.5L731.5 17.5M732.5 17.5L731.5 16.5M731.5 17.5L729.5 16.5M731.5 16.5L729.5 15.5M729.5 16.5L727.5 16.5M729.5 15.5L727.5 15.5M727.5 16.5L725.5 17.5M727.5 15.5L725.5 16.5M725.5 17.5L723.5 19.5M725.5 16.5L723.5 18.5M723.5 19.5L722.5 22.5M722.5 19.5L721.5 22.5M722.5 22.5L722.5 24.5M721.5 22.5L721.5 24.5M722.5 24.5L723.5 27.5M721.5 24.5L722.5 27.5M723.5 27.5L725.5 29.5M723.5 26.5L725.5 28.5M725.5 29.5L727.5 30.5M725.5 28.5L727.5 29.5M727.5 30.5L729.5 30.5M727.5 29.5L729.5 29.5M729.5 30.5L731.5 29.5M729.5 29.5L731.5 28.5M731.5 29.5L733.5 27.5M731.5 28.5L733.5 26.5M740.5 16.5L740.5 30.5M739.5 16.5L739.5 30.5M740.5 22.5L741.5 19.5M739.5 22.5L740.5 19.5M741.5 19.5L743.5 17.5M741.5 18.5L743.5 16.5M743.5 17.5L744.5 16.5M743.5 16.5L744.5 15.5M744.5 16.5L747.5 16.5M744.5 15.5L747.5 15.5M751.5 9.5L752.5 10.5M751.5 8.5L752.5 9.5M752.5 10.5L753.5 9.5M752.5 9.5L753.5 8.5M753.5 9.5L752.5 8.5M753.5 8.5L752.5 7.5M752.5 8.5L751.5 9.5M752.5 7.5L751.5 8.5M752.5 16.5L752.5 30.5M751.5 16.5L751.5 30.5M771.5 16.5L771.5 30.5M770.5 16.5L770.5 30.5M771.5 19.5L769.5 17.5M771.5 18.5L769.5 16.5M769.5 17.5L767.5 16.5M769.5 16.5L767.5 15.5M767.5 16.5L765.5 16.5M767.5 15.5L765.5 15.5M765.5 16.5L763.5 17.5M765.5 15.5L763.5 16.5M763.5 17.5L761.5 19.5M763.5 16.5L761.5 18.5M761.5 19.5L760.5 22.5M760.5 19.5L759.5 22.5M760.5 22.5L760.5 24.5M759.5 22.5L759.5 24.5M760.5 24.5L761.5 27.5M759.5 24.5L760.5 27.5M761.5 27.5L763.5 29.5M761.5 26.5L763.5 28.5M763.5 29.5L765.5 30.5M763.5 28.5L765.5 29.5M765.5 30.5L767.5 30.5M765.5 29.5L767.5 29.5M767.5 30.5L769.5 29.5M767.5 29.5L769.5 28.5M769.5 29.5L771.5 27.5M769.5 28.5L771.5 26.5M780.5 29.5L779.5 30.5M780.5 28.5L779.5 29.5M779.5 30.5L778.5 29.5M779.5 29.5L778.5 28.5M778.5 29.5L779.5 28.5M778.5 28.5L779.5 27.5M779.5 28.5L780.5 29.5M779.5 27.5L780.5 28.5M780.5 29.5L780.5 31.5M779.5 29.5L779.5 31.5M780.5 31.5L779.5 33.5M779.5 31.5L778.5 33.5M779.5 33.5L778.5 34.5M779.5 32.5L778.5 33.5M807.5 13.5L809.5 12.5M807.5 12.5L809.5 11.5M809.5 12.5L812.5 9.5M809.5 11.5L812.5 8.5M812.5 9.5L812.5 30.5M811.5 9.5L811.5 30.5M829.5 9.5L826.5 10.5M829.5 8.5L826.5 9.5M826.5 10.5L824.5 13.5M825.5 10.5L823.5 13.5M824.5 13.5L823.5 18.5M823.5 13.5L822.5 18.5M823.5 18.5L823.5 21.5M822.5 18.5L822.5 21.5M823.5 21.5L824.5 26.5M822.5 21.5L823.5 26.5M824.5 26.5L826.5 29.5M823.5 26.5L825.5 29.5M826.5 29.5L829.5 30.5M826.5 28.5L829.5 29.5M829.5 30.5L830.5 30.5M829.5 29.5L830.5 29.5M830.5 30.5L833.5 29.5M830.5 29.5L833.5 28.5M833.5 29.5L835.5 26.5M832.5 29.5L834.5 26.5M835.5 26.5L836.5 21.5M834.5 26.5L835.5 21.5M836.5 21.5L836.5 18.5M835.5 21.5L835.5 18.5M836.5 18.5L835.5 13.5M835.5 18.5L834.5 13.5M835.5 13.5L833.5 10.5M834.5 13.5L832.5 10.5M833.5 10.5L830.5 9.5M833.5 9.5L830.5 8.5M830.5 9.5L829.5 9.5M830.5 8.5L829.5 8.5M844.5 28.5L843.5 29.5M844.5 27.5L843.5 28.5M843.5 29.5L844.5 30.5M843.5 28.5L844.5 29.5M844.5 30.5L845.5 29.5M844.5 29.5L845.5 28.5M845.5 29.5L844.5 28.5M845.5 28.5L844.5 27.5M854.5 9.5L864.5 9.5M854.5 8.5L864.5 8.5M864.5 9.5L859.5 17.5M863.5 9.5L858.5 17.5M859.5 17.5L861.5 17.5M859.5 16.5L861.5 16.5M861.5 17.5L863.5 18.5M861.5 16.5L863.5 17.5M863.5 18.5L864.5 19.5M863.5 17.5L864.5 18.5M864.5 19.5L865.5 22.5M863.5 19.5L864.5 22.5M865.5 22.5L865.5 24.5M864.5 22.5L864.5 24.5M865.5 24.5L864.5 27.5M864.5 24.5L863.5 27.5M864.5 27.5L862.5 29.5M864.5 26.5L862.5 28.5M862.5 29.5L859.5 30.5M862.5 28.5L859.5 29.5M859.5 30.5L857.5 30.5M859.5 29.5L857.5 29.5M857.5 30.5L854.5 29.5M857.5 29.5L854.5 28.5M854.5 29.5L853.5 28.5M854.5 28.5L853.5 27.5M853.5 28.5L852.5 26.5M852.5 28.5L851.5 26.5M882.5 9.5L873.5 9.5M882.5 8.5L873.5 8.5M873.5 9.5L872.5 18.5M872.5 9.5L871.5 18.5M872.5 18.5L873.5 17.5M872.5 17.5L873.5 16.5M873.5 17.5L876.5 16.5M873.5 16.5L876.5 15.5M876.5 16.5L878.5 16.5M876.5 15.5L878.5 15.5M878.5 16.5L881.5 17.5M878.5 15.5L881.5 16.5M881.5 17.5L883.5 19.5M881.5 16.5L883.5 18.5M883.5 19.5L884.5 22.5M882.5 19.5L883.5 22.5M884.5 22.5L884.5 24.5M883.5 22.5L883.5 24.5M884.5 24.5L883.5 27.5M883.5 24.5L882.5 27.5M883.5 27.5L881.5 29.5M883.5 26.5L881.5 28.5M881.5 29.5L878.5 30.5M881.5 28.5L878.5 29.5M878.5 30.5L876.5 30.5M878.5 29.5L876.5 29.5M876.5 30.5L873.5 29.5M876.5 29.5L873.5 28.5M873.5 29.5L872.5 28.5M873.5 28.5L872.5 27.5M872.5 28.5L871.5 26.5M871.5 28.5L870.5 26.5M926.5 9.5L926.5 30.5M925.5 9.5L925.5 30.5M926.5 9.5L938.5 30.5M925.5 9.5L937.5 30.5M938.5 9.5L938.5 30.5M937.5 9.5L937.5 30.5M967.5 9.5L965.5 10.5M967.5 8.5L965.5 9.5M965.5 10.5L964.5 12.5M964.5 10.5L963.5 12.5M964.5 12.5L964.5 14.5M963.5 12.5L963.5 14.5M964.5 14.5L965.5 16.5M963.5 14.5L964.5 16.5M965.5 16.5L966.5 17.5M965.5 15.5L966.5 16.5M966.5 17.5L970.5 18.5M966.5 16.5L970.5 17.5M970.5 18.5L972.5 19.5M970.5 17.5L972.5 18.5M972.5 19.5L974.5 21.5M972.5 18.5L974.5 20.5M974.5 21.5L975.5 23.5M973.5 21.5L974.5 23.5M975.5 23.5L975.5 26.5M974.5 23.5L974.5 26.5M975.5 26.5L974.5 28.5M974.5 26.5L973.5 28.5M974.5 28.5L973.5 29.5M974.5 27.5L973.5 28.5M973.5 29.5L971.5 30.5M973.5 28.5L971.5 29.5M971.5 30.5L967.5 30.5M971.5 29.5L967.5 29.5M967.5 30.5L965.5 29.5M967.5 29.5L965.5 28.5M965.5 29.5L964.5 28.5M965.5 28.5L964.5 27.5M964.5 28.5L963.5 26.5M963.5 28.5L962.5 26.5M963.5 26.5L963.5 23.5M962.5 26.5L962.5 23.5M963.5 23.5L964.5 21.5M962.5 23.5L963.5 21.5M964.5 21.5L966.5 19.5M964.5 20.5L966.5 18.5M966.5 19.5L968.5 18.5M966.5 18.5L968.5 17.5M968.5 18.5L972.5 17.5M968.5 17.5L972.5 16.5M972.5 17.5L973.5 16.5M972.5 16.5L973.5 15.5M973.5 16.5L974.5 14.5M972.5 16.5L973.5 14.5M974.5 14.5L974.5 12.5M973.5 14.5L973.5 12.5M974.5 12.5L973.5 10.5M973.5 12.5L972.5 10.5M973.5 10.5L971.5 9.5M973.5 9.5L971.5 8.5M971.5 9.5L967.5 9.5M971.5 8.5L967.5 8.5M993.5 9.5L984.5 9.5M993.5 8.5L984.5 8.5M984.5 9.5L983.5 18.5M983.5 9.5L982.5 18.5M983.5 18.5L984.5 17.5M983.5 17.5L984.5 16.5M984.5 17.5L987.5 16.5M984.5 16.5L987.5 15.5M987.5 16.5L989.5 16.5M987.5 15.5L989.5 15.5M989.5 16.5L992.5 17.5M989.5 15.5L992.5 16.5M992.5 17.5L994.5 19.5M992.5 16.5L994.5 18.5M994.5 19.5L995.5 22.5M993.5 19.5L994.5 22.5M995.5 22.5L995.5 24.5M994.5 22.5L994.5 24.5M995.5 24.5L994.5 27.5M994.5 24.5L993.5 27.5M994.5 27.5L992.5 29.5M994.5 26.5L992.5 28.5M992.5 29.5L989.5 30.5M992.5 28.5L989.5 29.5M989.5 30.5L987.5 30.5M989.5 29.5L987.5 29.5M987.5 30.5L984.5 29.5M987.5 29.5L984.5 28.5M984.5 29.5L983.5 28.5M984.5 28.5L983.5 27.5M983.5 28.5L982.5 26.5M982.5 28.5L981.5 26.5M1002.5 28.5L1001.5 29.5M1002.5 27.5L1001.5 28.5M1001.5 29.5L1002.5 30.5M1001.5 28.5L1002.5 29.5M1002.5 30.5L1003.5 29.5M1002.5 29.5L1003.5 28.5M1003.5 29.5L1002.5 28.5M1003.5 28.5L1002.5 27.5M1012.5 9.5L1022.5 9.5M1012.5 8.5L1022.5 8.5M1022.5 9.5L1017.5 17.5M1021.5 9.5L1016.5 17.5M1017.5 17.5L1019.5 17.5M1017.5 16.5L1019.5 16.5M1019.5 17.5L1021.5 18.5M1019.5 16.5L1021.5 17.5M1021.5 18.5L1022.5 19.5M1021.5 17.5L1022.5 18.5M1022.5 19.5L1023.5 22.5M1021.5 19.5L1022.5 22.5M1023.5 22.5L1023.5 24.5M1022.5 22.5L1022.5 24.5M1023.5 24.5L1022.5 27.5M1022.5 24.5L1021.5 27.5M1022.5 27.5L1020.5 29.5M1022.5 26.5L1020.5 28.5M1020.5 29.5L1017.5 30.5M1020.5 28.5L1017.5 29.5M1017.5 30.5L1015.5 30.5M1017.5 29.5L1015.5 29.5M1015.5 30.5L1012.5 29.5M1015.5 29.5L1012.5 28.5M1012.5 29.5L1011.5 28.5M1012.5 28.5L1011.5 27.5M1011.5 28.5L1010.5 26.5M1010.5 28.5L1009.5 26.5M1032.5 9.5L1041.5 9.5M1032.5 8.5L1041.5 8.5M1041.5 9.5L1036.5 17.5M1040.5 9.5L1035.5 17.5M1036.5 17.5L1039.5 17.5M1036.5 16.5L1039.5 16.5M1039.5 17.5L1040.5 18.5M1039.5 16.5L1040.5 17.5M1040.5 18.5L1041.5 19.5M1040.5 17.5L1041.5 18.5M1041.5 19.5L1042.5 22.5M1040.5 19.5L1041.5 22.5M1042.5 22.5L1042.5 24.5M1041.5 22.5L1041.5 24.5M1042.5 24.5L1041.5 27.5M1041.5 24.5L1040.5 27.5M1041.5 27.5L1039.5 29.5M1041.5 26.5L1039.5 28.5M1039.5 29.5L1037.5 30.5M1039.5 28.5L1037.5 29.5M1037.5 30.5L1034.5 30.5M1037.5 29.5L1034.5 29.5M1034.5 30.5L1032.5 29.5M1034.5 29.5L1032.5 28.5M1032.5 29.5L1031.5 28.5M1032.5 28.5L1031.5 27.5M1031.5 28.5L1030.5 26.5M1030.5 28.5L1029.5 26.5M1089.5 9.5L1087.5 10.5M1089.5 8.5L1087.5 9.5M1087.5 10.5L1085.5 12.5M1087.5 9.5L1085.5 11.5M1085.5 12.5L1084.5 14.5M1084.5 12.5L1083.5 14.5M1084.5 14.5L1083.5 17.5M1083.5 14.5L1082.5 17.5M1083.5 17.5L1083.5 22.5M1082.5 17.5L1082.5 22.5M1083.5 22.5L1084.5 25.5M1082.5 22.5L1083.5 25.5M1084.5 25.5L1085.5 27.5M1083.5 25.5L1084.5 27.5M1085.5 27.5L1087.5 29.5M1085.5 26.5L1087.5 28.5M1087.5 29.5L1089.5 30.5M1087.5 28.5L1089.5 29.5M1089.5 30.5L1092.5 30.5M1089.5 29.5L1092.5 29.5M1092.5 30.5L1094.5 29.5M1092.5 29.5L1094.5 28.5M1094.5 29.5L1096.5 27.5M1094.5 28.5L1096.5 26.5M1096.5 27.5L1097.5 25.5M1095.5 27.5L1096.5 25.5M1097.5 25.5L1098.5 22.5M1096.5 25.5L1097.5 22.5M1098.5 22.5L1098.5 17.5M1097.5 22.5L1097.5 17.5M1098.5 17.5L1097.5 14.5M1097.5 17.5L1096.5 14.5M1097.5 14.5L1096.5 12.5M1096.5 14.5L1095.5 12.5M1096.5 12.5L1094.5 10.5M1096.5 11.5L1094.5 9.5M1094.5 10.5L1092.5 9.5M1094.5 9.5L1092.5 8.5M1092.5 9.5L1089.5 9.5M1092.5 8.5L1089.5 8.5M1104.5 5.5L1106.5 7.5M1104.5 4.5L1106.5 6.5M1106.5 7.5L1107.5 10.5M1105.5 7.5L1106.5 10.5M1107.5 10.5L1109.5 14.5M1106.5 10.5L1108.5 14.5M1109.5 14.5L1110.5 19.5M1108.5 14.5L1109.5 19.5M1110.5 19.5L1110.5 23.5M1109.5 19.5L1109.5 23.5M1110.5 23.5L1109.5 28.5M1109.5 23.5L1108.5 28.5M1109.5 28.5L1107.5 32.5M1108.5 28.5L1106.5 32.5M1107.5 32.5L1106.5 35.5M1106.5 32.5L1105.5 35.5M1106.5 35.5L1104.5 37.5M1106.5 34.5L1104.5 36.5" fill="none" stroke="#000" stroke-width="1" stroke-linecap="square" shape-rendering="crispEdges"/>
<path d="M462.5 40.5L462.5 42.5M461.5 40.5L461.5 42.5M462.5 42.5L463.5 40.5M461.5 42.5L462.5 40.5M463.5 40.5L462.5 39.5M463.5 39.5L462.5 38.5M462.5 39.5L462.5 40.5M461.5 39.5L461.5 40.5M462.5 48.5L462.5 65.5M461.5 48.5L461.5 65.5M462.5 65.5L462.5 68.5M461.5 65.5L461.5 68.5M462.5 68.5L460.5 69.5M462.5 67.5L460.5 68.5M460.5 69.5L459.5 69.5M460.5 68.5L459.5 68.5M472.5 48.5L472.5 58.5M471.5 48.5L471.5 58.5M472.5 58.5L473.5 61.5M471.5 58.5L472.5 61.5M473.5 61.5L475.5 62.5M473.5 60.5L475.5 61.5M475.5 62.5L477.5 62.5M475.5 61.5L477.5 61.5M477.5 62.5L479.5 61.5M477.5 61.5L479.5 60.5M479.5 61.5L482.5 58.5M479.5 60.5L482.5 57.5M482.5 48.5L482.5 62.5M481.5 48.5L481.5 62.5M490.5 48.5L490.5 62.5M489.5 48.5L489.5 62.5M490.5 52.5L493.5 49.5M490.5 51.5L493.5 48.5M493.5 49.5L495.5 48.5M493.5 48.5L495.5 47.5M495.5 48.5L497.5 48.5M495.5 47.5L497.5 47.5M497.5 48.5L499.5 49.5M497.5 47.5L499.5 48.5M499.5 49.5L500.5 52.5M498.5 49.5L499.5 52.5M500.5 52.5L500.5 62.5M499.5 52.5L499.5 62.5M506.5 40.5L507.5 42.5M505.5 40.5L506.5 42.5M507.5 42.5L508.5 40.5M506.5 42.5L507.5 40.5M508.5 40.5L507.5 39.5M508.5 39.5L507.5 38.5M507.5 39.5L506.5 40.5M507.5 38.5L506.5 39.5M507.5 48.5L507.5 62.5M506.5 48.5L506.5 62.5M519.5 48.5L518.5 49.5M519.5 47.5L518.5 48.5M518.5 49.5L516.5 51.5M518.5 48.5L516.5 50.5M516.5 51.5L515.5 54.5M515.5 51.5L514.5 54.5M515.5 54.5L515.5 56.5M514.5 54.5L514.5 56.5M515.5 56.5L516.5 59.5M514.5 56.5L515.5 59.5M516.5 59.5L518.5 61.5M516.5 58.5L518.5 60.5M518.5 61.5L519.5 62.5M518.5 60.5L519.5 61.5M519.5 62.5L522.5 62.5M519.5 61.5L522.5 61.5M522.5 62.5L523.5 61.5M522.5 61.5L523.5 60.5M523.5 61.5L525.5 59.5M523.5 60.5L525.5 58.5M525.5 59.5L526.5 56.5M524.5 59.5L525.5 56.5M526.5 56.5L526.5 54.5M525.5 56.5L525.5 54.5M526.5 54.5L525.5 51.5M525.5 54.5L524.5 51.5M525.5 51.5L523.5 49.5M525.5 50.5L523.5 48.5M523.5 49.5L522.5 48.5M523.5 48.5L522.5 47.5M522.5 48.5L519.5 48.5M522.5 47.5L519.5 47.5M533.5 53.5L550.5 53.5M533.5 52.5L550.5 52.5M558.5 46.5L558.5 45.5M557.5 46.5L557.5 45.5M558.5 45.5L559.5 43.5M557.5 45.5L558.5 43.5M559.5 43.5L560.5 42.5M559.5 42.5L560.5 41.5M560.5 42.5L562.5 40.5M560.5 41.5L562.5 39.5M562.5 40.5L565.5 40.5M562.5 39.5L565.5 39.5M565.5 40.5L567.5 42.5M565.5 39.5L567.5 41.5M567.5 42.5L568.5 43.5M567.5 41.5L568.5 42.5M568.5 43.5L569.5 45.5M567.5 43.5L568.5 45.5M569.5 45.5L569.5 47.5M568.5 45.5L568.5 47.5M569.5 47.5L568.5 49.5M568.5 47.5L567.5 49.5M568.5 49.5L566.5 52.5M567.5 49.5L565.5 52.5M566.5 52.5L557.5 62.5M565.5 52.5L556.5 62.5M557.5 62.5L570.5 62.5M557.5 61.5L570.5 61.5M582.5 40.5L579.5 42.5M582.5 39.5L579.5 41.5M579.5 42.5L577.5 45.5M578.5 42.5L576.5 45.5M577.5 45.5L576.5 50.5M576.5 45.5L575.5 50.5M576.5 50.5L576.5 53.5M575.5 50.5L575.5 53.5M576.5 53.5L577.5 58.5M575.5 53.5L576.5 58.5M577.5 58.5L579.5 61.5M576.5 58.5L578.5 61.5M579.5 61.5L582.5 62.5M579.5 60.5L582.5 61.5M582.5 62.5L583.5 62.5M582.5 61.5L583.5 61.5M583.5 62.5L586.5 61.5M583.5 61.5L586.5 60.5M586.5 61.5L588.5 58.5M585.5 61.5L587.5 58.5M588.5 58.5L589.5 53.5M587.5 58.5L588.5 53.5M589.5 53.5L589.5 50.5M588.5 53.5L588.5 50.5M589.5 50.5L588.5 45.5M588.5 50.5L587.5 45.5M588.5 45.5L586.5 42.5M587.5 45.5L585.5 42.5M586.5 42.5L583.5 40.5M586.5 41.5L583.5 39.5M583.5 40.5L582.5 40.5M583.5 39.5L582.5 39.5M596.5 46.5L596.5 45.5M595.5 46.5L595.5 45.5M596.5 45.5L597.5 43.5M595.5 45.5L596.5 43.5M597.5 43.5L598.5 42.5M597.5 42.5L598.5 41.5M598.5 42.5L600.5 40.5M598.5 41.5L600.5 39.5M600.5 40.5L603.5 40.5M600.5 39.5L603.5 39.5M603.5 40.5L605.5 42.5M603.5 39.5L605.5 41.5M605.5 42.5L606.5 43.5M605.5 41.5L606.5 42.5M606.5 43.5L607.5 45.5M605.5 43.5L606.5 45.5M607.5 45.5L607.5 47.5M606.5 45.5L606.5 47.5M607.5 47.5L606.5 49.5M606.5 47.5L605.5 49.5M606.5 49.5L604.5 52.5M605.5 49.5L603.5 52.5M604.5 52.5L595.5 62.5M603.5 52.5L594.5 62.5M595.5 62.5L608.5 62.5M595.5 61.5L608.5 61.5M623.5 40.5L614.5 55.5M622.5 40.5L613.5 55.5M614.5 55.5L628.5 55.5M614.5 54.5L628.5 54.5M623.5 40.5L623.5 62.5M622.5 40.5L622.5 62.5M652.5 40.5L652.5 62.5M651.5 40.5L651.5 62.5M652.5 40.5L659.5 62.5M651.5 40.5L658.5 62.5M666.5 40.5L659.5 62.5M665.5 40.5L658.5 62.5M666.5 40.5L666.5 62.5M665.5 40.5L665.5 62.5M673.5 54.5L684.5 54.5M673.5 53.5L684.5 53.5M684.5 54.5L684.5 52.5M683.5 54.5L683.5 52.5M684.5 52.5L683.5 50.5M683.5 52.5L682.5 50.5M683.5 50.5L682.5 49.5M683.5 49.5L682.5 48.5M682.5 49.5L680.5 48.5M682.5 48.5L680.5 47.5M680.5 48.5L678.5 48.5M680.5 47.5L678.5 47.5M678.5 48.5L676.5 49.5M678.5 47.5L676.5 48.5M676.5 49.5L674.5 51.5M676.5 48.5L674.5 50.5M674.5 51.5L673.5 54.5M673.5 51.5L672.5 54.5M673.5 54.5L673.5 56.5M672.5 54.5L672.5 56.5M673.5 56.5L674.5 59.5M672.5 56.5L673.5 59.5M674.5 59.5L676.5 61.5M674.5 58.5L676.5 60.5M676.5 61.5L678.5 62.5M676.5 60.5L678.5 61.5M678.5 62.5L680.5 62.5M678.5 61.5L680.5 61.5M680.5 62.5L682.5 61.5M680.5 61.5L682.5 60.5M682.5 61.5L684.5 59.5M682.5 60.5L684.5 58.5M701.5 51.5L700.5 49.5M700.5 51.5L699.5 49.5M700.5 49.5L697.5 48.5M700.5 48.5L697.5 47.5M697.5 48.5L695.5 48.5M697.5 47.5L695.5 47.5M695.5 48.5L692.5 49.5M695.5 47.5L692.5 48.5M692.5 49.5L691.5 51.5M691.5 49.5L690.5 51.5M691.5 51.5L692.5 53.5M690.5 51.5L691.5 53.5M692.5 53.5L694.5 54.5M692.5 52.5L694.5 53.5M694.5 54.5L698.5 55.5M694.5 53.5L698.5 54.5M698.5 55.5L700.5 56.5M698.5 54.5L700.5 55.5M700.5 56.5L701.5 58.5M699.5 56.5L700.5 58.5M701.5 58.5L701.5 59.5M700.5 58.5L700.5 59.5M701.5 59.5L700.5 61.5M700.5 59.5L699.5 61.5M700.5 61.5L697.5 62.5M700.5 60.5L697.5 61.5M697.5 62.5L695.5 62.5M697.5 61.5L695.5 61.5M695.5 62.5L692.5 61.5M695.5 61.5L692.5 60.5M692.5 61.5L691.5 59.5M691.5 61.5L690.5 59.5M738.5 46.5L737.5 44.5M737.5 46.5L736.5 44.5M737.5 44.5L735.5 42.5M737.5 43.5L735.5 41.5M735.5 42.5L734.5 40.5M734.5 42.5L733.5 40.5M734.5 40.5L730.5 40.5M734.5 39.5L730.5 39.5M730.5 40.5L728.5 42.5M730.5 39.5L728.5 41.5M728.5 42.5L727.5 44.5M727.5 42.5L726.5 44.5M727.5 44.5L726.5 46.5M726.5 44.5L725.5 46.5M726.5 46.5L725.5 49.5M725.5 46.5L724.5 49.5M725.5 49.5L725.5 54.5M724.5 49.5L724.5 54.5M725.5 54.5L726.5 57.5M724.5 54.5L725.5 57.5M726.5 57.5L727.5 59.5M725.5 57.5L726.5 59.5M727.5 59.5L728.5 61.5M726.5 59.5L727.5 61.5M728.5 61.5L730.5 62.5M728.5 60.5L730.5 61.5M730.5 62.5L734.5 62.5M730.5 61.5L734.5 61.5M734.5 62.5L735.5 61.5M734.5 61.5L735.5 60.5M735.5 61.5L737.5 59.5M735.5 60.5L737.5 58.5M737.5 59.5L738.5 57.5M736.5 59.5L737.5 57.5M746.5 60.5L745.5 61.5M746.5 59.5L745.5 60.5M745.5 61.5L746.5 62.5M745.5 60.5L746.5 61.5M746.5 62.5L747.5 61.5M746.5 61.5L747.5 60.5M747.5 61.5L746.5 60.5M747.5 60.5L746.5 59.5M754.5 40.5L754.5 62.5M753.5 40.5L753.5 62.5M763.5 60.5L762.5 61.5M763.5 59.5L762.5 60.5M762.5 61.5L763.5 62.5M762.5 60.5L763.5 61.5M763.5 62.5L764.5 61.5M763.5 61.5L764.5 60.5M764.5 61.5L763.5 60.5M764.5 60.5L763.5 59.5M773.5 48.5L772.5 49.5M773.5 47.5L772.5 48.5M772.5 49.5L773.5 50.5M772.5 48.5L773.5 49.5M773.5 50.5L773.5 49.5M772.5 50.5L772.5 49.5M773.5 49.5L773.5 48.5M772.5 49.5L772.5 48.5M773.5 60.5L772.5 61.5M773.5 59.5L772.5 60.5M772.5 61.5L773.5 62.5M772.5 60.5L773.5 61.5M773.5 62.5L773.5 61.5M772.5 62.5L772.5 61.5M773.5 61.5L773.5 60.5M772.5 61.5L772.5 60.5M799.5 48.5L799.5 62.5M798.5 48.5L798.5 62.5M799.5 52.5L802.5 49.5M799.5 51.5L802.5 48.5M802.5 49.5L804.5 48.5M802.5 48.5L804.5 47.5M804.5 48.5L806.5 48.5M804.5 47.5L806.5 47.5M806.5 48.5L808.5 49.5M806.5 47.5L808.5 48.5M808.5 49.5L809.5 52.5M807.5 49.5L808.5 52.5M809.5 52.5L809.5 62.5M808.5 52.5L808.5 62.5M809.5 52.5L812.5 49.5M809.5 51.5L812.5 48.5M812.5 49.5L814.5 48.5M812.5 48.5L814.5 47.5M814.5 48.5L816.5 48.5M814.5 47.5L816.5 47.5M816.5 48.5L818.5 49.5M816.5 47.5L818.5 48.5M818.5 49.5L819.5 52.5M817.5 49.5L818.5 52.5M819.5 52.5L819.5 62.5M818.5 52.5L818.5 62.5M838.5 48.5L838.5 62.5M837.5 48.5L837.5 62.5M838.5 51.5L836.5 49.5M838.5 50.5L836.5 48.5M836.5 49.5L834.5 48.5M836.5 48.5L834.5 47.5M834.5 48.5L832.5 48.5M834.5 47.5L832.5 47.5M832.5 48.5L830.5 49.5M832.5 47.5L830.5 48.5M830.5 49.5L828.5 51.5M830.5 48.5L828.5 50.5M828.5 51.5L827.5 54.5M827.5 51.5L826.5 54.5M827.5 54.5L827.5 56.5M826.5 54.5L826.5 56.5M827.5 56.5L828.5 59.5M826.5 56.5L827.5 59.5M828.5 59.5L830.5 61.5M828.5 58.5L830.5 60.5M830.5 61.5L832.5 62.5M830.5 60.5L832.5 61.5M832.5 62.5L834.5 62.5M832.5 61.5L834.5 61.5M834.5 62.5L836.5 61.5M834.5 61.5L836.5 60.5M836.5 61.5L838.5 59.5M836.5 60.5L838.5 58.5M845.5 48.5L845.5 62.5M844.5 48.5L844.5 62.5M845.5 54.5L846.5 51.5M844.5 54.5L845.5 51.5M846.5 51.5L848.5 49.5M846.5 50.5L848.5 48.5M848.5 49.5L849.5 48.5M848.5 48.5L849.5 47.5M849.5 48.5L852.5 48.5M849.5 47.5L852.5 47.5M867.5 48.5L857.5 62.5M866.5 48.5L856.5 62.5M857.5 48.5L867.5 48.5M857.5 47.5L867.5 47.5M857.5 62.5L867.5 62.5M857.5 61.5L867.5 61.5M878.5 48.5L876.5 49.5M878.5 47.5L876.5 48.5M876.5 49.5L874.5 51.5M876.5 48.5L874.5 50.5M874.5 51.5L873.5 54.5M873.5 51.5L872.5 54.5M873.5 54.5L873.5 56.5M872.5 54.5L872.5 56.5M873.5 56.5L874.5 59.5M872.5 56.5L873.5 59.5M874.5 59.5L876.5 61.5M874.5 58.5L876.5 60.5M876.5 61.5L878.5 62.5M876.5 60.5L878.5 61.5M878.5 62.5L880.5 62.5M878.5 61.5L880.5 61.5M880.5 62.5L882.5 61.5M880.5 61.5L882.5 60.5M882.5 61.5L884.5 59.5M882.5 60.5L884.5 58.5M884.5 59.5L885.5 56.5M883.5 59.5L884.5 56.5M885.5 56.5L885.5 54.5M884.5 56.5L884.5 54.5M885.5 54.5L884.5 51.5M884.5 54.5L883.5 51.5M884.5 51.5L882.5 49.5M884.5 50.5L882.5 48.5M882.5 49.5L880.5 48.5M882.5 48.5L880.5 47.5M880.5 48.5L878.5 48.5M880.5 47.5L878.5 47.5" fill="none" stroke="#000" stroke-width="1" stroke-linecap="square" shape-rendering="crispEdges"/>
<path d="M438.5 856.5L438.5 869.5M443.5 860.5L443.5 869.5M443.5 863.5L445.5 861.5M445.5 861.5L446.5 860.5M446.5 860.5L447.5 860.5M447.5 860.5L448.5 861.5M448.5 861.5L449.5 863.5M449.5 863.5L449.5 869.5M459.5 862.5L458.5 861.5M458.5 861.5L457.5 860.5M457.5 860.5L455.5 860.5M455.5 860.5L454.5 861.5M454.5 861.5L453.5 862.5M453.5 862.5L454.5 863.5M454.5 863.5L455.5 864.5M455.5 864.5L457.5 864.5M457.5 864.5L458.5 865.5M458.5 865.5L459.5 866.5M459.5 866.5L459.5 867.5M459.5 867.5L458.5 868.5M458.5 868.5L457.5 869.5M457.5 869.5L455.5 869.5M455.5 869.5L454.5 868.5M454.5 868.5L453.5 867.5M464.5 856.5L464.5 866.5M464.5 866.5L464.5 868.5M464.5 868.5L465.5 869.5M465.5 869.5L466.5 869.5M462.5 860.5L466.5 860.5M468.5 856.5L469.5 856.5M469.5 856.5L470.5 856.5M470.5 856.5L469.5 855.5M469.5 855.5L468.5 856.5M469.5 860.5L469.5 869.5M475.5 856.5L475.5 866.5M475.5 866.5L476.5 868.5M476.5 868.5L477.5 869.5M477.5 869.5L478.5 869.5M473.5 860.5L477.5 860.5M480.5 860.5L480.5 866.5M480.5 866.5L481.5 868.5M481.5 868.5L482.5 869.5M482.5 869.5L483.5 869.5M483.5 869.5L484.5 868.5M484.5 868.5L486.5 866.5M486.5 860.5L486.5 869.5M492.5 856.5L492.5 866.5M492.5 866.5L493.5 868.5M493.5 868.5L494.5 869.5M494.5 869.5L495.5 869.5M490.5 860.5L494.5 860.5M499.5 860.5L498.5 861.5M498.5 861.5L497.5 862.5M497.5 862.5L496.5 864.5M496.5 864.5L496.5 865.5M496.5 865.5L497.5 867.5M497.5 867.5L498.5 868.5M498.5 868.5L499.5 869.5M499.5 869.5L500.5 869.5M500.5 869.5L501.5 868.5M501.5 868.5L502.5 867.5M502.5 867.5L503.5 865.5M503.5 865.5L503.5 864.5M503.5 864.5L502.5 862.5M502.5 862.5L501.5 861.5M501.5 861.5L500.5 860.5M500.5 860.5L499.5 860.5M517.5 856.5L517.5 869.5M517.5 856.5L521.5 869.5M525.5 856.5L521.5 869.5M525.5 856.5L525.5 869.5M529.5 864.5L536.5 864.5M536.5 864.5L536.5 863.5M536.5 863.5L535.5 861.5M535.5 861.5L535.5 861.5M535.5 861.5L534.5 860.5M534.5 860.5L532.5 860.5M532.5 860.5L531.5 861.5M531.5 861.5L530.5 862.5M530.5 862.5L529.5 864.5M529.5 864.5L529.5 865.5M529.5 865.5L530.5 867.5M530.5 867.5L531.5 868.5M531.5 868.5L532.5 869.5M532.5 869.5L534.5 869.5M534.5 869.5L535.5 868.5M535.5 868.5L536.5 867.5M541.5 856.5L541.5 866.5M541.5 866.5L541.5 868.5M541.5 868.5L542.5 869.5M542.5 869.5L543.5 869.5M539.5 860.5L543.5 860.5M546.5 864.5L553.5 864.5M553.5 864.5L553.5 863.5M553.5 863.5L552.5 861.5M552.5 861.5L552.5 861.5M552.5 861.5L551.5 860.5M551.5 860.5L549.5 860.5M549.5 860.5L548.5 861.5M548.5 861.5L547.5 862.5M547.5 862.5L546.5 864.5M546.5 864.5L546.5 865.5M546.5 865.5L547.5 867.5M547.5 867.5L548.5 868.5M548.5 868.5L549.5 869.5M549.5 869.5L551.5 869.5M551.5 869.5L552.5 868.5M552.5 868.5L553.5 867.5M559.5 860.5L558.5 861.5M558.5 861.5L557.5 862.5M557.5 862.5L556.5 864.5M556.5 864.5L556.5 865.5M556.5 865.5L557.5 867.5M557.5 867.5L558.5 868.5M558.5 868.5L559.5 869.5M559.5 869.5L560.5 869.5M560.5 869.5L561.5 868.5M561.5 868.5L562.5 867.5M562.5 867.5L563.5 865.5M563.5 865.5L563.5 864.5M563.5 864.5L562.5 862.5M562.5 862.5L561.5 861.5M561.5 861.5L560.5 860.5M560.5 860.5L559.5 860.5M566.5 860.5L566.5 869.5M566.5 864.5L567.5 862.5M567.5 862.5L568.5 861.5M568.5 861.5L569.5 860.5M569.5 860.5L570.5 860.5M576.5 860.5L575.5 861.5M575.5 861.5L574.5 862.5M574.5 862.5L573.5 864.5M573.5 864.5L573.5 865.5M573.5 865.5L574.5 867.5M574.5 867.5L575.5 868.5M575.5 868.5L576.5 869.5M576.5 869.5L577.5 869.5M577.5 869.5L578.5 868.5M578.5 868.5L579.5 867.5M579.5 867.5L580.5 865.5M580.5 865.5L580.5 864.5M580.5 864.5L579.5 862.5M579.5 862.5L578.5 861.5M578.5 861.5L577.5 860.5M577.5 860.5L576.5 860.5M584.5 856.5L584.5 869.5M591.5 860.5L590.5 861.5M590.5 861.5L589.5 862.5M589.5 862.5L588.5 864.5M588.5 864.5L588.5 865.5M588.5 865.5L589.5 867.5M589.5 867.5L590.5 868.5M590.5 868.5L591.5 869.5M591.5 869.5L592.5 869.5M592.5 869.5L593.5 868.5M593.5 868.5L594.5 867.5M594.5 867.5L595.5 865.5M595.5 865.5L595.5 864.5M595.5 864.5L594.5 862.5M594.5 862.5L593.5 861.5M593.5 861.5L592.5 860.5M592.5 860.5L591.5 860.5M605.5 860.5L605.5 870.5M605.5 870.5L604.5 872.5M604.5 872.5L604.5 873.5M604.5 873.5L603.5 873.5M603.5 873.5L601.5 873.5M601.5 873.5L600.5 873.5M605.5 862.5L604.5 861.5M604.5 861.5L603.5 860.5M603.5 860.5L601.5 860.5M601.5 860.5L600.5 861.5M600.5 861.5L599.5 862.5M599.5 862.5L598.5 864.5M598.5 864.5L598.5 865.5M598.5 865.5L599.5 867.5M599.5 867.5L600.5 868.5M600.5 868.5L601.5 869.5M601.5 869.5L603.5 869.5M603.5 869.5L604.5 868.5M604.5 868.5L605.5 867.5M608.5 856.5L609.5 856.5M609.5 856.5L610.5 856.5M610.5 856.5L609.5 855.5M609.5 855.5L608.5 856.5M609.5 860.5L609.5 869.5M619.5 862.5L618.5 861.5M618.5 861.5L617.5 860.5M617.5 860.5L616.5 860.5M616.5 860.5L615.5 861.5M615.5 861.5L614.5 862.5M614.5 862.5L613.5 864.5M613.5 864.5L613.5 865.5M613.5 865.5L614.5 867.5M614.5 867.5L615.5 868.5M615.5 868.5L616.5 869.5M616.5 869.5L617.5 869.5M617.5 869.5L618.5 868.5M618.5 868.5L619.5 867.5M626.5 860.5L625.5 861.5M625.5 861.5L624.5 862.5M624.5 862.5L623.5 864.5M623.5 864.5L623.5 865.5M623.5 865.5L624.5 867.5M624.5 867.5L625.5 868.5M625.5 868.5L626.5 869.5M626.5 869.5L627.5 869.5M627.5 869.5L628.5 868.5M628.5 868.5L629.5 867.5M629.5 867.5L630.5 865.5M630.5 865.5L630.5 864.5M630.5 864.5L629.5 862.5M629.5 862.5L628.5 861.5M628.5 861.5L627.5 860.5M627.5 860.5L626.5 860.5M643.5 856.5L643.5 869.5M643.5 856.5L651.5 869.5M651.5 856.5L651.5 869.5M661.5 860.5L661.5 869.5M661.5 862.5L660.5 861.5M660.5 861.5L659.5 860.5M659.5 860.5L658.5 860.5M658.5 860.5L657.5 861.5M657.5 861.5L656.5 862.5M656.5 862.5L655.5 864.5M655.5 864.5L655.5 865.5M655.5 865.5L656.5 867.5M656.5 867.5L657.5 868.5M657.5 868.5L658.5 869.5M658.5 869.5L659.5 869.5M659.5 869.5L660.5 868.5M660.5 868.5L661.5 867.5M671.5 862.5L670.5 861.5M670.5 861.5L669.5 860.5M669.5 860.5L668.5 860.5M668.5 860.5L667.5 861.5M667.5 861.5L666.5 862.5M666.5 862.5L665.5 864.5M665.5 864.5L665.5 865.5M665.5 865.5L666.5 867.5M666.5 867.5L667.5 868.5M667.5 868.5L668.5 869.5M668.5 869.5L669.5 869.5M669.5 869.5L670.5 868.5M670.5 868.5L671.5 867.5M674.5 856.5L675.5 856.5M675.5 856.5L676.5 856.5M676.5 856.5L675.5 855.5M675.5 855.5L674.5 856.5M675.5 860.5L675.5 869.5M682.5 860.5L681.5 861.5M681.5 861.5L680.5 862.5M680.5 862.5L680.5 864.5M680.5 864.5L680.5 865.5M680.5 865.5L680.5 867.5M680.5 867.5L681.5 868.5M681.5 868.5L682.5 869.5M682.5 869.5L684.5 869.5M684.5 869.5L685.5 868.5M685.5 868.5L686.5 867.5M686.5 867.5L686.5 865.5M686.5 865.5L686.5 864.5M686.5 864.5L686.5 862.5M686.5 862.5L685.5 861.5M685.5 861.5L684.5 860.5M684.5 860.5L682.5 860.5M690.5 860.5L690.5 869.5M690.5 863.5L692.5 861.5M692.5 861.5L693.5 860.5M693.5 860.5L694.5 860.5M694.5 860.5L695.5 861.5M695.5 861.5L696.5 863.5M696.5 863.5L696.5 869.5M707.5 860.5L707.5 869.5M707.5 862.5L706.5 861.5M706.5 861.5L705.5 860.5M705.5 860.5L703.5 860.5M703.5 860.5L702.5 861.5M702.5 861.5L701.5 862.5M701.5 862.5L700.5 864.5M700.5 864.5L700.5 865.5M700.5 865.5L701.5 867.5M701.5 867.5L702.5 868.5M702.5 868.5L703.5 869.5M703.5 869.5L705.5 869.5M705.5 869.5L706.5 868.5M706.5 868.5L707.5 867.5M711.5 856.5L711.5 869.5M733.5 859.5L732.5 858.5M732.5 858.5L731.5 856.5M731.5 856.5L730.5 856.5M730.5 856.5L728.5 856.5M728.5 856.5L727.5 856.5M727.5 856.5L726.5 858.5M726.5 858.5L726.5 859.5M726.5 859.5L725.5 861.5M725.5 861.5L725.5 864.5M725.5 864.5L726.5 866.5M726.5 866.5L726.5 867.5M726.5 867.5L727.5 868.5M727.5 868.5L728.5 869.5M728.5 869.5L730.5 869.5M730.5 869.5L731.5 868.5M731.5 868.5L732.5 867.5M732.5 867.5L733.5 866.5M739.5 860.5L738.5 861.5M738.5 861.5L737.5 862.5M737.5 862.5L736.5 864.5M736.5 864.5L736.5 865.5M736.5 865.5L737.5 867.5M737.5 867.5L738.5 868.5M738.5 868.5L739.5 869.5M739.5 869.5L740.5 869.5M740.5 869.5L741.5 868.5M741.5 868.5L742.5 867.5M742.5 867.5L743.5 865.5M743.5 865.5L743.5 864.5M743.5 864.5L742.5 862.5M742.5 862.5L741.5 861.5M741.5 861.5L740.5 860.5M740.5 860.5L739.5 860.5M752.5 862.5L752.5 861.5M752.5 861.5L750.5 860.5M750.5 860.5L749.5 860.5M749.5 860.5L747.5 861.5M747.5 861.5L747.5 862.5M747.5 862.5L747.5 863.5M747.5 863.5L748.5 864.5M748.5 864.5L751.5 864.5M751.5 864.5L752.5 865.5M752.5 865.5L752.5 866.5M752.5 866.5L752.5 867.5M752.5 867.5L752.5 868.5M752.5 868.5L750.5 869.5M750.5 869.5L749.5 869.5M749.5 869.5L747.5 868.5M747.5 868.5L747.5 867.5M758.5 856.5L758.5 866.5M758.5 866.5L759.5 868.5M759.5 868.5L759.5 869.5M759.5 869.5L760.5 869.5M757.5 860.5L760.5 860.5M769.5 860.5L769.5 869.5M769.5 862.5L768.5 861.5M768.5 861.5L767.5 860.5M767.5 860.5L765.5 860.5M765.5 860.5L764.5 861.5M764.5 861.5L763.5 862.5M763.5 862.5L762.5 864.5M762.5 864.5L762.5 865.5M762.5 865.5L763.5 867.5M763.5 867.5L764.5 868.5M764.5 868.5L765.5 869.5M765.5 869.5L767.5 869.5M767.5 869.5L768.5 868.5M768.5 868.5L769.5 867.5M783.5 856.5L783.5 869.5M783.5 856.5L788.5 856.5M788.5 856.5L789.5 856.5M789.5 856.5L790.5 857.5M790.5 857.5L790.5 858.5M790.5 858.5L790.5 860.5M790.5 860.5L790.5 861.5M790.5 861.5L789.5 861.5M789.5 861.5L788.5 862.5M788.5 862.5L783.5 862.5M787.5 862.5L790.5 869.5M793.5 856.5L794.5 856.5M794.5 856.5L795.5 856.5M795.5 856.5L794.5 855.5M794.5 855.5L793.5 856.5M794.5 860.5L794.5 869.5M804.5 862.5L803.5 861.5M803.5 861.5L802.5 860.5M802.5 860.5L801.5 860.5M801.5 860.5L800.5 861.5M800.5 861.5L799.5 862.5M799.5 862.5L798.5 864.5M798.5 864.5L798.5 865.5M798.5 865.5L799.5 867.5M799.5 867.5L800.5 868.5M800.5 868.5L801.5 869.5M801.5 869.5L802.5 869.5M802.5 869.5L803.5 868.5M803.5 868.5L804.5 867.5M816.5 860.5L816.5 869.5M816.5 862.5L815.5 861.5M815.5 861.5L813.5 860.5M813.5 860.5L811.5 860.5M811.5 860.5L810.5 861.5M810.5 861.5L809.5 862.5M809.5 862.5L808.5 864.5M808.5 864.5L808.5 865.5M808.5 865.5L809.5 867.5M809.5 867.5L810.5 868.5M810.5 868.5L811.5 869.5M811.5 869.5L813.5 869.5M813.5 869.5L815.5 868.5M815.5 868.5L816.5 867.5" fill="none" stroke="#000" stroke-width="1" stroke-linecap="square" shape-rendering="crispEdges"/>
<path d="M13.5 887.5L13.5 886.5M13.5 886.5L12.5 885.5M12.5 885.5L11.5 885.5M11.5 885.5L9.5 885.5M9.5 885.5L9.5 885.5M9.5 885.5L8.5 886.5M8.5 886.5L7.5 887.5M7.5 887.5L7.5 889.5M7.5 889.5L7.5 891.5M7.5 891.5L7.5 893.5M7.5 893.5L8.5 894.5M8.5 894.5L9.5 895.5M9.5 895.5L9.5 895.5M9.5 895.5L11.5 895.5M11.5 895.5L12.5 895.5M12.5 895.5L13.5 894.5M13.5 894.5L13.5 893.5M13.5 893.5L13.5 891.5M11.5 891.5L13.5 891.5M16.5 888.5L16.5 895.5M16.5 891.5L16.5 890.5M16.5 890.5L17.5 889.5M17.5 889.5L18.5 888.5M18.5 888.5L19.5 888.5M24.5 885.5L20.5 895.5M24.5 885.5L27.5 895.5M21.5 892.5L26.5 892.5M29.5 885.5L29.5 895.5M29.5 885.5L32.5 885.5M32.5 885.5L33.5 885.5M33.5 885.5L34.5 886.5M34.5 886.5L35.5 887.5M35.5 887.5L35.5 889.5M35.5 889.5L35.5 891.5M35.5 891.5L35.5 893.5M35.5 893.5L34.5 894.5M34.5 894.5L33.5 895.5M33.5 895.5L32.5 895.5M32.5 895.5L29.5 895.5M45.5 886.5L44.5 885.5M44.5 885.5L43.5 885.5M43.5 885.5L41.5 885.5M41.5 885.5L39.5 885.5M39.5 885.5L38.5 886.5M38.5 886.5L38.5 887.5M38.5 887.5L39.5 888.5M39.5 888.5L39.5 889.5M39.5 889.5L40.5 889.5M40.5 889.5L43.5 890.5M43.5 890.5L44.5 891.5M44.5 891.5L45.5 891.5M45.5 891.5L45.5 892.5M45.5 892.5L45.5 894.5M45.5 894.5L44.5 895.5M44.5 895.5L43.5 895.5M43.5 895.5L41.5 895.5M41.5 895.5L39.5 895.5M39.5 895.5L38.5 894.5M48.5 888.5L47.5 889.5M47.5 889.5L48.5 889.5M48.5 889.5L48.5 889.5M48.5 889.5L48.5 888.5M48.5 894.5L47.5 895.5M47.5 895.5L48.5 895.5M48.5 895.5L48.5 895.5M48.5 895.5L48.5 894.5M66.5 887.5L66.5 886.5M66.5 886.5L65.5 885.5M65.5 885.5L64.5 885.5M64.5 885.5L62.5 885.5M62.5 885.5L61.5 885.5M61.5 885.5L60.5 886.5M60.5 886.5L59.5 887.5M59.5 887.5L59.5 889.5M59.5 889.5L59.5 891.5M59.5 891.5L59.5 893.5M59.5 893.5L60.5 894.5M60.5 894.5L61.5 895.5M61.5 895.5L62.5 895.5M62.5 895.5L64.5 895.5M64.5 895.5L65.5 895.5M65.5 895.5L66.5 894.5M66.5 894.5L66.5 893.5M71.5 885.5L70.5 885.5M70.5 885.5L69.5 886.5M69.5 886.5L68.5 887.5M68.5 887.5L68.5 889.5M68.5 889.5L68.5 891.5M68.5 891.5L68.5 893.5M68.5 893.5L69.5 894.5M69.5 894.5L70.5 895.5M70.5 895.5L71.5 895.5M71.5 895.5L72.5 895.5M72.5 895.5L73.5 895.5M73.5 895.5L74.5 894.5M74.5 894.5L75.5 893.5M75.5 893.5L75.5 891.5M75.5 891.5L75.5 889.5M75.5 889.5L75.5 887.5M75.5 887.5L74.5 886.5M74.5 886.5L73.5 885.5M73.5 885.5L72.5 885.5M72.5 885.5L71.5 885.5M78.5 885.5L78.5 895.5M78.5 895.5L83.5 895.5M88.5 885.5L85.5 895.5M88.5 885.5L91.5 895.5M86.5 892.5L90.5 892.5M100.5 883.5L93.5 898.5M103.5 885.5L103.5 895.5M113.5 887.5L113.5 886.5M113.5 886.5L112.5 885.5M112.5 885.5L111.5 885.5M111.5 885.5L109.5 885.5M109.5 885.5L109.5 885.5M109.5 885.5L108.5 886.5M108.5 886.5L107.5 887.5M107.5 887.5L107.5 889.5M107.5 889.5L107.5 891.5M107.5 891.5L107.5 893.5M107.5 893.5L108.5 894.5M108.5 894.5L109.5 895.5M109.5 895.5L109.5 895.5M109.5 895.5L111.5 895.5M111.5 895.5L112.5 895.5M112.5 895.5L113.5 894.5M113.5 894.5L113.5 893.5M113.5 893.5L113.5 891.5M111.5 891.5L113.5 891.5M116.5 885.5L116.5 895.5M116.5 885.5L121.5 885.5M116.5 890.5L119.5 890.5M116.5 895.5L121.5 895.5M130.5 886.5L129.5 885.5M129.5 885.5L128.5 885.5M128.5 885.5L126.5 885.5M126.5 885.5L125.5 885.5M125.5 885.5L124.5 886.5M124.5 886.5L124.5 887.5M124.5 887.5L124.5 888.5M124.5 888.5L125.5 889.5M125.5 889.5L126.5 889.5M126.5 889.5L128.5 890.5M128.5 890.5L129.5 891.5M129.5 891.5L130.5 891.5M130.5 891.5L130.5 892.5M130.5 892.5L130.5 894.5M130.5 894.5L129.5 895.5M129.5 895.5L128.5 895.5M128.5 895.5L126.5 895.5M126.5 895.5L125.5 895.5M125.5 895.5L124.5 894.5" fill="none" stroke="#000" stroke-width="1" stroke-linecap="square" shape-rendering="crispEdges"/>
<path d="M1026.5 887.5L1026.5 887.5M1026.5 887.5L1027.5 886.5M1027.5 886.5L1027.5 885.5M1027.5 885.5L1028.5 885.5M1028.5 885.5L1030.5 885.5M1030.5 885.5L1031.5 885.5M1031.5 885.5L1031.5 886.5M1031.5 886.5L1032.5 887.5M1032.5 887.5L1032.5 888.5M1032.5 888.5L1031.5 889.5M1031.5 889.5L1030.5 890.5M1030.5 890.5L1026.5 895.5M1026.5 895.5L1032.5 895.5M1038.5 885.5L1036.5 885.5M1036.5 885.5L1035.5 887.5M1035.5 887.5L1035.5 889.5M1035.5 889.5L1035.5 891.5M1035.5 891.5L1035.5 893.5M1035.5 893.5L1036.5 895.5M1036.5 895.5L1038.5 895.5M1038.5 895.5L1038.5 895.5M1038.5 895.5L1040.5 895.5M1040.5 895.5L1041.5 893.5M1041.5 893.5L1041.5 891.5M1041.5 891.5L1041.5 889.5M1041.5 889.5L1041.5 887.5M1041.5 887.5L1040.5 885.5M1040.5 885.5L1038.5 885.5M1038.5 885.5L1038.5 885.5M1044.5 887.5L1044.5 887.5M1044.5 887.5L1045.5 886.5M1045.5 886.5L1045.5 885.5M1045.5 885.5L1046.5 885.5M1046.5 885.5L1048.5 885.5M1048.5 885.5L1049.5 885.5M1049.5 885.5L1049.5 886.5M1049.5 886.5L1050.5 887.5M1050.5 887.5L1050.5 888.5M1050.5 888.5L1049.5 889.5M1049.5 889.5L1048.5 890.5M1048.5 890.5L1044.5 895.5M1044.5 895.5L1050.5 895.5M1057.5 885.5L1053.5 892.5M1053.5 892.5L1059.5 892.5M1057.5 885.5L1057.5 895.5M1062.5 891.5L1069.5 891.5M1076.5 885.5L1074.5 885.5M1074.5 885.5L1073.5 887.5M1073.5 887.5L1073.5 889.5M1073.5 889.5L1073.5 891.5M1073.5 891.5L1073.5 893.5M1073.5 893.5L1074.5 895.5M1074.5 895.5L1076.5 895.5M1076.5 895.5L1076.5 895.5M1076.5 895.5L1078.5 895.5M1078.5 895.5L1079.5 893.5M1079.5 893.5L1079.5 891.5M1079.5 891.5L1079.5 889.5M1079.5 889.5L1079.5 887.5M1079.5 887.5L1078.5 885.5M1078.5 885.5L1076.5 885.5M1076.5 885.5L1076.5 885.5M1083.5 885.5L1088.5 885.5M1088.5 885.5L1085.5 889.5M1085.5 889.5L1086.5 889.5M1086.5 889.5L1087.5 889.5M1087.5 889.5L1088.5 890.5M1088.5 890.5L1088.5 891.5M1088.5 891.5L1088.5 892.5M1088.5 892.5L1088.5 894.5M1088.5 894.5L1087.5 895.5M1087.5 895.5L1085.5 895.5M1085.5 895.5L1084.5 895.5M1084.5 895.5L1083.5 895.5M1083.5 895.5L1082.5 894.5M1082.5 894.5L1082.5 893.5M1091.5 891.5L1098.5 891.5M1104.5 885.5L1102.5 885.5M1102.5 885.5L1101.5 887.5M1101.5 887.5L1101.5 889.5M1101.5 889.5L1101.5 891.5M1101.5 891.5L1101.5 893.5M1101.5 893.5L1102.5 895.5M1102.5 895.5L1104.5 895.5M1104.5 895.5L1104.5 895.5M1104.5 895.5L1106.5 895.5M1106.5 895.5L1107.5 893.5M1107.5 893.5L1107.5 891.5M1107.5 891.5L1107.5 889.5M1107.5 889.5L1107.5 887.5M1107.5 887.5L1106.5 885.5M1106.5 885.5L1104.5 885.5M1104.5 885.5L1104.5 885.5M1115.5 885.5L1111.5 885.5M1111.5 885.5L1110.5 889.5M1110.5 889.5L1111.5 889.5M1111.5 889.5L1112.5 888.5M1112.5 888.5L1113.5 888.5M1113.5 888.5L1115.5 889.5M1115.5 889.5L1116.5 890.5M1116.5 890.5L1116.5 891.5M1116.5 891.5L1116.5 892.5M1116.5 892.5L1116.5 894.5M1116.5 894.5L1115.5 895.5M1115.5 895.5L1113.5 895.5M1113.5 895.5L1112.5 895.5M1112.5 895.5L1111.5 895.5M1111.5 895.5L1110.5 894.5M1110.5 894.5L1110.5 893.5M1119.5 891.5L1127.5 891.5M1130.5 887.5L1130.5 887.5M1130.5 887.5L1131.5 886.5M1131.5 886.5L1131.5 885.5M1131.5 885.5L1132.5 885.5M1132.5 885.5L1134.5 885.5M1134.5 885.5L1135.5 885.5M1135.5 885.5L1135.5 886.5M1135.5 886.5L1136.5 887.5M1136.5 887.5L1136.5 888.5M1136.5 888.5L1135.5 889.5M1135.5 889.5L1134.5 890.5M1134.5 890.5L1130.5 895.5M1130.5 895.5L1136.5 895.5M1140.5 885.5L1145.5 885.5M1145.5 885.5L1142.5 889.5M1142.5 889.5L1143.5 889.5M1143.5 889.5L1144.5 889.5M1144.5 889.5L1145.5 890.5M1145.5 890.5L1145.5 891.5M1145.5 891.5L1145.5 892.5M1145.5 892.5L1145.5 894.5M1145.5 894.5L1144.5 895.5M1144.5 895.5L1142.5 895.5M1142.5 895.5L1141.5 895.5M1141.5 895.5L1140.5 895.5M1140.5 895.5L1139.5 894.5M1139.5 894.5L1139.5 893.5M1149.5 888.5L1148.5 889.5M1148.5 889.5L1149.5 889.5M1149.5 889.5L1149.5 889.5M1149.5 889.5L1149.5 888.5M1149.5 894.5L1148.5 895.5M1148.5 895.5L1149.5 895.5M1149.5 895.5L1149.5 895.5M1149.5 895.5L1149.5 894.5M1155.5 885.5L1153.5 885.5M1153.5 885.5L1152.5 887.5M1152.5 887.5L1152.5 889.5M1152.5 889.5L1152.5 891.5M1152.5 891.5L1152.5 893.5M1152.5 893.5L1153.5 895.5M1153.5 895.5L1155.5 895.5M1155.5 895.5L1155.5 895.5M1155.5 895.5L1157.5 895.5M1157.5 895.5L1158.5 893.5M1158.5 893.5L1158.5 891.5M1158.5 891.5L1158.5 889.5M1158.5 889.5L1158.5 887.5M1158.5 887.5L1157.5 885.5M1157.5 885.5L1155.5 885.5M1155.5 885.5L1155.5 885.5M1161.5 887.5L1161.5 887.5M1161.5 887.5L1162.5 886.5M1162.5 886.5L1162.5 885.5M1162.5 885.5L1163.5 885.5M1163.5 885.5L1165.5 885.5M1165.5 885.5L1166.5 885.5M1166.5 885.5L1166.5 886.5M1166.5 886.5L1167.5 887.5M1167.5 887.5L1167.5 888.5M1167.5 888.5L1166.5 889.5M1166.5 889.5L1165.5 890.5M1165.5 890.5L1161.5 895.5M1161.5 895.5L1167.5 895.5" fill="none" stroke="#000" stroke-width="1" stroke-linecap="square" shape-rendering="crispEdges"/>
<path d="M193.5 816.5L192.5 816.5M192.5 816.5L191.5 817.5M191.5 817.5L191.5 818.5M191.5 818.5L192.5 819.5M192.5 819.5L192.5 820.5M192.5 820.5L194.5 820.5M194.5 820.5L195.5 821.5M195.5 821.5L196.5 822.5M196.5 822.5L197.5 823.5M197.5 823.5L197.5 825.5M197.5 825.5L196.5 826.5M196.5 826.5L196.5 826.5M196.5 826.5L194.5 827.5M194.5 827.5L193.5 827.5M193.5 827.5L192.5 826.5M192.5 826.5L191.5 826.5M191.5 826.5L191.5 825.5M191.5 825.5L191.5 823.5M191.5 823.5L191.5 822.5M191.5 822.5L192.5 821.5M192.5 821.5L193.5 820.5M193.5 820.5L195.5 820.5M195.5 820.5L196.5 819.5M196.5 819.5L196.5 818.5M196.5 818.5L196.5 817.5M196.5 817.5L196.5 816.5M196.5 816.5L194.5 816.5M194.5 816.5L193.5 816.5M203.5 816.5L201.5 816.5M201.5 816.5L201.5 818.5M201.5 818.5L200.5 820.5M200.5 820.5L200.5 822.5M200.5 822.5L201.5 825.5M201.5 825.5L201.5 826.5M201.5 826.5L203.5 827.5M203.5 827.5L203.5 827.5M203.5 827.5L205.5 826.5M205.5 826.5L206.5 825.5M206.5 825.5L206.5 822.5M206.5 822.5L206.5 820.5M206.5 820.5L206.5 818.5M206.5 818.5L205.5 816.5M205.5 816.5L203.5 816.5M203.5 816.5L203.5 816.5M196.5 752.5L196.5 754.5M196.5 754.5L195.5 755.5M195.5 755.5L194.5 755.5M194.5 755.5L193.5 755.5M193.5 755.5L192.5 755.5M192.5 755.5L191.5 754.5M191.5 754.5L191.5 752.5M191.5 752.5L191.5 752.5M191.5 752.5L191.5 750.5M191.5 750.5L192.5 749.5M192.5 749.5L193.5 748.5M193.5 748.5L194.5 748.5M194.5 748.5L195.5 749.5M195.5 749.5L196.5 750.5M196.5 750.5L196.5 752.5M196.5 752.5L196.5 755.5M196.5 755.5L196.5 757.5M196.5 757.5L195.5 759.5M195.5 759.5L194.5 760.5M194.5 760.5L193.5 760.5M193.5 760.5L192.5 759.5M192.5 759.5L191.5 758.5M203.5 748.5L201.5 749.5M201.5 749.5L201.5 750.5M201.5 750.5L200.5 753.5M200.5 753.5L200.5 755.5M200.5 755.5L201.5 757.5M201.5 757.5L201.5 759.5M201.5 759.5L203.5 760.5M203.5 760.5L203.5 760.5M203.5 760.5L205.5 759.5M205.5 759.5L206.5 757.5M206.5 757.5L206.5 755.5M206.5 755.5L206.5 753.5M206.5 753.5L206.5 750.5M206.5 750.5L205.5 749.5M205.5 749.5L203.5 748.5M203.5 748.5L203.5 748.5M182.5 683.5L183.5 683.5M183.5 683.5L185.5 681.5M185.5 681.5L185.5 692.5M193.5 681.5L192.5 681.5M192.5 681.5L191.5 683.5M191.5 683.5L191.5 686.5M191.5 686.5L191.5 687.5M191.5 687.5L191.5 690.5M191.5 690.5L192.5 692.5M192.5 692.5L193.5 692.5M193.5 692.5L194.5 692.5M194.5 692.5L195.5 692.5M195.5 692.5L196.5 690.5M196.5 690.5L197.5 687.5M197.5 687.5L197.5 686.5M197.5 686.5L196.5 683.5M196.5 683.5L195.5 681.5M195.5 681.5L194.5 681.5M194.5 681.5L193.5 681.5M203.5 681.5L201.5 681.5M201.5 681.5L201.5 683.5M201.5 683.5L200.5 686.5M200.5 686.5L200.5 687.5M200.5 687.5L201.5 690.5M201.5 690.5L201.5 692.5M201.5 692.5L203.5 692.5M203.5 692.5L203.5 692.5M203.5 692.5L205.5 692.5M205.5 692.5L206.5 690.5M206.5 690.5L206.5 687.5M206.5 687.5L206.5 686.5M206.5 686.5L206.5 683.5M206.5 683.5L205.5 681.5M205.5 681.5L203.5 681.5M203.5 681.5L203.5 681.5M182.5 616.5L183.5 615.5M183.5 615.5L185.5 614.5M185.5 614.5L185.5 625.5M192.5 616.5L193.5 615.5M193.5 615.5L194.5 614.5M194.5 614.5L194.5 625.5M203.5 614.5L201.5 614.5M201.5 614.5L201.5 616.5M201.5 616.5L200.5 618.5M200.5 618.5L200.5 620.5M200.5 620.5L201.5 623.5M201.5 623.5L201.5 624.5M201.5 624.5L203.5 625.5M203.5 625.5L203.5 625.5M203.5 625.5L205.5 624.5M205.5 624.5L206.5 623.5M206.5 623.5L206.5 620.5M206.5 620.5L206.5 618.5M206.5 618.5L206.5 616.5M206.5 616.5L205.5 614.5M205.5 614.5L203.5 614.5M203.5 614.5L203.5 614.5M182.5 548.5L183.5 548.5M183.5 548.5L185.5 546.5M185.5 546.5L185.5 557.5M191.5 549.5L191.5 548.5M191.5 548.5L192.5 547.5M192.5 547.5L192.5 547.5M192.5 547.5L193.5 546.5M193.5 546.5L194.5 546.5M194.5 546.5L195.5 547.5M195.5 547.5L196.5 547.5M196.5 547.5L196.5 548.5M196.5 548.5L196.5 549.5M196.5 549.5L196.5 551.5M196.5 551.5L195.5 552.5M195.5 552.5L191.5 557.5M191.5 557.5L197.5 557.5M203.5 546.5L201.5 547.5M201.5 547.5L201.5 548.5M201.5 548.5L200.5 551.5M200.5 551.5L200.5 553.5M200.5 553.5L201.5 555.5M201.5 555.5L201.5 557.5M201.5 557.5L203.5 557.5M203.5 557.5L203.5 557.5M203.5 557.5L205.5 557.5M205.5 557.5L206.5 555.5M206.5 555.5L206.5 553.5M206.5 553.5L206.5 551.5M206.5 551.5L206.5 548.5M206.5 548.5L205.5 547.5M205.5 547.5L203.5 546.5M203.5 546.5L203.5 546.5M182.5 481.5L183.5 480.5M183.5 480.5L185.5 479.5M185.5 479.5L185.5 490.5M192.5 479.5L196.5 479.5M196.5 479.5L194.5 483.5M194.5 483.5L195.5 483.5M195.5 483.5L196.5 484.5M196.5 484.5L196.5 484.5M196.5 484.5L197.5 486.5M197.5 486.5L197.5 487.5M197.5 487.5L196.5 489.5M196.5 489.5L195.5 490.5M195.5 490.5L194.5 490.5M194.5 490.5L193.5 490.5M193.5 490.5L192.5 490.5M192.5 490.5L191.5 489.5M191.5 489.5L191.5 488.5M203.5 479.5L201.5 479.5M201.5 479.5L201.5 481.5M201.5 481.5L200.5 484.5M200.5 484.5L200.5 485.5M200.5 485.5L201.5 488.5M201.5 488.5L201.5 490.5M201.5 490.5L203.5 490.5M203.5 490.5L203.5 490.5M203.5 490.5L205.5 490.5M205.5 490.5L206.5 488.5M206.5 488.5L206.5 485.5M206.5 485.5L206.5 484.5M206.5 484.5L206.5 481.5M206.5 481.5L205.5 479.5M205.5 479.5L203.5 479.5M203.5 479.5L203.5 479.5M182.5 414.5L183.5 413.5M183.5 413.5L185.5 411.5M185.5 411.5L185.5 423.5M195.5 411.5L191.5 419.5M191.5 419.5L197.5 419.5M195.5 411.5L195.5 423.5M203.5 411.5L201.5 412.5M201.5 412.5L201.5 414.5M201.5 414.5L200.5 416.5M200.5 416.5L200.5 418.5M200.5 418.5L201.5 421.5M201.5 421.5L201.5 422.5M201.5 422.5L203.5 423.5M203.5 423.5L203.5 423.5M203.5 423.5L205.5 422.5M205.5 422.5L206.5 421.5M206.5 421.5L206.5 418.5M206.5 418.5L206.5 416.5M206.5 416.5L206.5 414.5M206.5 414.5L205.5 412.5M205.5 412.5L203.5 411.5M203.5 411.5L203.5 411.5M182.5 346.5L183.5 346.5M183.5 346.5L185.5 344.5M185.5 344.5L185.5 355.5M196.5 344.5L192.5 344.5M192.5 344.5L191.5 349.5M191.5 349.5L192.5 348.5M192.5 348.5L193.5 348.5M193.5 348.5L194.5 348.5M194.5 348.5L195.5 348.5M195.5 348.5L196.5 349.5M196.5 349.5L197.5 351.5M197.5 351.5L197.5 352.5M197.5 352.5L196.5 354.5M196.5 354.5L195.5 355.5M195.5 355.5L194.5 355.5M194.5 355.5L193.5 355.5M193.5 355.5L192.5 355.5M192.5 355.5L191.5 354.5M191.5 354.5L191.5 353.5M203.5 344.5L201.5 345.5M201.5 345.5L201.5 346.5M201.5 346.5L200.5 349.5M200.5 349.5L200.5 351.5M200.5 351.5L201.5 353.5M201.5 353.5L201.5 355.5M201.5 355.5L203.5 355.5M203.5 355.5L203.5 355.5M203.5 355.5L205.5 355.5M205.5 355.5L206.5 353.5M206.5 353.5L206.5 351.5M206.5 351.5L206.5 349.5M206.5 349.5L206.5 346.5M206.5 346.5L205.5 345.5M205.5 345.5L203.5 344.5M203.5 344.5L203.5 344.5M182.5 279.5L183.5 278.5M183.5 278.5L185.5 277.5M185.5 277.5L185.5 288.5M196.5 278.5L196.5 277.5M196.5 277.5L194.5 277.5M194.5 277.5L194.5 277.5M194.5 277.5L192.5 277.5M192.5 277.5L192.5 279.5M192.5 279.5L191.5 282.5M191.5 282.5L191.5 284.5M191.5 284.5L192.5 286.5M192.5 286.5L192.5 288.5M192.5 288.5L194.5 288.5M194.5 288.5L194.5 288.5M194.5 288.5L195.5 288.5M195.5 288.5L196.5 286.5M196.5 286.5L197.5 285.5M197.5 285.5L197.5 284.5M197.5 284.5L196.5 283.5M196.5 283.5L195.5 282.5M195.5 282.5L194.5 281.5M194.5 281.5L194.5 281.5M194.5 281.5L192.5 282.5M192.5 282.5L192.5 283.5M192.5 283.5L191.5 284.5M203.5 277.5L201.5 277.5M201.5 277.5L201.5 279.5M201.5 279.5L200.5 282.5M200.5 282.5L200.5 283.5M200.5 283.5L201.5 286.5M201.5 286.5L201.5 288.5M201.5 288.5L203.5 288.5M203.5 288.5L203.5 288.5M203.5 288.5L205.5 288.5M205.5 288.5L206.5 286.5M206.5 286.5L206.5 283.5M206.5 283.5L206.5 282.5M206.5 282.5L206.5 279.5M206.5 279.5L205.5 277.5M205.5 277.5L203.5 277.5M203.5 277.5L203.5 277.5M182.5 212.5L183.5 211.5M183.5 211.5L185.5 209.5M185.5 209.5L185.5 221.5M197.5 209.5L192.5 221.5M191.5 209.5L197.5 209.5M203.5 209.5L201.5 210.5M201.5 210.5L201.5 212.5M201.5 212.5L200.5 214.5M200.5 214.5L200.5 216.5M200.5 216.5L201.5 219.5M201.5 219.5L201.5 220.5M201.5 220.5L203.5 221.5M203.5 221.5L203.5 221.5M203.5 221.5L205.5 220.5M205.5 220.5L206.5 219.5M206.5 219.5L206.5 216.5M206.5 216.5L206.5 214.5M206.5 214.5L206.5 212.5M206.5 212.5L205.5 210.5M205.5 210.5L203.5 209.5M203.5 209.5L203.5 209.5M182.5 144.5L183.5 144.5M183.5 144.5L185.5 142.5M185.5 142.5L185.5 153.5M193.5 142.5L192.5 143.5M192.5 143.5L191.5 144.5M191.5 144.5L191.5 145.5M191.5 145.5L192.5 146.5M192.5 146.5L192.5 146.5M192.5 146.5L194.5 147.5M194.5 147.5L195.5 147.5M195.5 147.5L196.5 148.5M196.5 148.5L197.5 150.5M197.5 150.5L197.5 151.5M197.5 151.5L196.5 152.5M196.5 152.5L196.5 153.5M196.5 153.5L194.5 153.5M194.5 153.5L193.5 153.5M193.5 153.5L192.5 153.5M192.5 153.5L191.5 152.5M191.5 152.5L191.5 151.5M191.5 151.5L191.5 150.5M191.5 150.5L191.5 148.5M191.5 148.5L192.5 147.5M192.5 147.5L193.5 147.5M193.5 147.5L195.5 146.5M195.5 146.5L196.5 146.5M196.5 146.5L196.5 145.5M196.5 145.5L196.5 144.5M196.5 144.5L196.5 143.5M196.5 143.5L194.5 142.5M194.5 142.5L193.5 142.5M203.5 142.5L201.5 143.5M201.5 143.5L201.5 144.5M201.5 144.5L200.5 147.5M200.5 147.5L200.5 148.5M200.5 148.5L201.5 151.5M201.5 151.5L201.5 153.5M201.5 153.5L203.5 153.5M203.5 153.5L203.5 153.5M203.5 153.5L205.5 153.5M205.5 153.5L206.5 151.5M206.5 151.5L206.5 148.5M206.5 148.5L206.5 147.5M206.5 147.5L206.5 144.5M206.5 144.5L205.5 143.5M205.5 143.5L203.5 142.5M203.5 142.5L203.5 142.5M182.5 77.5L183.5 76.5M183.5 76.5L185.5 75.5M185.5 75.5L185.5 86.5M196.5 78.5L196.5 80.5M196.5 80.5L195.5 81.5M195.5 81.5L194.5 82.5M194.5 82.5L193.5 82.5M193.5 82.5L192.5 81.5M192.5 81.5L191.5 80.5M191.5 80.5L191.5 78.5M191.5 78.5L191.5 78.5M191.5 78.5L191.5 76.5M191.5 76.5L192.5 75.5M192.5 75.5L193.5 75.5M193.5 75.5L194.5 75.5M194.5 75.5L195.5 75.5M195.5 75.5L196.5 76.5M196.5 76.5L196.5 78.5M196.5 78.5L196.5 81.5M196.5 81.5L196.5 84.5M196.5 84.5L195.5 85.5M195.5 85.5L194.5 86.5M194.5 86.5L193.5 86.5M193.5 86.5L192.5 85.5M192.5 85.5L191.5 84.5M203.5 75.5L201.5 75.5M201.5 75.5L201.5 77.5M201.5 77.5L200.5 79.5M200.5 79.5L200.5 81.5M200.5 81.5L201.5 84.5M201.5 84.5L201.5 85.5M201.5 85.5L203.5 86.5M203.5 86.5L203.5 86.5M203.5 86.5L205.5 85.5M205.5 85.5L206.5 84.5M206.5 84.5L206.5 81.5M206.5 81.5L206.5 79.5M206.5 79.5L206.5 77.5M206.5 77.5L205.5 75.5M205.5 75.5L203.5 75.5M203.5 75.5L203.5 75.5" fill="none" stroke="#000" stroke-width="1" stroke-linecap="square" shape-rendering="crispEdges"/>
<path d="M201.5 832.5L202.5 831.5M202.5 831.5L204.5 830.5M204.5 830.5L204.5 841.5M214.5 830.5L214.5 838.5M214.5 838.5L213.5 840.5M213.5 840.5L213.5 841.5M213.5 841.5L212.5 841.5M212.5 841.5L211.5 841.5M211.5 841.5L210.5 841.5M210.5 841.5L210.5 840.5M210.5 840.5L209.5 838.5M209.5 838.5L209.5 837.5M218.5 830.5L218.5 838.5M218.5 838.5L218.5 839.5M218.5 839.5L219.5 841.5M219.5 841.5L221.5 841.5M221.5 841.5L222.5 841.5M222.5 841.5L223.5 841.5M223.5 841.5L224.5 839.5M224.5 839.5L224.5 838.5M224.5 838.5L224.5 830.5M228.5 830.5L228.5 841.5M228.5 830.5L235.5 841.5M235.5 830.5L235.5 841.5M265.5 830.5L270.5 830.5M270.5 830.5L267.5 834.5M267.5 834.5L269.5 834.5M269.5 834.5L270.5 835.5M270.5 835.5L270.5 835.5M270.5 835.5L270.5 837.5M270.5 837.5L270.5 838.5M270.5 838.5L270.5 839.5M270.5 839.5L269.5 841.5M269.5 841.5L268.5 841.5M268.5 841.5L266.5 841.5M266.5 841.5L265.5 841.5M265.5 841.5L264.5 840.5M264.5 840.5L264.5 839.5M278.5 830.5L278.5 838.5M278.5 838.5L277.5 840.5M277.5 840.5L277.5 841.5M277.5 841.5L276.5 841.5M276.5 841.5L275.5 841.5M275.5 841.5L274.5 841.5M274.5 841.5L274.5 840.5M274.5 840.5L273.5 838.5M273.5 838.5L273.5 837.5M282.5 830.5L282.5 838.5M282.5 838.5L282.5 839.5M282.5 839.5L283.5 841.5M283.5 841.5L285.5 841.5M285.5 841.5L285.5 841.5M285.5 841.5L287.5 841.5M287.5 841.5L288.5 839.5M288.5 839.5L288.5 838.5M288.5 838.5L288.5 830.5M292.5 830.5L292.5 841.5M292.5 830.5L299.5 841.5M299.5 830.5L299.5 841.5M333.5 830.5L329.5 830.5M329.5 830.5L328.5 835.5M328.5 835.5L329.5 834.5M329.5 834.5L330.5 834.5M330.5 834.5L332.5 834.5M332.5 834.5L333.5 834.5M333.5 834.5L334.5 835.5M334.5 835.5L334.5 837.5M334.5 837.5L334.5 838.5M334.5 838.5L334.5 839.5M334.5 839.5L333.5 841.5M333.5 841.5L332.5 841.5M332.5 841.5L330.5 841.5M330.5 841.5L329.5 841.5M329.5 841.5L328.5 840.5M328.5 840.5L328.5 839.5M342.5 830.5L342.5 838.5M342.5 838.5L341.5 840.5M341.5 840.5L341.5 841.5M341.5 841.5L340.5 841.5M340.5 841.5L339.5 841.5M339.5 841.5L338.5 841.5M338.5 841.5L338.5 840.5M338.5 840.5L337.5 838.5M337.5 838.5L337.5 837.5M346.5 830.5L346.5 838.5M346.5 838.5L346.5 839.5M346.5 839.5L347.5 841.5M347.5 841.5L348.5 841.5M348.5 841.5L349.5 841.5M349.5 841.5L351.5 841.5M351.5 841.5L352.5 839.5M352.5 839.5L352.5 838.5M352.5 838.5L352.5 830.5M356.5 830.5L356.5 841.5M356.5 830.5L363.5 841.5M363.5 830.5L363.5 841.5M398.5 830.5L394.5 841.5M392.5 830.5L398.5 830.5M406.5 830.5L406.5 838.5M406.5 838.5L405.5 840.5M405.5 840.5L405.5 841.5M405.5 841.5L404.5 841.5M404.5 841.5L403.5 841.5M403.5 841.5L402.5 841.5M402.5 841.5L401.5 840.5M401.5 840.5L401.5 838.5M401.5 838.5L401.5 837.5M410.5 830.5L410.5 838.5M410.5 838.5L410.5 839.5M410.5 839.5L411.5 841.5M411.5 841.5L412.5 841.5M412.5 841.5L413.5 841.5M413.5 841.5L415.5 841.5M415.5 841.5L416.5 839.5M416.5 839.5L416.5 838.5M416.5 838.5L416.5 830.5M420.5 830.5L420.5 841.5M420.5 830.5L427.5 841.5M427.5 830.5L427.5 841.5M462.5 834.5L461.5 835.5M461.5 835.5L460.5 836.5M460.5 836.5L459.5 837.5M459.5 837.5L459.5 837.5M459.5 837.5L457.5 836.5M457.5 836.5L456.5 835.5M456.5 835.5L456.5 834.5M456.5 834.5L456.5 833.5M456.5 833.5L456.5 831.5M456.5 831.5L457.5 830.5M457.5 830.5L459.5 830.5M459.5 830.5L459.5 830.5M459.5 830.5L460.5 830.5M460.5 830.5L461.5 831.5M461.5 831.5L462.5 834.5M462.5 834.5L462.5 836.5M462.5 836.5L461.5 839.5M461.5 839.5L460.5 841.5M460.5 841.5L459.5 841.5M459.5 841.5L458.5 841.5M458.5 841.5L457.5 841.5M457.5 841.5L456.5 839.5M470.5 830.5L470.5 838.5M470.5 838.5L469.5 840.5M469.5 840.5L469.5 841.5M469.5 841.5L468.5 841.5M468.5 841.5L467.5 841.5M467.5 841.5L466.5 841.5M466.5 841.5L465.5 840.5M465.5 840.5L465.5 838.5M465.5 838.5L465.5 837.5M474.5 830.5L474.5 838.5M474.5 838.5L474.5 839.5M474.5 839.5L475.5 841.5M475.5 841.5L476.5 841.5M476.5 841.5L477.5 841.5M477.5 841.5L479.5 841.5M479.5 841.5L480.5 839.5M480.5 839.5L480.5 838.5M480.5 838.5L480.5 830.5M484.5 830.5L484.5 841.5M484.5 830.5L491.5 841.5M491.5 830.5L491.5 841.5M516.5 832.5L517.5 831.5M517.5 831.5L519.5 830.5M519.5 830.5L519.5 841.5M526.5 832.5L527.5 831.5M527.5 831.5L528.5 830.5M528.5 830.5L528.5 841.5M538.5 830.5L538.5 838.5M538.5 838.5L538.5 840.5M538.5 840.5L537.5 841.5M537.5 841.5L536.5 841.5M536.5 841.5L535.5 841.5M535.5 841.5L535.5 841.5M535.5 841.5L534.5 840.5M534.5 840.5L534.5 838.5M534.5 838.5L534.5 837.5M542.5 830.5L542.5 838.5M542.5 838.5L543.5 839.5M543.5 839.5L544.5 841.5M544.5 841.5L545.5 841.5M545.5 841.5L546.5 841.5M546.5 841.5L547.5 841.5M547.5 841.5L548.5 839.5M548.5 839.5L549.5 838.5M549.5 838.5L549.5 830.5M553.5 830.5L553.5 841.5M553.5 830.5L559.5 841.5M559.5 830.5L559.5 841.5M580.5 832.5L581.5 831.5M581.5 831.5L583.5 830.5M583.5 830.5L583.5 841.5M589.5 830.5L594.5 830.5M594.5 830.5L592.5 834.5M592.5 834.5L593.5 834.5M593.5 834.5L594.5 835.5M594.5 835.5L594.5 835.5M594.5 835.5L595.5 837.5M595.5 837.5L595.5 838.5M595.5 838.5L594.5 839.5M594.5 839.5L594.5 841.5M594.5 841.5L592.5 841.5M592.5 841.5L591.5 841.5M591.5 841.5L589.5 841.5M589.5 841.5L589.5 840.5M589.5 840.5L588.5 839.5M602.5 830.5L602.5 838.5M602.5 838.5L602.5 840.5M602.5 840.5L601.5 841.5M601.5 841.5L600.5 841.5M600.5 841.5L599.5 841.5M599.5 841.5L598.5 841.5M598.5 841.5L598.5 840.5M598.5 840.5L598.5 838.5M598.5 838.5L598.5 837.5M606.5 830.5L606.5 838.5M606.5 838.5L607.5 839.5M607.5 839.5L608.5 841.5M608.5 841.5L609.5 841.5M609.5 841.5L610.5 841.5M610.5 841.5L611.5 841.5M611.5 841.5L612.5 839.5M612.5 839.5L613.5 838.5M613.5 838.5L613.5 830.5M617.5 830.5L617.5 841.5M617.5 830.5L623.5 841.5M623.5 830.5L623.5 841.5M644.5 832.5L645.5 831.5M645.5 831.5L646.5 830.5M646.5 830.5L646.5 841.5M658.5 830.5L653.5 830.5M653.5 830.5L653.5 835.5M653.5 835.5L653.5 834.5M653.5 834.5L655.5 834.5M655.5 834.5L656.5 834.5M656.5 834.5L657.5 834.5M657.5 834.5L658.5 835.5M658.5 835.5L659.5 837.5M659.5 837.5L659.5 838.5M659.5 838.5L658.5 839.5M658.5 839.5L657.5 841.5M657.5 841.5L656.5 841.5M656.5 841.5L655.5 841.5M655.5 841.5L653.5 841.5M653.5 841.5L653.5 840.5M653.5 840.5L652.5 839.5M666.5 830.5L666.5 838.5M666.5 838.5L666.5 840.5M666.5 840.5L665.5 841.5M665.5 841.5L664.5 841.5M664.5 841.5L663.5 841.5M663.5 841.5L662.5 841.5M662.5 841.5L662.5 840.5M662.5 840.5L661.5 838.5M661.5 838.5L661.5 837.5M670.5 830.5L670.5 838.5M670.5 838.5L671.5 839.5M671.5 839.5L672.5 841.5M672.5 841.5L673.5 841.5M673.5 841.5L674.5 841.5M674.5 841.5L675.5 841.5M675.5 841.5L676.5 839.5M676.5 839.5L677.5 838.5M677.5 838.5L677.5 830.5M681.5 830.5L681.5 841.5M681.5 830.5L687.5 841.5M687.5 830.5L687.5 841.5M708.5 832.5L709.5 831.5M709.5 831.5L710.5 830.5M710.5 830.5L710.5 841.5M723.5 830.5L718.5 841.5M716.5 830.5L723.5 830.5M730.5 830.5L730.5 838.5M730.5 838.5L730.5 840.5M730.5 840.5L729.5 841.5M729.5 841.5L728.5 841.5M728.5 841.5L727.5 841.5M727.5 841.5L726.5 841.5M726.5 841.5L726.5 840.5M726.5 840.5L725.5 838.5M725.5 838.5L725.5 837.5M734.5 830.5L734.5 838.5M734.5 838.5L735.5 839.5M735.5 839.5L735.5 841.5M735.5 841.5L737.5 841.5M737.5 841.5L738.5 841.5M738.5 841.5L739.5 841.5M739.5 841.5L740.5 839.5M740.5 839.5L741.5 838.5M741.5 838.5L741.5 830.5M745.5 830.5L745.5 841.5M745.5 830.5L751.5 841.5M751.5 830.5L751.5 841.5M772.5 832.5L773.5 831.5M773.5 831.5L774.5 830.5M774.5 830.5L774.5 841.5M786.5 834.5L786.5 835.5M786.5 835.5L785.5 836.5M785.5 836.5L783.5 837.5M783.5 837.5L783.5 837.5M783.5 837.5L782.5 836.5M782.5 836.5L781.5 835.5M781.5 835.5L780.5 834.5M780.5 834.5L780.5 833.5M780.5 833.5L781.5 831.5M781.5 831.5L782.5 830.5M782.5 830.5L783.5 830.5M783.5 830.5L783.5 830.5M783.5 830.5L785.5 830.5M785.5 830.5L786.5 831.5M786.5 831.5L786.5 834.5M786.5 834.5L786.5 836.5M786.5 836.5L786.5 839.5M786.5 839.5L785.5 841.5M785.5 841.5L783.5 841.5M783.5 841.5L783.5 841.5M783.5 841.5L781.5 841.5M781.5 841.5L781.5 839.5M794.5 830.5L794.5 838.5M794.5 838.5L793.5 840.5M793.5 840.5L793.5 841.5M793.5 841.5L792.5 841.5M792.5 841.5L791.5 841.5M791.5 841.5L790.5 841.5M790.5 841.5L790.5 840.5M790.5 840.5L789.5 838.5M789.5 838.5L789.5 837.5M798.5 830.5L798.5 838.5M798.5 838.5L798.5 839.5M798.5 839.5L799.5 841.5M799.5 841.5L801.5 841.5M801.5 841.5L802.5 841.5M802.5 841.5L803.5 841.5M803.5 841.5L804.5 839.5M804.5 839.5L804.5 838.5M804.5 838.5L804.5 830.5M809.5 830.5L809.5 841.5M809.5 830.5L815.5 841.5M815.5 830.5L815.5 841.5M835.5 832.5L835.5 832.5M835.5 832.5L836.5 831.5M836.5 831.5L836.5 830.5M836.5 830.5L837.5 830.5M837.5 830.5L839.5 830.5M839.5 830.5L840.5 830.5M840.5 830.5L840.5 831.5M840.5 831.5L841.5 832.5M841.5 832.5L841.5 833.5M841.5 833.5L840.5 834.5M840.5 834.5L839.5 836.5M839.5 836.5L835.5 841.5M835.5 841.5L841.5 841.5M846.5 832.5L846.5 831.5M846.5 831.5L848.5 830.5M848.5 830.5L848.5 841.5M858.5 830.5L858.5 838.5M858.5 838.5L857.5 840.5M857.5 840.5L857.5 841.5M857.5 841.5L856.5 841.5M856.5 841.5L855.5 841.5M855.5 841.5L854.5 841.5M854.5 841.5L854.5 840.5M854.5 840.5L853.5 838.5M853.5 838.5L853.5 837.5M862.5 830.5L862.5 838.5M862.5 838.5L862.5 839.5M862.5 839.5L863.5 841.5M863.5 841.5L865.5 841.5M865.5 841.5L866.5 841.5M866.5 841.5L867.5 841.5M867.5 841.5L868.5 839.5M868.5 839.5L868.5 838.5M868.5 838.5L868.5 830.5M873.5 830.5L873.5 841.5M873.5 830.5L879.5 841.5M879.5 830.5L879.5 841.5M899.5 832.5L899.5 832.5M899.5 832.5L899.5 831.5M899.5 831.5L900.5 830.5M900.5 830.5L901.5 830.5M901.5 830.5L903.5 830.5M903.5 830.5L904.5 830.5M904.5 830.5L904.5 831.5M904.5 831.5L904.5 832.5M904.5 832.5L904.5 833.5M904.5 833.5L904.5 834.5M904.5 834.5L903.5 836.5M903.5 836.5L899.5 841.5M899.5 841.5L905.5 841.5M909.5 830.5L914.5 830.5M914.5 830.5L911.5 834.5M911.5 834.5L913.5 834.5M913.5 834.5L914.5 835.5M914.5 835.5L914.5 835.5M914.5 835.5L915.5 837.5M915.5 837.5L915.5 838.5M915.5 838.5L914.5 839.5M914.5 839.5L913.5 841.5M913.5 841.5L912.5 841.5M912.5 841.5L910.5 841.5M910.5 841.5L909.5 841.5M909.5 841.5L909.5 840.5M909.5 840.5L908.5 839.5M922.5 830.5L922.5 838.5M922.5 838.5L921.5 840.5M921.5 840.5L921.5 841.5M921.5 841.5L920.5 841.5M920.5 841.5L919.5 841.5M919.5 841.5L918.5 841.5M918.5 841.5L918.5 840.5M918.5 840.5L917.5 838.5M917.5 838.5L917.5 837.5M926.5 830.5L926.5 838.5M926.5 838.5L926.5 839.5M926.5 839.5L927.5 841.5M927.5 841.5L929.5 841.5M929.5 841.5L930.5 841.5M930.5 841.5L931.5 841.5M931.5 841.5L932.5 839.5M932.5 839.5L932.5 838.5M932.5 838.5L932.5 830.5M936.5 830.5L936.5 841.5M936.5 830.5L943.5 841.5M943.5 830.5L943.5 841.5M963.5 832.5L963.5 832.5M963.5 832.5L963.5 831.5M963.5 831.5L964.5 830.5M964.5 830.5L965.5 830.5M965.5 830.5L967.5 830.5M967.5 830.5L968.5 830.5M968.5 830.5L968.5 831.5M968.5 831.5L968.5 832.5M968.5 832.5L968.5 833.5M968.5 833.5L968.5 834.5M968.5 834.5L967.5 836.5M967.5 836.5L962.5 841.5M962.5 841.5L969.5 841.5M978.5 830.5L973.5 830.5M973.5 830.5L973.5 835.5M973.5 835.5L973.5 834.5M973.5 834.5L974.5 834.5M974.5 834.5L976.5 834.5M976.5 834.5L977.5 834.5M977.5 834.5L978.5 835.5M978.5 835.5L978.5 837.5M978.5 837.5L978.5 838.5M978.5 838.5L978.5 839.5M978.5 839.5L977.5 841.5M977.5 841.5L976.5 841.5M976.5 841.5L974.5 841.5M974.5 841.5L973.5 841.5M973.5 841.5L973.5 840.5M973.5 840.5L972.5 839.5M986.5 830.5L986.5 838.5M986.5 838.5L985.5 840.5M985.5 840.5L985.5 841.5M985.5 841.5L984.5 841.5M984.5 841.5L983.5 841.5M983.5 841.5L982.5 841.5M982.5 841.5L982.5 840.5M982.5 840.5L981.5 838.5M981.5 838.5L981.5 837.5M990.5 830.5L990.5 838.5M990.5 838.5L990.5 839.5M990.5 839.5L991.5 841.5M991.5 841.5L993.5 841.5M993.5 841.5L993.5 841.5M993.5 841.5L995.5 841.5M995.5 841.5L996.5 839.5M996.5 839.5L996.5 838.5M996.5 838.5L996.5 830.5M1000.5 830.5L1000.5 841.5M1000.5 830.5L1007.5 841.5M1007.5 830.5L1007.5 841.5M1027.5 832.5L1027.5 832.5M1027.5 832.5L1027.5 831.5M1027.5 831.5L1028.5 830.5M1028.5 830.5L1029.5 830.5M1029.5 830.5L1031.5 830.5M1031.5 830.5L1031.5 830.5M1031.5 830.5L1032.5 831.5M1032.5 831.5L1032.5 832.5M1032.5 832.5L1032.5 833.5M1032.5 833.5L1032.5 834.5M1032.5 834.5L1031.5 836.5M1031.5 836.5L1026.5 841.5M1026.5 841.5L1033.5 841.5M1042.5 830.5L1038.5 841.5M1036.5 830.5L1042.5 830.5M1050.5 830.5L1050.5 838.5M1050.5 838.5L1049.5 840.5M1049.5 840.5L1049.5 841.5M1049.5 841.5L1048.5 841.5M1048.5 841.5L1047.5 841.5M1047.5 841.5L1046.5 841.5M1046.5 841.5L1046.5 840.5M1046.5 840.5L1045.5 838.5M1045.5 838.5L1045.5 837.5M1054.5 830.5L1054.5 838.5M1054.5 838.5L1054.5 839.5M1054.5 839.5L1055.5 841.5M1055.5 841.5L1056.5 841.5M1056.5 841.5L1057.5 841.5M1057.5 841.5L1059.5 841.5M1059.5 841.5L1060.5 839.5M1060.5 839.5L1060.5 838.5M1060.5 838.5L1060.5 830.5M1064.5 830.5L1064.5 841.5M1064.5 830.5L1071.5 841.5M1071.5 830.5L1071.5 841.5M1091.5 832.5L1091.5 832.5M1091.5 832.5L1091.5 831.5M1091.5 831.5L1092.5 830.5M1092.5 830.5L1093.5 830.5M1093.5 830.5L1094.5 830.5M1094.5 830.5L1095.5 830.5M1095.5 830.5L1096.5 831.5M1096.5 831.5L1096.5 832.5M1096.5 832.5L1096.5 833.5M1096.5 833.5L1096.5 834.5M1096.5 834.5L1095.5 836.5M1095.5 836.5L1090.5 841.5M1090.5 841.5L1097.5 841.5M1106.5 834.5L1105.5 835.5M1105.5 835.5L1105.5 836.5M1105.5 836.5L1103.5 837.5M1103.5 837.5L1103.5 837.5M1103.5 837.5L1101.5 836.5M1101.5 836.5L1100.5 835.5M1100.5 835.5L1100.5 834.5M1100.5 834.5L1100.5 833.5M1100.5 833.5L1100.5 831.5M1100.5 831.5L1101.5 830.5M1101.5 830.5L1103.5 830.5M1103.5 830.5L1103.5 830.5M1103.5 830.5L1105.5 830.5M1105.5 830.5L1105.5 831.5M1105.5 831.5L1106.5 834.5M1106.5 834.5L1106.5 836.5M1106.5 836.5L1105.5 839.5M1105.5 839.5L1105.5 841.5M1105.5 841.5L1103.5 841.5M1103.5 841.5L1102.5 841.5M1102.5 841.5L1101.5 841.5M1101.5 841.5L1100.5 839.5M1114.5 830.5L1114.5 838.5M1114.5 838.5L1113.5 840.5M1113.5 840.5L1113.5 841.5M1113.5 841.5L1112.5 841.5M1112.5 841.5L1111.5 841.5M1111.5 841.5L1110.5 841.5M1110.5 841.5L1109.5 840.5M1109.5 840.5L1109.5 838.5M1109.5 838.5L1109.5 837.5M1118.5 830.5L1118.5 838.5M1118.5 838.5L1118.5 839.5M1118.5 839.5L1119.5 841.5M1119.5 841.5L1120.5 841.5M1120.5 841.5L1121.5 841.5M1121.5 841.5L1123.5 841.5M1123.5 841.5L1124.5 839.5M1124.5 839.5L1124.5 838.5M1124.5 838.5L1124.5 830.5M1128.5 830.5L1128.5 841.5M1128.5 830.5L1135.5 841.5M1135.5 830.5L1135.5 841.5M201.5 848.5L201.5 848.5M201.5 848.5L201.5 847.5M201.5 847.5L201.5 846.5M201.5 846.5L202.5 846.5M202.5 846.5L204.5 846.5M204.5 846.5L205.5 846.5M205.5 846.5L206.5 847.5M206.5 847.5L206.5 848.5M206.5 848.5L206.5 849.5M206.5 849.5L206.5 850.5M206.5 850.5L205.5 852.5M205.5 852.5L200.5 857.5M200.5 857.5L207.5 857.5M212.5 846.5L211.5 846.5M211.5 846.5L210.5 848.5M210.5 848.5L210.5 851.5M210.5 851.5L210.5 852.5M210.5 852.5L210.5 855.5M210.5 855.5L211.5 857.5M211.5 857.5L212.5 857.5M212.5 857.5L213.5 857.5M213.5 857.5L215.5 857.5M215.5 857.5L216.5 855.5M216.5 855.5L216.5 852.5M216.5 852.5L216.5 851.5M216.5 851.5L216.5 848.5M216.5 848.5L215.5 846.5M215.5 846.5L213.5 846.5M213.5 846.5L212.5 846.5M220.5 848.5L220.5 848.5M220.5 848.5L220.5 847.5M220.5 847.5L221.5 846.5M221.5 846.5L222.5 846.5M222.5 846.5L223.5 846.5M223.5 846.5L224.5 846.5M224.5 846.5L225.5 847.5M225.5 847.5L225.5 848.5M225.5 848.5L225.5 849.5M225.5 849.5L225.5 850.5M225.5 850.5L224.5 852.5M224.5 852.5L219.5 857.5M219.5 857.5L226.5 857.5M233.5 846.5L229.5 853.5M229.5 853.5L236.5 853.5M233.5 846.5L233.5 857.5" fill="none" stroke="#000" stroke-width="1" stroke-linecap="square" shape-rendering="crispEdges"/>
</svg>
</body></html>
